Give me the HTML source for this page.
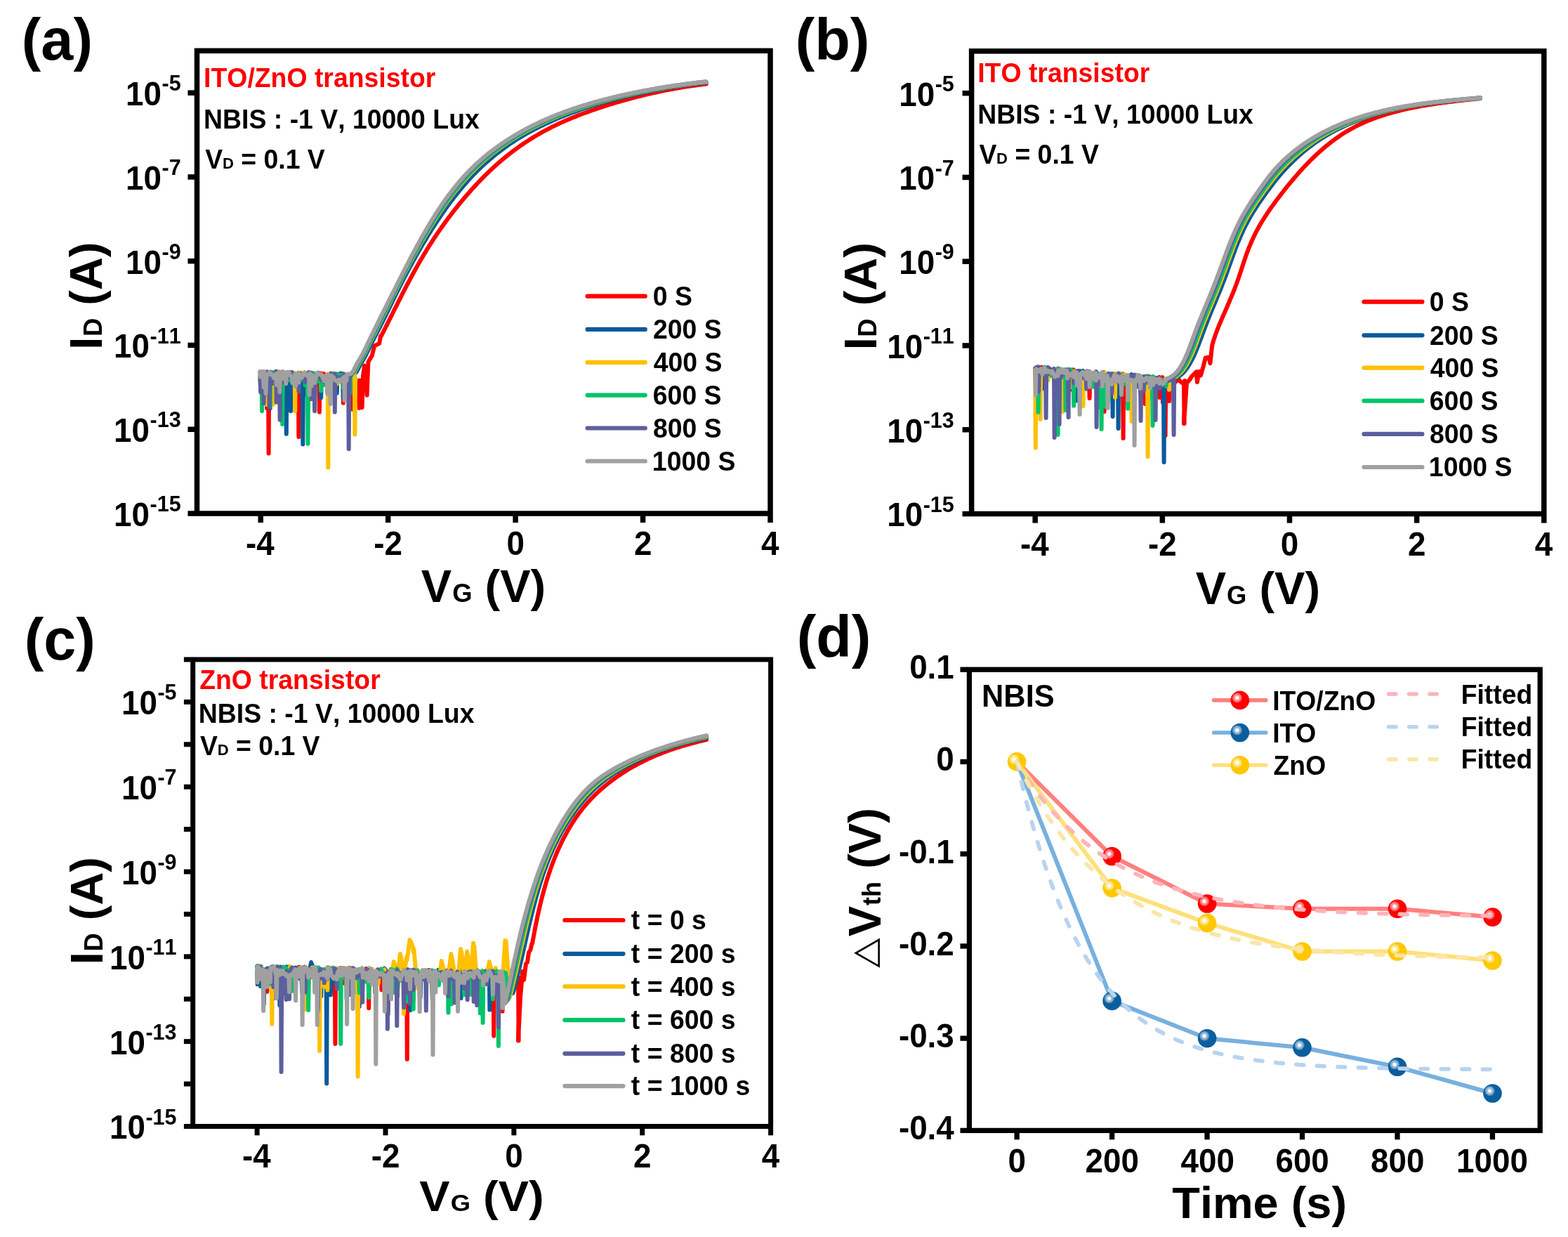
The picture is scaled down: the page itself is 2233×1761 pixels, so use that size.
<!DOCTYPE html>
<html><head><meta charset="utf-8"><title>NBIS transfer characteristics</title>
<style>
html,body{margin:0;padding:0;background:#fff;}
svg{display:block;}
text{font-family:'Liberation Sans', Arial, Helvetica, sans-serif;font-weight:bold;font-kerning:none;white-space:pre;}
</style></head><body>
<svg width="2233" height="1761" viewBox="0 0 2233 1761">
<rect width="2233" height="1761" fill="#fff"/>
<clipPath id="aclip"><rect x="280.5" y="72.3" width="816.5" height="658.7"/></clipPath>
<g clip-path="url(#aclip)">
<path d="M370.5,529.0 L371.1,530.7 L371.7,530.6 L375.0,529.2 L375.6,530.7 L376.2,532.9 L379.6,536.4 L380.2,581.4 L380.8,529.5 L382.0,533.2 L382.6,645.5 L383.2,534.9 L388.6,531.7 L389.2,532.6 L389.8,535.7 L393.1,528.7 L393.7,547.0 L394.3,539.4 L397.7,538.6 L398.3,547.4 L398.9,535.3 L402.2,529.3 L402.8,530.3 L403.4,536.7 L406.7,536.4 L407.3,548.0 L407.9,539.3 L411.3,532.5 L411.9,533.2 L412.5,537.4 L415.8,538.5 L416.4,541.0 L417.0,536.6 L420.3,534.2 L420.9,534.5 L421.5,537.9 L424.8,539.0 L425.4,622.0 L426.0,534.0 L429.4,537.5 L430.0,538.3 L430.6,533.0 L433.9,536.1 L434.5,536.7 L435.1,534.3 L438.4,532.0 L439.0,533.7 L439.6,538.3 L443.0,540.3 L443.6,540.8 L444.2,532.5 L447.5,540.9 L448.1,543.8 L448.7,537.2 L454.3,539.1 L454.9,586.6 L455.5,539.2 L456.6,531.5 L457.2,536.7 L457.8,532.7 L461.1,532.1 L461.7,547.7 L462.3,534.0 L465.6,541.5 L466.2,555.8 L466.8,538.7 L470.2,538.8 L470.8,539.9 L471.4,531.6 L474.7,537.6 L475.3,539.2 L475.9,538.5 L479.2,537.4 L479.8,545.3 L480.4,533.5 L483.7,536.7 L484.3,537.9 L484.9,537.3 L488.3,531.8 L488.9,573.8 L489.5,537.4 L492.8,536.0 L493.4,537.1 L494.0,535.9 L497.3,535.7 L497.9,538.0 L498.5,535.6 L501.9,538.0 L502.5,583.0 L503.1,542.1 L511.0,542.5 L511.6,581.0 L512.2,541.4 L511.0,572.0 L515.6,580.2 L517.0,535.0 L519.1,520.5 L521.0,530.0 L522.6,562.6 L524.4,515.2 L529.7,506.4 L533.2,492.4 L540.2,488.9 L542.0,478.3 L542.7,478.7 L544.0,476.2 L545.3,473.6 L546.5,471.1 L547.8,468.6 L549.1,466.0 L550.4,463.5 L551.7,461.0 L552.9,458.4 L554.2,455.9 L555.5,453.4 L556.7,450.8 L558.0,448.3 L559.3,445.8 L560.5,443.2 L561.8,440.7 L563.1,438.2 L564.4,435.6 L565.6,433.1 L566.9,430.6 L568.2,428.0 L569.5,425.5 L570.8,423.0 L572.0,420.4 L573.3,417.9 L574.6,415.4 L575.9,412.9 L577.2,410.3 L578.5,407.8 L579.8,405.3 L581.2,402.8 L582.5,400.3 L583.8,397.8 L585.2,395.3 L586.5,392.8 L587.8,390.3 L589.2,387.8 L590.6,385.3 L591.9,382.8 L593.3,380.4 L594.7,377.9 L596.1,375.4 L597.5,373.0 L598.9,370.5 L600.4,368.1 L601.8,365.6 L603.2,363.2 L604.7,360.7 L606.2,358.3 L607.6,355.9 L609.1,353.5 L610.6,351.1 L612.1,348.7 L613.7,346.3 L615.2,343.9 L616.7,341.5 L618.3,339.1 L619.9,336.8 L621.5,334.4 L623.0,332.1 L624.6,329.7 L626.3,327.4 L627.9,325.1 L629.5,322.8 L631.2,320.4 L632.8,318.1 L634.5,315.9 L636.2,313.6 L637.8,311.3 L639.5,309.0 L641.3,306.8 L643.0,304.5 L644.7,302.3 L646.4,300.0 L648.2,297.8 L650.0,295.6 L651.7,293.4 L653.5,291.2 L655.3,289.0 L657.1,286.8 L659.0,284.6 L660.8,282.4 L662.6,280.3 L664.5,278.1 L666.3,276.0 L668.2,273.9 L670.1,271.7 L672.0,269.6 L673.9,267.5 L675.8,265.4 L677.7,263.4 L679.7,261.3 L681.6,259.2 L683.6,257.2 L685.5,255.1 L687.5,253.1 L689.5,251.1 L691.5,249.1 L693.6,247.1 L695.6,245.1 L697.6,243.2 L699.7,241.2 L701.8,239.3 L703.9,237.4 L706.0,235.5 L708.1,233.6 L710.2,231.7 L712.4,229.8 L714.5,228.0 L716.7,226.2 L718.9,224.4 L721.1,222.6 L723.3,220.8 L725.5,219.1 L727.8,217.3 L730.0,215.6 L732.3,213.9 L734.6,212.2 L736.9,210.6 L739.2,208.9 L741.5,207.3 L743.8,205.7 L746.2,204.1 L748.5,202.5 L750.9,201.0 L753.3,199.4 L755.7,197.9 L758.1,196.4 L760.5,194.9 L762.9,193.5 L765.4,192.0 L767.8,190.6 L770.3,189.2 L772.8,187.8 L775.3,186.4 L777.8,185.1 L780.3,183.8 L782.8,182.5 L785.3,181.2 L787.9,179.9 L790.4,178.7 L793.0,177.5 L795.5,176.2 L798.1,175.1 L800.7,173.9 L803.3,172.7 L805.9,171.6 L808.5,170.5 L811.1,169.4 L813.7,168.3 L816.3,167.2 L819.0,166.1 L821.6,165.1 L824.2,164.0 L826.9,163.0 L829.5,162.0 L832.2,161.0 L834.9,160.1 L837.5,159.1 L840.2,158.1 L842.9,157.2 L845.5,156.3 L848.2,155.4 L850.9,154.4 L853.6,153.6 L856.3,152.7 L859.0,151.8 L861.7,150.9 L864.4,150.1 L867.1,149.2 L869.8,148.4 L872.5,147.6 L875.2,146.7 L878.0,145.9 L880.7,145.1 L883.4,144.3 L886.1,143.6 L888.9,142.8 L891.6,142.0 L894.3,141.3 L897.1,140.5 L899.8,139.8 L902.6,139.1 L905.3,138.4 L908.0,137.7 L910.8,137.0 L913.5,136.3 L916.3,135.6 L919.1,134.9 L921.8,134.3 L924.6,133.6 L927.3,133.0 L930.1,132.4 L932.9,131.8 L935.7,131.2 L938.4,130.6 L941.2,130.0 L944.0,129.4 L946.8,128.9 L949.5,128.3 L952.3,127.8 L955.1,127.3 L957.9,126.7 L960.7,126.2 L963.5,125.7 L966.3,125.2 L969.1,124.8 L971.9,124.3 L974.7,123.9 L977.5,123.4 L980.3,123.0 L983.1,122.6 L985.9,122.1 L988.7,121.7 L991.5,121.4 L994.3,121.0 L997.1,120.6 L999.9,120.3 L1002.8,119.9 L1005.6,119.6" fill="none" stroke="#FF0000" stroke-width="6" stroke-linecap="round" stroke-linejoin="round" />
<path d="M370.5,537.0 L371.1,555.2 L371.7,530.8 L375.0,531.0 L375.6,560.9 L376.2,534.4 L379.6,534.7 L380.2,548.7 L380.8,529.4 L384.1,536.2 L384.7,581.2 L385.3,529.4 L388.6,533.0 L389.2,540.1 L389.8,535.9 L393.1,538.9 L393.7,545.7 L394.3,531.4 L397.7,532.6 L398.3,548.8 L398.9,531.3 L402.2,530.4 L402.8,533.0 L403.4,533.5 L407.2,540.1 L407.8,617.8 L408.4,530.7 L413.4,529.8 L414.0,585.3 L414.6,535.7 L415.8,539.7 L416.4,541.5 L417.0,535.3 L420.3,534.1 L420.9,554.7 L421.5,538.8 L424.9,534.1 L425.5,535.0 L426.1,532.6 L430.7,533.9 L431.3,632.4 L431.9,538.2 L433.9,535.6 L434.5,562.1 L435.1,531.7 L438.4,536.3 L439.0,542.9 L439.6,540.7 L443.0,538.6 L443.6,567.7 L444.2,537.7 L447.5,540.0 L448.1,544.2 L448.7,537.8 L452.0,537.8 L452.6,539.6 L453.2,534.0 L456.6,539.2 L457.2,566.2 L457.8,535.9 L461.1,540.2 L461.7,541.3 L462.3,537.8 L465.6,534.8 L466.2,556.8 L466.8,538.8 L470.2,540.6 L470.8,541.8 L471.4,541.6 L474.7,541.0 L475.3,556.6 L475.9,535.6 L479.2,538.5 L479.8,559.7 L480.4,533.1 L483.7,539.3 L484.3,540.6 L484.9,531.5 L488.3,536.3 L488.9,567.0 L489.5,537.7 L492.8,534.0 L493.4,548.3 L494.0,537.7 L505.0,541.7 L505.6,565.0 L506.2,541.5 L504.4,533.3 L506.5,531.0 L508.3,528.4 L509.8,525.6 L511.3,522.8 L512.8,520.0 L514.3,517.2 L515.9,514.4 L517.5,511.7 L519.1,508.9 L520.6,506.1 L522.0,503.3 L523.4,500.4 L524.8,497.6 L526.2,494.7 L527.5,491.8 L529.0,489.0 L530.4,486.1 L531.8,483.3 L533.3,480.5 L534.8,477.7 L536.2,474.9 L537.7,472.0 L539.1,469.2 L540.6,466.4 L542.0,463.5 L543.4,460.7 L544.9,457.8 L546.3,455.0 L547.7,452.1 L549.1,449.3 L550.5,446.4 L551.9,443.6 L553.3,440.7 L554.7,437.9 L556.1,435.0 L557.5,432.1 L558.8,429.3 L560.2,426.4 L561.6,423.6 L563.0,420.7 L564.4,417.9 L565.8,415.0 L567.3,412.2 L568.7,409.3 L570.1,406.5 L571.5,403.6 L573.0,400.8 L574.4,398.0 L575.9,395.2 L577.4,392.3 L578.9,389.5 L580.3,386.7 L581.8,383.9 L583.3,381.1 L584.8,378.3 L586.4,375.5 L587.9,372.7 L589.4,369.9 L591.0,367.2 L592.5,364.4 L594.1,361.6 L595.6,358.8 L597.2,356.1 L598.8,353.3 L600.4,350.6 L602.0,347.8 L603.6,345.1 L605.3,342.4 L606.9,339.7 L608.5,336.9 L610.2,334.2 L611.9,331.5 L613.6,328.8 L615.2,326.1 L617.0,323.5 L618.7,320.8 L620.4,318.1 L622.1,315.5 L623.9,312.8 L625.7,310.2 L627.5,307.5 L629.2,304.9 L631.1,302.3 L632.9,299.7 L634.7,297.1 L636.6,294.5 L638.4,292.0 L640.3,289.4 L642.2,286.8 L644.1,284.3 L646.1,281.8 L648.0,279.3 L650.0,276.8 L652.0,274.3 L654.0,271.8 L656.0,269.4 L658.0,266.9 L660.1,264.5 L662.2,262.1 L664.3,259.7 L666.4,257.3 L668.5,255.0 L670.7,252.6 L672.9,250.3 L675.1,248.0 L677.3,245.8 L679.5,243.5 L681.8,241.3 L684.1,239.1 L686.4,236.9 L688.7,234.7 L691.1,232.6 L693.4,230.5 L695.8,228.4 L698.2,226.3 L700.7,224.3 L703.1,222.2 L705.6,220.2 L708.1,218.2 L710.6,216.3 L713.1,214.4 L715.7,212.5 L718.2,210.6 L720.8,208.7 L723.4,206.9 L726.0,205.1 L728.6,203.3 L731.3,201.6 L734.0,199.8 L736.6,198.1 L739.3,196.4 L742.1,194.8 L744.8,193.2 L747.5,191.6 L750.3,190.0 L753.1,188.4 L755.9,186.9 L758.7,185.4 L761.5,183.9 L764.3,182.5 L767.1,181.0 L770.0,179.6 L772.8,178.2 L775.7,176.8 L778.6,175.5 L781.5,174.2 L784.4,172.9 L787.3,171.6 L790.2,170.3 L793.1,169.1 L796.1,167.8 L799.0,166.6 L801.9,165.4 L804.9,164.2 L807.9,163.1 L810.8,162.0 L813.8,160.8 L816.8,159.7 L819.8,158.6 L822.8,157.6 L825.8,156.5 L828.8,155.5 L831.8,154.4 L834.8,153.4 L837.8,152.4 L840.8,151.5 L843.9,150.5 L846.9,149.6 L849.9,148.6 L853.0,147.7 L856.0,146.8 L859.1,145.9 L862.1,145.0 L865.2,144.2 L868.3,143.3 L871.3,142.5 L874.4,141.7 L877.5,140.9 L880.5,140.1 L883.6,139.3 L886.7,138.5 L889.8,137.8 L892.9,137.0 L896.0,136.3 L899.1,135.6 L902.2,134.9 L905.3,134.2 L908.4,133.5 L911.5,132.8 L914.6,132.1 L917.7,131.5 L920.8,130.8 L923.9,130.2 L927.0,129.6 L930.2,129.0 L933.3,128.4 L936.4,127.8 L939.5,127.2 L942.7,126.6 L945.8,126.1 L948.9,125.5 L952.1,125.0 L955.2,124.5 L958.3,124.0 L961.5,123.5 L964.6,123.0 L967.8,122.5 L970.9,122.0 L974.1,121.6 L977.2,121.1 L980.4,120.7 L983.5,120.3 L986.7,119.8 L989.8,119.4 L993.0,119.0 L996.1,118.7 L999.3,118.3 L1002.4,117.9 L1005.6,117.6" fill="none" stroke="#0A5A9C" stroke-width="6" stroke-linecap="round" stroke-linejoin="round" />
<path d="M370.5,537.8 L371.1,548.8 L371.7,530.2 L375.0,536.3 L375.6,538.3 L376.2,533.1 L379.6,532.2 L380.2,576.1 L380.8,535.5 L384.1,534.1 L384.7,571.3 L385.3,532.1 L388.6,530.6 L389.2,575.6 L389.8,530.2 L393.1,539.6 L393.7,540.3 L394.3,531.3 L397.7,535.4 L398.3,536.1 L398.9,534.2 L402.2,538.6 L402.8,541.0 L403.4,534.1 L406.7,539.1 L407.3,540.8 L407.9,534.6 L411.3,531.3 L411.9,534.1 L412.5,534.8 L415.8,529.6 L416.4,532.2 L417.0,536.7 L419.6,531.0 L420.2,585.3 L420.8,538.3 L424.9,533.9 L425.5,536.1 L426.1,535.3 L429.4,530.5 L430.0,532.0 L430.6,532.1 L433.9,537.2 L434.5,539.4 L435.1,538.5 L438.4,536.1 L439.0,581.1 L439.6,532.6 L443.0,537.8 L443.6,539.5 L444.2,539.9 L447.5,534.7 L448.1,535.8 L448.7,534.0 L452.0,540.8 L452.6,541.0 L453.2,531.8 L456.6,540.9 L457.2,540.9 L457.8,534.3 L461.1,535.7 L461.7,538.1 L462.3,538.2 L466.7,532.6 L467.3,665.6 L467.9,535.3 L470.2,540.2 L470.8,548.6 L471.4,535.6 L474.7,538.3 L475.3,546.9 L475.9,531.7 L479.2,534.1 L479.8,546.7 L480.4,539.3 L483.7,539.1 L484.3,539.6 L484.9,534.7 L488.3,534.2 L488.9,535.1 L489.5,538.2 L492.8,535.5 L493.4,535.7 L494.0,540.5 L504.8,532.6 L505.4,618.5 L506.0,540.2 L501.9,532.8 L504.1,530.5 L505.9,527.9 L507.4,525.1 L508.9,522.2 L510.3,519.4 L511.9,516.6 L513.5,513.8 L515.1,511.1 L516.7,508.3 L518.2,505.5 L519.7,502.7 L521.1,499.8 L522.5,496.9 L523.9,494.1 L525.3,491.2 L526.7,488.3 L528.1,485.4 L529.5,482.6 L531.0,479.7 L532.4,476.9 L533.8,474.0 L535.3,471.2 L536.7,468.3 L538.1,465.4 L539.5,462.6 L541.0,459.7 L542.4,456.9 L543.8,454.0 L545.2,451.1 L546.7,448.3 L548.1,445.4 L549.5,442.5 L550.9,439.7 L552.3,436.8 L553.8,433.9 L555.2,431.1 L556.6,428.2 L558.0,425.3 L559.4,422.5 L560.8,419.6 L562.3,416.8 L563.7,413.9 L565.1,411.0 L566.5,408.2 L568.0,405.3 L569.4,402.5 L570.9,399.6 L572.3,396.8 L573.8,393.9 L575.2,391.1 L576.7,388.2 L578.2,385.4 L579.7,382.6 L581.2,379.8 L582.6,376.9 L584.1,374.1 L585.7,371.3 L587.2,368.5 L588.7,365.7 L590.2,362.9 L591.8,360.0 L593.3,357.3 L594.8,354.5 L596.4,351.7 L598.0,348.9 L599.5,346.1 L601.1,343.3 L602.7,340.6 L604.3,337.8 L606.0,335.0 L607.6,332.3 L609.2,329.6 L610.9,326.8 L612.5,324.1 L614.2,321.4 L615.9,318.7 L617.6,316.0 L619.3,313.3 L621.0,310.6 L622.8,307.9 L624.5,305.2 L626.3,302.6 L628.1,299.9 L629.9,297.3 L631.7,294.6 L633.6,292.0 L635.4,289.4 L637.3,286.8 L639.2,284.3 L641.1,281.7 L643.0,279.1 L644.9,276.6 L646.9,274.1 L648.9,271.6 L650.9,269.1 L652.9,266.6 L654.9,264.1 L657.0,261.7 L659.1,259.3 L661.2,256.9 L663.3,254.5 L665.5,252.1 L667.7,249.8 L669.9,247.5 L672.1,245.2 L674.3,242.9 L676.6,240.6 L678.9,238.4 L681.2,236.2 L683.5,234.0 L685.9,231.9 L688.3,229.7 L690.7,227.6 L693.1,225.5 L695.6,223.5 L698.0,221.5 L700.5,219.5 L703.0,217.5 L705.5,215.5 L708.1,213.6 L710.7,211.7 L713.2,209.8 L715.8,207.9 L718.4,206.1 L721.1,204.3 L723.7,202.5 L726.4,200.7 L729.1,199.0 L731.8,197.3 L734.5,195.6 L737.2,194.0 L740.0,192.3 L742.7,190.7 L745.5,189.1 L748.3,187.6 L751.1,186.0 L753.9,184.5 L756.7,183.0 L759.6,181.6 L762.4,180.1 L765.3,178.7 L768.2,177.3 L771.1,175.9 L774.0,174.6 L776.9,173.2 L779.8,171.9 L782.7,170.6 L785.6,169.4 L788.6,168.1 L791.5,166.9 L794.5,165.7 L797.4,164.5 L800.4,163.3 L803.4,162.2 L806.4,161.0 L809.4,159.9 L812.4,158.8 L815.4,157.7 L818.4,156.7 L821.4,155.6 L824.5,154.6 L827.5,153.6 L830.5,152.6 L833.6,151.6 L836.6,150.6 L839.7,149.7 L842.7,148.7 L845.8,147.8 L848.8,146.9 L851.9,146.0 L855.0,145.2 L858.1,144.3 L861.1,143.5 L864.2,142.6 L867.3,141.8 L870.4,141.0 L873.5,140.2 L876.6,139.4 L879.7,138.7 L882.8,137.9 L885.9,137.2 L889.0,136.4 L892.2,135.7 L895.3,135.0 L898.4,134.3 L901.5,133.6 L904.6,133.0 L907.8,132.3 L910.9,131.6 L914.0,131.0 L917.2,130.4 L920.3,129.7 L923.4,129.1 L926.6,128.5 L929.7,128.0 L932.9,127.4 L936.0,126.8 L939.1,126.2 L942.3,125.7 L945.4,125.2 L948.6,124.6 L951.8,124.1 L954.9,123.6 L958.1,123.1 L961.2,122.6 L964.4,122.2 L967.5,121.7 L970.7,121.2 L973.9,120.8 L977.0,120.4 L980.2,119.9 L983.4,119.5 L986.6,119.1 L989.7,118.7 L992.9,118.3 L996.1,118.0 L999.2,117.6 L1002.4,117.2 L1005.6,116.9" fill="none" stroke="#FFC000" stroke-width="6" stroke-linecap="round" stroke-linejoin="round" />
<path d="M372.5,535.0 L373.1,585.3 L373.7,536.4 L375.0,538.7 L375.6,548.8 L376.2,532.7 L379.6,534.7 L380.2,549.1 L380.8,530.5 L384.1,534.0 L384.7,579.0 L385.3,537.5 L388.6,529.9 L389.2,530.8 L389.8,530.9 L393.1,530.0 L393.7,530.1 L394.3,529.6 L397.7,529.5 L398.3,530.6 L398.9,539.2 L401.6,531.1 L402.2,604.0 L402.8,538.5 L406.7,534.9 L407.3,536.5 L407.9,534.9 L411.3,530.2 L411.9,541.2 L412.5,530.1 L415.8,536.3 L416.4,537.0 L417.0,537.5 L420.3,532.4 L420.9,540.2 L421.5,533.6 L424.9,531.3 L425.5,532.5 L426.1,531.9 L429.4,533.5 L430.0,534.2 L430.6,540.5 L433.9,531.6 L434.5,548.4 L435.1,535.3 L437.9,536.6 L438.5,631.7 L439.1,537.5 L443.0,537.3 L443.6,538.0 L444.2,530.8 L447.5,531.6 L448.1,538.1 L448.7,538.9 L452.0,535.4 L452.6,543.1 L453.2,532.7 L456.6,540.0 L457.2,556.2 L457.8,534.3 L461.1,538.9 L461.7,547.3 L462.3,538.5 L465.6,535.2 L466.2,557.3 L466.8,537.2 L470.2,540.9 L470.8,547.9 L471.4,541.5 L474.7,531.6 L475.3,533.6 L475.9,535.3 L479.2,537.5 L479.8,539.4 L480.4,532.2 L483.7,534.7 L484.3,537.0 L484.9,540.1 L488.3,540.2 L488.9,552.2 L489.5,532.1 L492.8,539.5 L493.4,546.2 L494.0,538.2 L498.0,539.6 L498.6,560.0 L499.2,535.7 L501.3,532.7 L503.5,530.4 L505.3,527.8 L506.8,525.0 L508.2,522.1 L509.7,519.2 L511.2,516.4 L512.9,513.7 L514.5,511.0 L516.1,508.2 L517.6,505.4 L519.1,502.5 L520.6,499.7 L522.0,496.8 L523.3,493.9 L524.7,491.0 L526.1,488.1 L527.5,485.3 L528.9,482.4 L530.4,479.5 L531.8,476.7 L533.2,473.8 L534.6,470.9 L536.1,468.1 L537.5,465.2 L538.9,462.3 L540.4,459.5 L541.8,456.6 L543.2,453.8 L544.6,450.9 L546.1,448.0 L547.5,445.2 L548.9,442.3 L550.3,439.4 L551.8,436.6 L553.2,433.7 L554.6,430.8 L556.0,427.9 L557.4,425.1 L558.9,422.2 L560.3,419.3 L561.7,416.5 L563.1,413.6 L564.6,410.8 L566.0,407.9 L567.4,405.0 L568.9,402.2 L570.3,399.3 L571.8,396.5 L573.2,393.6 L574.7,390.8 L576.2,387.9 L577.6,385.1 L579.1,382.3 L580.6,379.4 L582.1,376.6 L583.6,373.8 L585.1,370.9 L586.6,368.1 L588.1,365.3 L589.6,362.5 L591.2,359.7 L592.7,356.9 L594.3,354.0 L595.8,351.3 L597.4,348.5 L598.9,345.7 L600.5,342.9 L602.1,340.1 L603.7,337.3 L605.3,334.6 L606.9,331.8 L608.6,329.1 L610.2,326.3 L611.9,323.6 L613.5,320.8 L615.2,318.1 L616.9,315.4 L618.6,312.7 L620.3,310.0 L622.1,307.3 L623.8,304.6 L625.6,302.0 L627.4,299.3 L629.2,296.7 L631.0,294.0 L632.8,291.4 L634.7,288.8 L636.5,286.2 L638.4,283.6 L640.3,281.0 L642.2,278.5 L644.2,275.9 L646.1,273.4 L648.1,270.9 L650.1,268.4 L652.1,265.9 L654.2,263.4 L656.2,261.0 L658.3,258.6 L660.4,256.2 L662.6,253.8 L664.7,251.4 L666.9,249.1 L669.1,246.7 L671.3,244.4 L673.6,242.2 L675.9,239.9 L678.2,237.7 L680.5,235.5 L682.8,233.3 L685.2,231.2 L687.6,229.0 L690.0,226.9 L692.4,224.8 L694.9,222.8 L697.4,220.8 L699.9,218.8 L702.4,216.8 L704.9,214.8 L707.5,212.9 L710.0,211.0 L712.6,209.1 L715.2,207.3 L717.9,205.4 L720.5,203.6 L723.2,201.9 L725.8,200.1 L728.5,198.4 L731.2,196.7 L734.0,195.0 L736.7,193.3 L739.5,191.7 L742.2,190.1 L745.0,188.5 L747.8,187.0 L750.6,185.4 L753.4,183.9 L756.3,182.4 L759.1,181.0 L762.0,179.5 L764.8,178.1 L767.7,176.7 L770.6,175.3 L773.5,174.0 L776.4,172.7 L779.4,171.4 L782.3,170.1 L785.2,168.8 L788.2,167.6 L791.1,166.3 L794.1,165.1 L797.1,163.9 L800.0,162.8 L803.0,161.6 L806.0,160.5 L809.0,159.4 L812.0,158.3 L815.0,157.2 L818.1,156.2 L821.1,155.1 L824.1,154.1 L827.2,153.1 L830.2,152.1 L833.3,151.1 L836.3,150.2 L839.4,149.2 L842.4,148.3 L845.5,147.4 L848.6,146.5 L851.7,145.6 L854.7,144.8 L857.8,143.9 L860.9,143.1 L864.0,142.2 L867.1,141.4 L870.2,140.6 L873.3,139.8 L876.4,139.1 L879.5,138.3 L882.6,137.6 L885.7,136.8 L888.9,136.1 L892.0,135.4 L895.1,134.7 L898.2,134.0 L901.3,133.3 L904.5,132.7 L907.6,132.0 L910.7,131.4 L913.9,130.7 L917.0,130.1 L920.2,129.5 L923.3,128.9 L926.4,128.3 L929.6,127.7 L932.7,127.1 L935.9,126.6 L939.0,126.0 L942.2,125.5 L945.4,124.9 L948.5,124.4 L951.7,123.9 L954.8,123.4 L958.0,122.9 L961.2,122.4 L964.3,122.0 L967.5,121.5 L970.7,121.0 L973.8,120.6 L977.0,120.2 L980.2,119.7 L983.4,119.3 L986.5,118.9 L989.7,118.5 L992.9,118.2 L996.1,117.8 L999.2,117.4 L1002.4,117.1 L1005.6,116.7" fill="none" stroke="#00C46A" stroke-width="6" stroke-linecap="round" stroke-linejoin="round" />
<path d="M370.5,530.9 L371.1,558.2 L371.7,538.3 L375.0,538.2 L375.6,574.1 L376.2,535.9 L379.6,529.6 L380.2,546.2 L380.8,533.8 L383.0,537.9 L383.6,579.7 L384.2,536.8 L388.6,539.3 L389.2,545.9 L389.8,532.6 L393.1,529.9 L393.7,572.6 L394.3,536.6 L398.0,530.1 L398.6,597.7 L399.2,536.2 L402.2,533.3 L402.8,544.6 L403.4,533.3 L406.7,537.8 L407.3,539.3 L407.9,530.4 L411.3,531.8 L411.9,534.8 L412.5,537.3 L415.8,530.1 L416.4,531.6 L417.0,533.8 L420.3,533.4 L420.9,533.8 L421.5,538.1 L424.9,535.3 L425.5,557.1 L426.1,531.3 L429.4,532.6 L430.0,538.5 L430.6,538.6 L433.9,536.8 L434.5,544.2 L435.1,532.8 L438.4,535.3 L439.0,535.6 L439.6,530.1 L443.0,530.6 L443.6,568.1 L444.2,540.8 L447.5,540.2 L448.1,585.2 L448.7,538.4 L452.0,531.2 L452.6,532.1 L453.2,530.6 L456.6,538.8 L457.2,540.7 L457.8,536.4 L461.1,541.4 L461.7,543.9 L462.3,536.0 L465.6,537.3 L466.2,550.3 L466.8,536.4 L470.2,533.2 L470.8,534.1 L471.4,535.8 L476.2,533.5 L476.8,586.6 L477.4,532.3 L479.2,540.5 L479.8,540.6 L480.4,539.0 L483.7,541.1 L484.3,541.5 L484.9,536.6 L488.3,539.8 L488.9,541.9 L489.5,533.2 L496.1,537.5 L496.7,639.3 L497.3,538.9 L500.0,532.4 L502.3,530.2 L504.1,527.6 L505.6,524.7 L507.0,521.8 L508.4,519.0 L510.0,516.2 L511.6,513.4 L513.3,510.7 L514.9,507.9 L516.5,505.1 L518.0,502.2 L519.4,499.4 L520.8,496.5 L522.2,493.6 L523.6,490.7 L525.0,487.8 L526.4,484.9 L527.8,482.0 L529.2,479.1 L530.6,476.3 L532.0,473.4 L533.4,470.5 L534.9,467.6 L536.3,464.8 L537.7,461.9 L539.1,459.0 L540.6,456.1 L542.0,453.3 L543.4,450.4 L544.9,447.5 L546.3,444.6 L547.7,441.8 L549.2,438.9 L550.6,436.0 L552.0,433.2 L553.5,430.3 L554.9,427.4 L556.3,424.5 L557.7,421.7 L559.2,418.8 L560.6,415.9 L562.1,413.1 L563.5,410.2 L564.9,407.3 L566.4,404.5 L567.8,401.6 L569.3,398.7 L570.7,395.9 L572.2,393.0 L573.6,390.1 L575.1,387.3 L576.6,384.4 L578.0,381.6 L579.5,378.7 L581.0,375.9 L582.5,373.1 L584.0,370.2 L585.5,367.4 L587.0,364.5 L588.5,361.7 L590.0,358.9 L591.5,356.1 L593.1,353.2 L594.6,350.4 L596.2,347.6 L597.7,344.8 L599.3,342.0 L600.8,339.2 L602.4,336.4 L604.0,333.6 L605.6,330.8 L607.2,328.1 L608.9,325.3 L610.5,322.5 L612.2,319.8 L613.8,317.1 L615.5,314.3 L617.2,311.6 L618.9,308.9 L620.6,306.2 L622.4,303.5 L624.1,300.8 L625.9,298.1 L627.7,295.4 L629.5,292.8 L631.3,290.1 L633.1,287.5 L635.0,284.9 L636.9,282.3 L638.8,279.7 L640.7,277.1 L642.6,274.6 L644.6,272.0 L646.6,269.5 L648.6,267.0 L650.6,264.5 L652.6,262.0 L654.7,259.6 L656.8,257.2 L658.9,254.7 L661.1,252.4 L663.2,250.0 L665.4,247.6 L667.6,245.3 L669.9,243.0 L672.1,240.7 L674.4,238.5 L676.7,236.2 L679.0,234.0 L681.4,231.9 L683.8,229.7 L686.2,227.6 L688.6,225.5 L691.1,223.4 L693.5,221.4 L696.0,219.4 L698.6,217.4 L701.1,215.4 L703.6,213.5 L706.2,211.5 L708.8,209.6 L711.4,207.8 L714.0,205.9 L716.7,204.1 L719.3,202.3 L722.0,200.6 L724.7,198.8 L727.4,197.1 L730.2,195.4 L732.9,193.7 L735.6,192.1 L738.4,190.5 L741.2,188.9 L744.0,187.3 L746.8,185.8 L749.6,184.2 L752.5,182.7 L755.3,181.2 L758.2,179.8 L761.0,178.4 L763.9,176.9 L766.8,175.6 L769.7,174.2 L772.6,172.9 L775.6,171.5 L778.5,170.2 L781.4,169.0 L784.4,167.7 L787.4,166.5 L790.3,165.2 L793.3,164.0 L796.3,162.9 L799.3,161.7 L802.3,160.6 L805.3,159.5 L808.3,158.4 L811.3,157.3 L814.4,156.2 L817.4,155.2 L820.4,154.1 L823.5,153.1 L826.5,152.1 L829.6,151.2 L832.6,150.2 L835.7,149.3 L838.8,148.3 L841.9,147.4 L844.9,146.5 L848.0,145.6 L851.1,144.8 L854.2,143.9 L857.3,143.1 L860.4,142.3 L863.5,141.5 L866.6,140.7 L869.7,139.9 L872.9,139.1 L876.0,138.4 L879.1,137.6 L882.2,136.9 L885.3,136.2 L888.5,135.5 L891.6,134.8 L894.7,134.1 L897.9,133.4 L901.0,132.7 L904.2,132.1 L907.3,131.4 L910.4,130.8 L913.6,130.2 L916.7,129.5 L919.9,128.9 L923.1,128.4 L926.2,127.8 L929.4,127.2 L932.5,126.6 L935.7,126.1 L938.8,125.5 L942.0,125.0 L945.2,124.5 L948.3,124.0 L951.5,123.5 L954.7,123.0 L957.9,122.5 L961.0,122.0 L964.2,121.5 L967.4,121.1 L970.6,120.6 L973.7,120.2 L976.9,119.8 L980.1,119.4 L983.3,119.0 L986.5,118.6 L989.7,118.2 L992.8,117.8 L996.0,117.4 L999.2,117.1 L1002.4,116.7 L1005.6,116.4" fill="none" stroke="#5C5F9E" stroke-width="6" stroke-linecap="round" stroke-linejoin="round" />
<path d="M370.5,529.0 L371.1,536.5 L371.7,531.1 L375.0,532.7 L375.6,551.1 L376.2,528.8 L378.0,539.2 L378.6,560.0 L379.2,536.3 L384.1,529.8 L384.7,532.2 L385.3,533.0 L388.6,533.6 L389.2,536.2 L389.8,537.9 L393.1,532.3 L393.7,547.9 L394.3,533.8 L397.7,529.3 L398.3,558.2 L398.9,534.0 L402.2,531.0 L402.8,539.1 L403.4,529.0 L406.7,535.1 L407.3,546.1 L407.9,530.5 L411.3,530.1 L411.9,531.0 L412.5,533.8 L415.8,537.2 L416.4,545.2 L417.0,538.1 L420.3,532.6 L420.9,549.9 L421.5,536.0 L424.9,530.5 L425.5,544.5 L426.1,532.8 L429.4,537.3 L430.0,537.7 L430.6,533.1 L433.9,530.1 L434.5,533.0 L435.1,534.0 L440.0,535.6 L440.6,562.0 L441.2,531.6 L443.0,539.2 L443.6,549.6 L444.2,533.7 L447.5,539.4 L448.1,545.0 L448.7,540.3 L452.0,531.0 L452.6,533.2 L453.2,532.1 L456.6,532.6 L457.2,532.7 L457.8,533.6 L461.1,540.9 L461.7,542.4 L462.3,535.7 L465.6,541.3 L466.2,560.7 L466.8,532.9 L470.0,536.6 L470.6,575.0 L471.2,534.6 L474.7,536.7 L475.3,537.9 L475.9,540.3 L479.2,542.1 L479.8,542.8 L480.4,541.9 L483.7,540.6 L484.3,543.5 L484.9,541.8 L490.0,536.8 L490.6,570.0 L491.2,537.3 L492.8,541.9 L493.4,542.2 L494.0,532.8 L499.4,532.3 L501.7,530.1 L503.6,527.5 L505.0,524.6 L506.4,521.7 L507.8,518.8 L509.4,516.0 L511.0,513.2 L512.7,510.5 L514.3,507.7 L515.9,504.9 L517.4,502.1 L518.8,499.2 L520.3,496.3 L521.7,493.4 L523.0,490.5 L524.4,487.6 L525.8,484.7 L527.2,481.8 L528.6,478.9 L530.0,476.1 L531.4,473.2 L532.8,470.3 L534.2,467.4 L535.7,464.5 L537.1,461.6 L538.5,458.8 L539.9,455.9 L541.4,453.0 L542.8,450.1 L544.3,447.3 L545.7,444.4 L547.1,441.5 L548.6,438.6 L550.0,435.8 L551.4,432.9 L552.9,430.0 L554.3,427.1 L555.8,424.3 L557.2,421.4 L558.6,418.5 L560.1,415.7 L561.5,412.8 L563.0,409.9 L564.4,407.0 L565.8,404.2 L567.3,401.3 L568.7,398.4 L570.2,395.6 L571.7,392.7 L573.1,389.8 L574.6,387.0 L576.0,384.1 L577.5,381.3 L579.0,378.4 L580.5,375.6 L581.9,372.7 L583.4,369.9 L584.9,367.0 L586.4,364.2 L587.9,361.3 L589.4,358.5 L591.0,355.7 L592.5,352.8 L594.0,350.0 L595.5,347.2 L597.1,344.4 L598.6,341.5 L600.2,338.7 L601.8,335.9 L603.4,333.1 L605.0,330.4 L606.6,327.6 L608.2,324.8 L609.8,322.0 L611.5,319.3 L613.1,316.5 L614.8,313.8 L616.5,311.0 L618.2,308.3 L619.9,305.6 L621.6,302.9 L623.4,300.2 L625.1,297.5 L626.9,294.8 L628.7,292.2 L630.5,289.5 L632.4,286.9 L634.2,284.3 L636.1,281.7 L638.0,279.1 L639.9,276.5 L641.9,273.9 L643.8,271.4 L645.8,268.8 L647.8,266.3 L649.8,263.8 L651.9,261.3 L653.9,258.9 L656.0,256.5 L658.2,254.0 L660.3,251.6 L662.5,249.3 L664.7,246.9 L666.9,244.6 L669.1,242.3 L671.4,240.0 L673.7,237.8 L676.0,235.5 L678.3,233.3 L680.7,231.2 L683.1,229.0 L685.5,226.9 L687.9,224.8 L690.4,222.7 L692.9,220.7 L695.4,218.7 L697.9,216.7 L700.4,214.7 L703.0,212.8 L705.6,210.9 L708.2,209.0 L710.8,207.1 L713.4,205.3 L716.1,203.5 L718.8,201.7 L721.5,199.9 L724.2,198.2 L726.9,196.5 L729.6,194.8 L732.4,193.1 L735.1,191.5 L737.9,189.9 L740.7,188.3 L743.5,186.7 L746.3,185.1 L749.1,183.6 L752.0,182.1 L754.8,180.7 L757.7,179.2 L760.6,177.8 L763.5,176.4 L766.4,175.0 L769.3,173.6 L772.2,172.3 L775.1,171.0 L778.1,169.7 L781.0,168.4 L784.0,167.1 L787.0,165.9 L789.9,164.7 L792.9,163.5 L795.9,162.3 L798.9,161.2 L801.9,160.1 L804.9,158.9 L808.0,157.8 L811.0,156.8 L814.0,155.7 L817.1,154.7 L820.1,153.7 L823.2,152.7 L826.2,151.7 L829.3,150.7 L832.3,149.7 L835.4,148.8 L838.5,147.9 L841.6,147.0 L844.7,146.1 L847.8,145.2 L850.9,144.4 L854.0,143.5 L857.1,142.7 L860.2,141.9 L863.3,141.1 L866.4,140.3 L869.5,139.5 L872.6,138.7 L875.8,138.0 L878.9,137.3 L882.0,136.5 L885.2,135.8 L888.3,135.1 L891.4,134.4 L894.6,133.7 L897.7,133.1 L900.9,132.4 L904.0,131.8 L907.2,131.1 L910.3,130.5 L913.5,129.9 L916.6,129.3 L919.8,128.7 L922.9,128.1 L926.1,127.5 L929.3,126.9 L932.4,126.4 L935.6,125.8 L938.7,125.3 L941.9,124.8 L945.1,124.2 L948.3,123.7 L951.4,123.2 L954.6,122.8 L957.8,122.3 L961.0,121.8 L964.1,121.3 L967.3,120.9 L970.5,120.4 L973.7,120.0 L976.9,119.6 L980.1,119.2 L983.3,118.8 L986.4,118.4 L989.6,118.0 L992.8,117.6 L996.0,117.3 L999.2,116.9 L1002.4,116.5 L1005.6,116.2" fill="none" stroke="#A0A0A0" stroke-width="6" stroke-linecap="round" stroke-linejoin="round" />
</g>
<rect x="280.50" y="72.30" width="816.50" height="658.70" fill="none" stroke="#000" stroke-width="7.5" stroke-linejoin="miter"/>
<line x1="267.45" y1="132.18" x2="277.25" y2="132.18" stroke="#000" stroke-width="7.5"/>
<line x1="267.45" y1="251.95" x2="277.25" y2="251.95" stroke="#000" stroke-width="7.5"/>
<line x1="267.45" y1="371.71" x2="277.25" y2="371.71" stroke="#000" stroke-width="7.5"/>
<line x1="267.45" y1="491.47" x2="277.25" y2="491.47" stroke="#000" stroke-width="7.5"/>
<line x1="267.45" y1="611.24" x2="277.25" y2="611.24" stroke="#000" stroke-width="7.5"/>
<line x1="267.45" y1="731.00" x2="277.25" y2="731.00" stroke="#000" stroke-width="7.5"/>
<line x1="371.22" y1="734.25" x2="371.22" y2="744.05" stroke="#000" stroke-width="7.5"/>
<line x1="552.67" y1="734.25" x2="552.67" y2="744.05" stroke="#000" stroke-width="7.5"/>
<line x1="734.11" y1="734.25" x2="734.11" y2="744.05" stroke="#000" stroke-width="7.5"/>
<line x1="915.56" y1="734.25" x2="915.56" y2="744.05" stroke="#000" stroke-width="7.5"/>
<line x1="1097.00" y1="734.25" x2="1097.00" y2="744.05" stroke="#000" stroke-width="7.5"/>
<g transform="translate(179.09,150.08) scale(1,1.041)" fill="#000" ><text x="0.00" y="0.00" font-size="45.8">10</text><text x="51.44" y="-20.00" font-size="30.5">-5</text></g>
<g transform="translate(179.09,269.85) scale(1,1.041)" fill="#000" ><text x="0.00" y="0.00" font-size="45.8">10</text><text x="51.44" y="-20.00" font-size="30.5">-7</text></g>
<g transform="translate(179.09,389.61) scale(1,1.041)" fill="#000" ><text x="0.00" y="0.00" font-size="45.8">10</text><text x="51.44" y="-20.00" font-size="30.5">-9</text></g>
<g transform="translate(162.12,509.37) scale(1,1.041)" fill="#000" ><text x="0.00" y="0.00" font-size="45.8">10</text><text x="51.44" y="-20.00" font-size="30.5">-11</text></g>
<g transform="translate(162.12,629.14) scale(1,1.041)" fill="#000" ><text x="0.00" y="0.00" font-size="45.8">10</text><text x="51.44" y="-20.00" font-size="30.5">-13</text></g>
<g transform="translate(162.12,748.90) scale(1,1.041)" fill="#000" ><text x="0.00" y="0.00" font-size="45.8">10</text><text x="51.44" y="-20.00" font-size="30.5">-15</text></g>
<g transform="translate(350.09,790.00) scale(1,1.041)" fill="#000" ><text x="0.00" y="0.00" font-size="45.8">-4</text></g>
<g transform="translate(532.33,790.00) scale(1,1.041)" fill="#000" ><text x="0.00" y="0.00" font-size="45.8">-2</text></g>
<g transform="translate(721.41,790.00) scale(1,1.041)" fill="#000" ><text x="0.00" y="0.00" font-size="45.8">0</text></g>
<g transform="translate(902.94,790.00) scale(1,1.041)" fill="#000" ><text x="0.00" y="0.00" font-size="45.8">2</text></g>
<g transform="translate(1084.04,790.00) scale(1,1.041)" fill="#000" ><text x="0.00" y="0.00" font-size="45.8">4</text></g>
<g transform="translate(599.86,857.20) scale(1,1.0)" fill="#000" ><text x="0.00" y="0.00" font-size="65">V</text><text x="44.35" y="0.00" font-size="36.400000000000006">G</text><text x="72.67" y="0.00" font-size="65"> (V)</text></g>
<g transform="translate(144.80,497.65) rotate(-90) scale(1,1.0)" fill="#000" ><text x="0.00" y="0.00" font-size="65">I</text><text x="18.56" y="0.00" font-size="36.400000000000006">D</text><text x="44.85" y="0.00" font-size="65"> (A)</text></g>
<g transform="translate(290.10,123.80) scale(1,1.041)" fill="#FF0000" ><text x="0.00" y="0.00" font-size="37.4">ITO/ZnO transistor</text></g>
<g transform="translate(290.10,182.90) scale(1,1.041)" fill="#000" ><text x="0.00" y="0.00" font-size="37.4">NBIS : -1 V, 10000 Lux</text></g>
<g transform="translate(292.34,240.10) scale(1,1.041)" fill="#000" ><text x="0.00" y="0.00" font-size="37.4">V</text><text x="24.65" y="0.00" font-size="22.066">D</text><text x="40.58" y="0.00" font-size="37.4"> = 0.1 V</text></g>
<line x1="836.6" y1="421.7" x2="918.8" y2="421.7" stroke="#FF0000" stroke-width="6.2" stroke-linecap="round"/>
<g transform="translate(929.72,434.90) scale(1,1.041)" fill="#000" ><text x="0.00" y="0.00" font-size="37.4">0 S</text></g>
<line x1="836.6" y1="468.9" x2="918.8" y2="468.9" stroke="#0A5A9C" stroke-width="6.2" stroke-linecap="round"/>
<g transform="translate(929.90,482.10) scale(1,1.041)" fill="#000" ><text x="0.00" y="0.00" font-size="37.4">200 S</text></g>
<line x1="836.6" y1="515.9" x2="918.8" y2="515.9" stroke="#FFC000" stroke-width="6.2" stroke-linecap="round"/>
<g transform="translate(930.63,529.10) scale(1,1.041)" fill="#000" ><text x="0.00" y="0.00" font-size="37.4">400 S</text></g>
<line x1="836.6" y1="562.6" x2="918.8" y2="562.6" stroke="#00C46A" stroke-width="6.2" stroke-linecap="round"/>
<g transform="translate(929.83,575.80) scale(1,1.041)" fill="#000" ><text x="0.00" y="0.00" font-size="37.4">600 S</text></g>
<line x1="836.6" y1="609.5" x2="918.8" y2="609.5" stroke="#5C5F9E" stroke-width="6.2" stroke-linecap="round"/>
<g transform="translate(930.01,622.70) scale(1,1.041)" fill="#000" ><text x="0.00" y="0.00" font-size="37.4">800 S</text></g>
<line x1="836.6" y1="656.5" x2="918.8" y2="656.5" stroke="#A0A0A0" stroke-width="6.2" stroke-linecap="round"/>
<g transform="translate(928.84,669.70) scale(1,1.041)" fill="#000" ><text x="0.00" y="0.00" font-size="37.4">1000 S</text></g>
<g transform="translate(30.78,85.00) scale(1,1.0)" fill="#000" ><text x="0.00" y="0.00" font-size="82.8">(a)</text></g>
<clipPath id="bclip"><rect x="1383.6" y="72.8" width="815.2" height="658.7"/></clipPath>
<g clip-path="url(#bclip)">
<path d="M1474.2,530.4 L1474.8,538.3 L1475.4,530.4 L1478.7,522.5 L1479.3,524.2 L1479.9,526.1 L1483.3,522.8 L1483.9,523.5 L1484.5,533.3 L1487.8,527.5 L1488.4,530.0 L1489.0,533.4 L1492.3,527.4 L1492.9,527.6 L1493.5,528.5 L1496.8,529.6 L1497.4,529.7 L1498.0,526.4 L1501.4,531.3 L1502.0,541.7 L1502.6,533.4 L1505.9,533.8 L1506.5,533.8 L1507.1,524.4 L1510.4,530.1 L1511.0,540.6 L1511.6,529.4 L1515.0,533.9 L1515.6,550.1 L1516.2,528.5 L1519.5,530.3 L1520.1,534.9 L1520.7,534.2 L1524.0,534.6 L1524.6,554.6 L1525.2,531.3 L1528.6,526.3 L1529.2,545.0 L1529.8,536.4 L1533.1,530.6 L1533.7,551.8 L1534.3,537.0 L1537.6,533.0 L1538.2,535.0 L1538.8,529.5 L1542.1,534.8 L1542.7,540.7 L1543.3,532.4 L1546.7,528.9 L1547.3,530.0 L1547.9,535.3 L1551.0,536.8 L1551.6,567.0 L1552.2,530.2 L1555.7,532.6 L1556.3,535.5 L1556.9,536.3 L1560.3,539.7 L1560.9,540.2 L1561.5,536.8 L1564.8,537.1 L1565.4,550.5 L1566.0,538.5 L1569.3,534.9 L1569.9,549.1 L1570.5,540.1 L1572.0,530.0 L1572.6,586.0 L1573.2,534.6 L1578.4,540.5 L1579.0,541.1 L1579.6,534.0 L1582.9,539.8 L1583.5,541.3 L1584.1,532.5 L1587.4,540.6 L1588.0,552.5 L1588.6,540.3 L1592.0,534.4 L1592.6,542.2 L1593.2,536.9 L1596.5,541.4 L1597.1,541.8 L1597.7,535.0 L1599.0,532.3 L1599.6,624.0 L1600.2,534.4 L1605.6,542.5 L1606.2,553.0 L1606.8,538.0 L1610.1,542.5 L1610.7,543.7 L1611.3,536.8 L1614.6,540.0 L1615.2,557.8 L1615.8,541.6 L1619.2,541.5 L1619.8,544.0 L1620.4,533.9 L1623.7,536.6 L1624.3,547.8 L1624.9,536.5 L1630.0,541.2 L1630.6,575.0 L1631.2,544.4 L1632.7,539.6 L1633.3,542.4 L1633.9,542.5 L1637.3,539.5 L1637.9,563.6 L1638.5,543.2 L1641.8,538.3 L1642.4,566.2 L1643.0,545.3 L1646.3,542.0 L1646.9,542.7 L1647.5,539.6 L1650.9,537.0 L1651.5,566.0 L1652.1,542.4 L1655.4,537.1 L1656.0,573.3 L1656.6,543.0 L1659.0,545.3 L1659.6,620.0 L1660.2,543.1 L1664.5,544.5 L1665.1,570.9 L1665.7,540.4 L1669.0,540.2 L1669.6,543.0 L1670.2,549.0 L1673.5,541.7 L1674.1,542.6 L1674.7,543.3 L1678.0,539.0 L1678.6,539.5 L1679.2,541.6 L1686.0,546.8 L1686.6,603.0 L1687.2,542.0 L1686.0,603.0 L1690.0,545.0 L1694.4,540.4 L1697.0,536.0 L1703.5,529.5 L1705.0,544.0 L1707.0,528.8 L1709.9,534.6 L1713.8,521.1 L1716.7,509.5 L1721.5,508.5 L1723.4,517.2 L1726.3,491.1 L1726.4,491.1 L1727.1,488.7 L1727.8,486.2 L1728.6,483.7 L1729.4,481.3 L1730.2,478.8 L1731.0,476.4 L1731.9,474.0 L1732.8,471.5 L1733.7,469.1 L1734.7,466.7 L1735.6,464.3 L1736.6,461.9 L1737.6,459.6 L1738.6,457.2 L1739.6,454.8 L1740.6,452.5 L1741.7,450.1 L1742.7,447.7 L1743.7,445.4 L1744.8,443.0 L1745.8,440.6 L1746.9,438.3 L1747.9,435.9 L1748.9,433.5 L1749.9,431.2 L1750.9,428.8 L1751.9,426.4 L1752.9,424.1 L1753.9,421.7 L1754.9,419.3 L1755.9,416.9 L1756.8,414.5 L1757.8,412.1 L1758.7,409.7 L1759.6,407.3 L1760.6,404.9 L1761.5,402.5 L1762.3,400.0 L1763.2,397.6 L1764.1,395.2 L1764.9,392.7 L1765.7,390.3 L1766.5,387.8 L1767.4,385.4 L1768.1,382.9 L1768.9,380.5 L1769.7,378.0 L1770.5,375.6 L1771.3,373.1 L1772.1,370.7 L1773.0,368.2 L1773.8,365.8 L1774.7,363.4 L1775.5,360.9 L1776.4,358.5 L1777.3,356.1 L1778.3,353.7 L1779.2,351.3 L1780.2,348.9 L1781.2,346.5 L1782.2,344.2 L1783.3,341.8 L1784.4,339.5 L1785.4,337.1 L1786.6,334.8 L1787.7,332.5 L1788.9,330.2 L1790.1,327.9 L1791.3,325.7 L1792.5,323.4 L1793.8,321.1 L1795.1,318.9 L1796.4,316.7 L1797.7,314.5 L1799.1,312.3 L1800.5,310.1 L1801.9,307.9 L1803.3,305.8 L1804.7,303.6 L1806.1,301.5 L1807.6,299.4 L1809.1,297.2 L1810.6,295.1 L1812.1,293.0 L1813.6,290.9 L1815.1,288.9 L1816.6,286.8 L1818.2,284.7 L1819.7,282.7 L1821.3,280.6 L1822.9,278.6 L1824.4,276.5 L1826.0,274.5 L1827.6,272.5 L1829.2,270.4 L1830.8,268.4 L1832.4,266.4 L1834.0,264.4 L1835.7,262.4 L1837.3,260.4 L1839.0,258.4 L1840.6,256.5 L1842.3,254.5 L1844.0,252.5 L1845.6,250.6 L1847.3,248.6 L1849.0,246.7 L1850.7,244.8 L1852.5,242.8 L1854.2,240.9 L1855.9,239.0 L1857.7,237.1 L1859.5,235.3 L1861.3,233.4 L1863.0,231.5 L1864.9,229.7 L1866.7,227.9 L1868.5,226.1 L1870.3,224.3 L1872.2,222.5 L1874.1,220.7 L1876.0,218.9 L1877.9,217.2 L1879.8,215.5 L1881.7,213.8 L1883.7,212.1 L1885.6,210.4 L1887.6,208.7 L1889.6,207.1 L1891.6,205.5 L1893.6,203.9 L1895.6,202.3 L1897.7,200.7 L1899.8,199.2 L1901.8,197.7 L1903.9,196.2 L1906.1,194.7 L1908.2,193.2 L1910.3,191.8 L1912.5,190.4 L1914.7,189.0 L1916.9,187.7 L1919.1,186.4 L1921.3,185.1 L1923.6,183.8 L1925.9,182.6 L1928.1,181.4 L1930.4,180.2 L1932.7,179.0 L1935.0,177.9 L1937.4,176.8 L1939.7,175.7 L1942.1,174.6 L1944.4,173.6 L1946.8,172.6 L1949.2,171.6 L1951.6,170.7 L1954.0,169.7 L1956.4,168.8 L1958.8,167.9 L1961.2,167.0 L1963.7,166.2 L1966.1,165.4 L1968.6,164.5 L1971.0,163.8 L1973.5,163.0 L1975.9,162.2 L1978.4,161.5 L1980.9,160.8 L1983.4,160.1 L1985.9,159.4 L1988.4,158.8 L1990.9,158.1 L1993.4,157.5 L1995.9,156.9 L1998.4,156.3 L2000.9,155.7 L2003.4,155.1 L2005.9,154.6 L2008.5,154.0 L2011.0,153.5 L2013.5,153.0 L2016.0,152.5 L2018.6,152.0 L2021.1,151.6 L2023.6,151.1 L2026.2,150.6 L2028.7,150.2 L2031.3,149.8 L2033.8,149.4 L2036.4,149.0 L2038.9,148.6 L2041.5,148.2 L2044.0,147.8 L2046.6,147.4 L2049.1,147.0 L2051.7,146.7 L2054.2,146.3 L2056.8,146.0 L2059.3,145.7 L2061.9,145.3 L2064.5,145.0 L2067.0,144.7 L2069.6,144.4 L2072.1,144.1 L2074.7,143.8 L2077.3,143.5 L2079.8,143.2 L2082.4,142.9 L2084.9,142.6 L2087.5,142.3 L2090.1,142.0 L2092.6,141.8 L2095.2,141.5 L2097.8,141.2 L2100.3,140.9 L2102.9,140.6 L2105.5,140.4 L2108.0,140.1" fill="none" stroke="#FF0000" stroke-width="6" stroke-linecap="round" stroke-linejoin="round" />
<path d="M1474.2,529.0 L1474.8,536.7 L1475.4,527.0 L1478.7,524.9 L1479.3,525.5 L1479.9,527.3 L1483.3,530.3 L1483.9,553.8 L1484.5,525.0 L1487.8,523.7 L1488.4,525.7 L1489.0,533.0 L1492.3,523.1 L1492.9,535.4 L1493.5,523.7 L1496.8,530.1 L1497.4,530.8 L1498.0,534.2 L1501.4,530.6 L1502.0,553.9 L1502.6,534.0 L1505.9,528.6 L1506.5,530.4 L1507.1,532.8 L1510.4,530.2 L1511.0,532.6 L1511.6,525.7 L1515.0,530.3 L1515.6,531.4 L1516.2,529.3 L1519.5,535.0 L1520.1,557.5 L1520.7,530.0 L1524.0,526.4 L1524.6,529.9 L1525.2,528.8 L1528.6,532.1 L1529.2,541.4 L1529.8,531.0 L1533.1,536.6 L1533.7,570.5 L1534.3,528.0 L1537.6,528.2 L1538.2,528.2 L1538.8,531.4 L1542.1,528.0 L1542.7,528.8 L1543.3,537.5 L1546.7,533.0 L1547.3,535.8 L1547.9,530.4 L1551.2,528.8 L1551.8,539.8 L1552.4,533.8 L1555.7,536.6 L1556.3,545.6 L1556.9,536.3 L1560.3,533.5 L1560.9,535.9 L1561.5,533.1 L1564.8,532.9 L1565.4,541.4 L1566.0,534.1 L1569.3,540.0 L1569.9,580.8 L1570.5,535.1 L1573.9,536.2 L1574.5,546.4 L1575.1,538.8 L1578.4,540.1 L1579.0,540.5 L1579.6,535.9 L1584.0,539.4 L1584.6,593.0 L1585.2,536.0 L1587.4,532.6 L1588.0,545.5 L1588.6,536.8 L1592.0,540.5 L1592.6,610.0 L1593.2,535.9 L1596.5,542.9 L1597.1,543.5 L1597.7,542.4 L1601.0,539.5 L1601.6,539.6 L1602.2,534.4 L1605.6,534.4 L1606.2,535.2 L1606.8,534.7 L1610.1,542.1 L1610.7,543.4 L1611.3,533.1 L1614.6,543.7 L1615.2,571.5 L1615.8,542.4 L1619.2,536.3 L1619.8,540.9 L1620.4,536.7 L1623.7,544.9 L1624.3,558.8 L1624.9,538.3 L1628.2,537.7 L1628.8,539.5 L1629.4,542.7 L1632.7,535.9 L1633.3,537.4 L1633.9,543.9 L1637.3,542.6 L1637.9,547.3 L1638.5,538.3 L1641.8,536.5 L1642.4,553.0 L1643.0,542.2 L1646.3,546.0 L1646.9,559.6 L1647.5,542.6 L1650.9,547.5 L1651.5,548.5 L1652.1,546.4 L1657.0,543.3 L1657.6,658.0 L1658.2,543.4 L1659.9,543.0 L1660.5,543.3 L1661.1,543.0 L1664.5,540.0 L1665.1,555.0 L1665.7,548.6 L1669.0,538.9 L1669.6,541.3 L1670.2,541.5 L1672.6,539.3 L1675.3,538.1 L1677.8,536.6 L1680.2,534.9 L1682.5,533.0 L1684.7,531.0 L1686.7,528.9 L1688.5,526.6 L1690.3,524.2 L1692.0,521.8 L1693.5,519.3 L1695.0,516.8 L1696.4,514.2 L1697.8,511.6 L1699.1,508.9 L1700.4,506.3 L1701.6,503.6 L1702.8,500.9 L1703.9,498.2 L1705.0,495.4 L1706.1,492.7 L1707.2,489.9 L1708.2,487.2 L1709.2,484.4 L1710.3,481.7 L1711.3,478.9 L1712.3,476.1 L1713.3,473.4 L1714.4,470.6 L1715.4,467.8 L1716.4,465.1 L1717.5,462.3 L1718.6,459.6 L1719.6,456.8 L1720.7,454.1 L1721.8,451.4 L1722.9,448.6 L1724.0,445.9 L1725.1,443.2 L1726.3,440.4 L1727.4,437.7 L1728.5,435.0 L1729.7,432.3 L1730.8,429.6 L1731.9,426.8 L1733.1,424.1 L1734.2,421.4 L1735.3,418.7 L1736.5,415.9 L1737.6,413.2 L1738.7,410.5 L1739.8,407.7 L1740.8,405.0 L1741.9,402.2 L1743.0,399.5 L1744.0,396.7 L1745.1,394.0 L1746.1,391.2 L1747.1,388.4 L1748.1,385.7 L1749.1,382.9 L1750.1,380.1 L1751.1,377.3 L1752.1,374.6 L1753.1,371.8 L1754.1,369.0 L1755.1,366.2 L1756.1,363.5 L1757.1,360.7 L1758.1,357.9 L1759.1,355.2 L1760.2,352.4 L1761.3,349.7 L1762.3,346.9 L1763.4,344.2 L1764.6,341.5 L1765.7,338.8 L1766.9,336.0 L1768.1,333.3 L1769.3,330.7 L1770.5,328.0 L1771.8,325.3 L1773.1,322.7 L1774.4,320.0 L1775.8,317.4 L1777.2,314.8 L1778.6,312.2 L1780.0,309.7 L1781.5,307.1 L1783.0,304.6 L1784.5,302.1 L1786.1,299.6 L1787.7,297.1 L1789.3,294.6 L1790.9,292.1 L1792.6,289.7 L1794.2,287.3 L1795.9,284.8 L1797.6,282.4 L1799.3,280.0 L1801.0,277.6 L1802.7,275.2 L1804.5,272.8 L1806.2,270.5 L1808.0,268.1 L1809.7,265.7 L1811.5,263.4 L1813.3,261.0 L1815.1,258.7 L1816.9,256.4 L1818.8,254.1 L1820.7,251.8 L1822.6,249.6 L1824.5,247.4 L1826.4,245.1 L1828.4,243.0 L1830.4,240.8 L1832.4,238.6 L1834.5,236.5 L1836.5,234.4 L1838.6,232.3 L1840.7,230.3 L1842.8,228.2 L1845.0,226.2 L1847.1,224.2 L1849.3,222.2 L1851.5,220.3 L1853.7,218.3 L1856.0,216.4 L1858.2,214.5 L1860.5,212.7 L1862.8,210.9 L1865.1,209.1 L1867.5,207.3 L1869.8,205.5 L1872.2,203.8 L1874.6,202.1 L1877.0,200.5 L1879.5,198.8 L1882.0,197.2 L1884.4,195.6 L1886.9,194.1 L1889.5,192.6 L1892.0,191.1 L1894.6,189.6 L1897.1,188.2 L1899.7,186.8 L1902.3,185.4 L1904.9,184.1 L1907.6,182.8 L1910.2,181.5 L1912.9,180.2 L1915.5,179.0 L1918.2,177.8 L1920.9,176.6 L1923.6,175.4 L1926.4,174.3 L1929.1,173.2 L1931.8,172.1 L1934.6,171.1 L1937.3,170.1 L1940.1,169.1 L1942.9,168.1 L1945.7,167.1 L1948.5,166.2 L1951.3,165.3 L1954.1,164.4 L1956.9,163.5 L1959.7,162.7 L1962.6,161.9 L1965.4,161.1 L1968.2,160.3 L1971.1,159.5 L1973.9,158.8 L1976.8,158.1 L1979.7,157.4 L1982.5,156.7 L1985.4,156.1 L1988.3,155.4 L1991.2,154.8 L1994.0,154.2 L1996.9,153.6 L1999.8,153.0 L2002.7,152.5 L2005.6,151.9 L2008.5,151.4 L2011.4,150.9 L2014.3,150.4 L2017.2,149.9 L2020.1,149.4 L2023.1,149.0 L2026.0,148.6 L2028.9,148.1 L2031.8,147.7 L2034.7,147.3 L2037.7,146.9 L2040.6,146.6 L2043.5,146.2 L2046.4,145.8 L2049.4,145.5 L2052.3,145.1 L2055.2,144.8 L2058.1,144.5 L2061.1,144.2 L2064.0,143.9 L2066.9,143.5 L2069.9,143.2 L2072.8,142.9 L2075.7,142.7 L2078.7,142.4 L2081.6,142.1 L2084.5,141.8 L2087.5,141.5 L2090.4,141.2 L2093.3,140.9 L2096.3,140.7 L2099.2,140.4 L2102.1,140.1 L2105.1,139.8 L2108.0,139.5" fill="none" stroke="#0A5A9C" stroke-width="6" stroke-linecap="round" stroke-linejoin="round" />
<path d="M1474.2,524.7 L1474.8,637.5 L1475.4,524.3 L1478.7,532.5 L1479.3,534.7 L1479.9,532.0 L1481.0,526.1 L1481.6,597.0 L1482.2,528.1 L1487.8,530.8 L1488.4,534.9 L1489.0,532.5 L1492.3,533.1 L1492.9,541.1 L1493.5,532.8 L1496.8,530.7 L1497.4,530.8 L1498.0,532.5 L1501.4,525.9 L1502.0,554.3 L1502.6,528.5 L1505.9,530.3 L1506.5,545.2 L1507.1,529.9 L1510.4,531.0 L1511.0,533.5 L1511.6,535.0 L1513.0,528.9 L1513.6,586.0 L1514.2,528.6 L1519.5,533.1 L1520.1,545.5 L1520.7,534.4 L1524.0,526.7 L1524.6,551.1 L1525.2,529.1 L1528.6,528.5 L1529.2,529.2 L1529.8,534.2 L1533.1,528.3 L1533.7,533.1 L1534.3,532.2 L1537.6,536.3 L1538.2,581.3 L1538.8,536.1 L1542.0,531.6 L1542.6,578.0 L1543.2,532.3 L1546.7,535.1 L1547.3,536.7 L1547.9,529.8 L1551.2,534.4 L1551.8,534.7 L1552.4,537.9 L1555.7,530.9 L1556.3,539.0 L1556.9,533.5 L1560.3,536.9 L1560.9,539.8 L1561.5,533.0 L1564.8,535.1 L1565.4,571.1 L1566.0,540.2 L1569.3,538.1 L1569.9,546.6 L1570.5,536.2 L1573.9,531.1 L1574.5,533.3 L1575.1,536.2 L1578.4,535.5 L1579.0,535.5 L1579.6,535.2 L1582.9,533.0 L1583.5,535.4 L1584.1,541.3 L1587.4,537.0 L1588.0,565.6 L1588.6,531.6 L1592.0,532.5 L1592.6,532.7 L1593.2,536.8 L1596.5,532.4 L1597.1,535.1 L1597.7,533.0 L1601.0,534.0 L1601.6,543.2 L1602.2,541.6 L1605.6,541.1 L1606.2,546.3 L1606.8,534.0 L1611.0,537.0 L1611.6,600.0 L1612.2,541.8 L1614.6,537.9 L1615.2,557.6 L1615.8,542.5 L1619.2,535.4 L1619.8,535.8 L1620.4,538.3 L1623.7,538.8 L1624.3,547.5 L1624.9,541.7 L1628.2,542.4 L1628.8,546.5 L1629.4,542.4 L1634.0,536.9 L1634.6,650.0 L1635.2,544.2 L1637.3,545.6 L1637.9,554.4 L1638.5,538.7 L1641.8,541.4 L1642.4,542.1 L1643.0,542.5 L1646.3,546.3 L1646.9,547.0 L1647.5,541.2 L1650.9,539.6 L1651.5,544.2 L1652.1,545.5 L1655.4,540.8 L1656.0,543.9 L1656.6,542.3 L1659.9,547.1 L1660.5,548.4 L1661.1,539.0 L1664.5,543.1 L1665.1,554.8 L1665.7,545.1 L1669.0,539.1 L1671.7,537.9 L1674.3,536.5 L1676.7,534.8 L1679.0,532.9 L1681.2,530.9 L1683.2,528.7 L1685.1,526.4 L1686.8,524.0 L1688.4,521.5 L1690.0,519.0 L1691.4,516.4 L1692.8,513.8 L1694.2,511.2 L1695.5,508.5 L1696.7,505.8 L1697.9,503.1 L1699.0,500.4 L1700.2,497.6 L1701.3,494.9 L1702.3,492.1 L1703.4,489.3 L1704.4,486.6 L1705.4,483.8 L1706.5,481.0 L1707.5,478.2 L1708.5,475.4 L1709.5,472.6 L1710.6,469.9 L1711.6,467.1 L1712.7,464.3 L1713.8,461.5 L1714.8,458.8 L1715.9,456.0 L1717.0,453.3 L1718.1,450.5 L1719.3,447.8 L1720.4,445.0 L1721.5,442.3 L1722.7,439.6 L1723.8,436.8 L1724.9,434.1 L1726.1,431.3 L1727.2,428.6 L1728.4,425.9 L1729.5,423.1 L1730.6,420.4 L1731.8,417.6 L1732.9,414.9 L1734.0,412.2 L1735.1,409.4 L1736.2,406.6 L1737.3,403.9 L1738.4,401.1 L1739.4,398.3 L1740.5,395.6 L1741.5,392.8 L1742.5,390.0 L1743.6,387.2 L1744.6,384.4 L1745.6,381.7 L1746.6,378.9 L1747.6,376.1 L1748.6,373.3 L1749.6,370.5 L1750.6,367.7 L1751.6,364.9 L1752.6,362.1 L1753.7,359.3 L1754.7,356.6 L1755.7,353.8 L1756.8,351.0 L1757.9,348.3 L1759.0,345.5 L1760.1,342.8 L1761.2,340.0 L1762.4,337.3 L1763.6,334.6 L1764.8,331.9 L1766.0,329.1 L1767.2,326.5 L1768.5,323.8 L1769.8,321.1 L1771.2,318.5 L1772.5,315.8 L1773.9,313.2 L1775.3,310.6 L1776.8,308.0 L1778.3,305.5 L1779.8,302.9 L1781.3,300.4 L1782.9,297.9 L1784.5,295.4 L1786.1,292.9 L1787.7,290.4 L1789.4,287.9 L1791.0,285.5 L1792.7,283.0 L1794.4,280.6 L1796.1,278.2 L1797.8,275.7 L1799.5,273.3 L1801.3,270.9 L1803.0,268.5 L1804.8,266.1 L1806.5,263.7 L1808.3,261.4 L1810.1,259.0 L1811.9,256.6 L1813.7,254.3 L1815.6,252.0 L1817.5,249.7 L1819.4,247.4 L1821.3,245.2 L1823.3,243.0 L1825.3,240.8 L1827.3,238.6 L1829.4,236.5 L1831.4,234.3 L1833.5,232.2 L1835.6,230.2 L1837.8,228.1 L1839.9,226.1 L1842.1,224.1 L1844.3,222.1 L1846.6,220.2 L1848.8,218.2 L1851.1,216.3 L1853.4,214.5 L1855.7,212.6 L1858.0,210.8 L1860.4,209.0 L1862.7,207.2 L1865.1,205.5 L1867.6,203.8 L1870.0,202.1 L1872.4,200.5 L1874.9,198.8 L1877.4,197.2 L1879.9,195.7 L1882.4,194.1 L1885.0,192.6 L1887.6,191.1 L1890.1,189.7 L1892.7,188.3 L1895.3,186.9 L1898.0,185.5 L1900.6,184.2 L1903.3,182.9 L1905.9,181.6 L1908.6,180.3 L1911.3,179.1 L1914.0,177.9 L1916.7,176.7 L1919.5,175.6 L1922.2,174.4 L1925.0,173.3 L1927.7,172.3 L1930.5,171.2 L1933.3,170.2 L1936.1,169.2 L1938.9,168.2 L1941.7,167.3 L1944.5,166.3 L1947.3,165.4 L1950.1,164.6 L1953.0,163.7 L1955.8,162.9 L1958.7,162.0 L1961.5,161.2 L1964.4,160.5 L1967.3,159.7 L1970.1,159.0 L1973.0,158.3 L1975.9,157.6 L1978.8,156.9 L1981.7,156.2 L1984.6,155.6 L1987.5,154.9 L1990.4,154.3 L1993.3,153.7 L1996.2,153.2 L1999.1,152.6 L2002.0,152.1 L2004.9,151.5 L2007.8,151.0 L2010.8,150.5 L2013.7,150.0 L2016.6,149.6 L2019.5,149.1 L2022.5,148.7 L2025.4,148.2 L2028.4,147.8 L2031.3,147.4 L2034.2,147.0 L2037.2,146.7 L2040.1,146.3 L2043.1,145.9 L2046.0,145.6 L2048.9,145.2 L2051.9,144.9 L2054.8,144.6 L2057.8,144.2 L2060.7,143.9 L2063.7,143.6 L2066.6,143.3 L2069.6,143.0 L2072.5,142.7 L2075.5,142.4 L2078.4,142.2 L2081.4,141.9 L2084.4,141.6 L2087.3,141.3 L2090.3,141.0 L2093.2,140.8 L2096.2,140.5 L2099.1,140.2 L2102.1,140.0 L2105.0,139.7 L2108.0,139.4" fill="none" stroke="#FFC000" stroke-width="6" stroke-linecap="round" stroke-linejoin="round" />
<path d="M1474.2,526.6 L1474.8,527.2 L1475.4,526.2 L1478.0,527.3 L1478.6,587.0 L1479.2,526.9 L1483.3,526.3 L1483.9,528.6 L1484.5,529.7 L1487.8,522.7 L1488.4,526.9 L1489.0,526.4 L1492.3,529.3 L1492.9,529.5 L1493.5,531.9 L1496.8,534.2 L1497.4,535.0 L1498.0,529.6 L1501.4,533.8 L1502.0,542.4 L1502.6,534.8 L1506.0,524.9 L1506.6,619.0 L1507.2,532.6 L1510.4,533.7 L1511.0,536.2 L1511.6,530.6 L1517.0,526.1 L1517.6,584.0 L1518.2,527.6 L1519.5,526.8 L1520.1,527.6 L1520.7,535.5 L1524.0,529.5 L1524.6,529.7 L1525.2,526.2 L1528.6,532.6 L1529.2,577.6 L1529.8,532.9 L1533.1,531.9 L1533.7,532.5 L1534.3,533.1 L1537.6,535.7 L1538.2,541.8 L1538.8,531.4 L1542.1,530.1 L1542.7,531.5 L1543.3,532.3 L1546.7,533.8 L1547.3,534.0 L1547.9,536.0 L1551.2,534.2 L1551.8,537.1 L1552.4,538.4 L1555.7,535.6 L1556.3,550.7 L1556.9,533.8 L1560.3,529.7 L1560.9,533.5 L1561.5,529.6 L1564.8,534.8 L1565.4,579.8 L1566.0,539.6 L1568.0,533.4 L1568.6,611.0 L1569.2,538.8 L1573.9,539.5 L1574.5,579.2 L1575.1,539.2 L1578.4,531.7 L1579.0,570.9 L1579.6,538.5 L1582.9,532.2 L1583.5,548.8 L1584.1,537.6 L1587.4,533.5 L1588.0,535.3 L1588.6,535.5 L1592.0,536.9 L1592.6,537.9 L1593.2,539.5 L1596.5,533.1 L1597.1,538.7 L1597.7,534.6 L1601.0,540.5 L1601.6,546.6 L1602.2,540.7 L1605.6,536.6 L1606.2,581.6 L1606.8,542.0 L1610.1,536.3 L1610.7,537.3 L1611.3,539.1 L1614.6,540.1 L1615.2,551.8 L1615.8,541.7 L1619.2,535.3 L1619.8,537.0 L1620.4,536.7 L1623.7,535.2 L1624.3,536.9 L1624.9,544.1 L1628.2,543.4 L1628.8,555.7 L1629.4,536.5 L1632.7,544.4 L1633.3,545.0 L1633.9,540.9 L1637.3,535.8 L1637.9,536.2 L1638.5,543.7 L1641.0,544.7 L1641.6,606.0 L1642.2,536.2 L1646.3,541.4 L1646.9,551.6 L1647.5,541.4 L1650.9,539.5 L1651.5,541.3 L1652.1,539.4 L1655.4,542.6 L1656.0,546.8 L1656.6,543.2 L1659.9,548.1 L1660.5,549.8 L1661.1,545.0 L1667.1,539.0 L1669.8,537.9 L1672.4,536.4 L1674.9,534.8 L1677.2,532.9 L1679.3,530.8 L1681.3,528.6 L1683.2,526.3 L1684.9,523.9 L1686.5,521.4 L1688.1,518.9 L1689.5,516.3 L1690.9,513.6 L1692.2,511.0 L1693.5,508.3 L1694.7,505.6 L1695.9,502.8 L1697.0,500.1 L1698.2,497.3 L1699.2,494.6 L1700.3,491.8 L1701.4,489.0 L1702.4,486.2 L1703.4,483.4 L1704.4,480.6 L1705.4,477.8 L1706.5,475.0 L1707.5,472.2 L1708.5,469.5 L1709.6,466.7 L1710.7,463.9 L1711.7,461.1 L1712.8,458.4 L1713.9,455.6 L1715.0,452.8 L1716.2,450.1 L1717.3,447.3 L1718.4,444.6 L1719.6,441.8 L1720.7,439.1 L1721.8,436.3 L1723.0,433.6 L1724.1,430.8 L1725.3,428.1 L1726.4,425.3 L1727.6,422.6 L1728.7,419.9 L1729.8,417.1 L1731.0,414.3 L1732.1,411.6 L1733.2,408.8 L1734.3,406.1 L1735.4,403.3 L1736.4,400.5 L1737.5,397.7 L1738.5,394.9 L1739.6,392.2 L1740.6,389.4 L1741.6,386.6 L1742.7,383.8 L1743.7,381.0 L1744.7,378.2 L1745.7,375.4 L1746.7,372.6 L1747.7,369.8 L1748.7,367.0 L1749.8,364.2 L1750.8,361.4 L1751.8,358.6 L1752.9,355.8 L1753.9,353.0 L1755.0,350.3 L1756.1,347.5 L1757.2,344.7 L1758.3,342.0 L1759.5,339.2 L1760.6,336.5 L1761.8,333.8 L1763.0,331.0 L1764.2,328.3 L1765.5,325.6 L1766.8,322.9 L1768.1,320.3 L1769.4,317.6 L1770.8,315.0 L1772.2,312.3 L1773.6,309.7 L1775.0,307.1 L1776.5,304.6 L1778.0,302.0 L1779.6,299.5 L1781.2,296.9 L1782.8,294.4 L1784.4,291.9 L1786.0,289.4 L1787.6,287.0 L1789.3,284.5 L1791.0,282.0 L1792.7,279.6 L1794.4,277.2 L1796.1,274.7 L1797.8,272.3 L1799.6,269.9 L1801.3,267.5 L1803.0,265.0 L1804.8,262.6 L1806.6,260.3 L1808.4,257.9 L1810.2,255.5 L1812.0,253.2 L1813.9,250.9 L1815.8,248.6 L1817.7,246.3 L1819.6,244.0 L1821.6,241.8 L1823.6,239.6 L1825.6,237.4 L1827.7,235.3 L1829.8,233.2 L1831.9,231.1 L1834.0,229.0 L1836.2,227.0 L1838.4,225.0 L1840.6,223.0 L1842.8,221.0 L1845.1,219.1 L1847.4,217.2 L1849.7,215.3 L1852.0,213.4 L1854.3,211.6 L1856.7,209.8 L1859.1,208.0 L1861.5,206.3 L1863.9,204.6 L1866.3,202.9 L1868.8,201.2 L1871.3,199.6 L1873.8,198.0 L1876.3,196.4 L1878.8,194.8 L1881.4,193.3 L1883.9,191.8 L1886.5,190.4 L1889.1,188.9 L1891.7,187.5 L1894.4,186.2 L1897.0,184.8 L1899.7,183.5 L1902.4,182.2 L1905.1,180.9 L1907.8,179.7 L1910.5,178.5 L1913.2,177.3 L1915.9,176.1 L1918.7,175.0 L1921.4,173.9 L1924.2,172.8 L1927.0,171.8 L1929.8,170.7 L1932.6,169.7 L1935.4,168.7 L1938.2,167.8 L1941.0,166.8 L1943.9,165.9 L1946.7,165.0 L1949.5,164.2 L1952.4,163.3 L1955.2,162.5 L1958.1,161.7 L1961.0,160.9 L1963.9,160.1 L1966.7,159.4 L1969.6,158.7 L1972.5,158.0 L1975.4,157.3 L1978.3,156.6 L1981.2,155.9 L1984.1,155.3 L1987.0,154.7 L1989.9,154.1 L1992.8,153.5 L1995.8,152.9 L1998.7,152.4 L2001.6,151.9 L2004.5,151.3 L2007.5,150.8 L2010.4,150.3 L2013.3,149.9 L2016.3,149.4 L2019.2,148.9 L2022.2,148.5 L2025.1,148.1 L2028.1,147.7 L2031.0,147.3 L2034.0,146.9 L2036.9,146.5 L2039.9,146.1 L2042.8,145.8 L2045.8,145.4 L2048.7,145.1 L2051.7,144.7 L2054.6,144.4 L2057.6,144.1 L2060.6,143.8 L2063.5,143.5 L2066.5,143.2 L2069.4,142.9 L2072.4,142.6 L2075.4,142.3 L2078.3,142.0 L2081.3,141.8 L2084.2,141.5 L2087.2,141.2 L2090.2,141.0 L2093.1,140.7 L2096.1,140.4 L2099.1,140.2 L2102.0,139.9 L2105.0,139.6 L2108.0,139.4" fill="none" stroke="#00C46A" stroke-width="6" stroke-linecap="round" stroke-linejoin="round" />
<path d="M1474.2,524.1 L1474.8,524.5 L1475.4,523.2 L1478.7,522.2 L1479.3,557.4 L1479.9,525.7 L1483.3,527.3 L1483.9,528.2 L1484.5,525.7 L1489.0,528.0 L1489.6,595.0 L1490.2,527.9 L1492.3,523.1 L1492.9,531.2 L1493.5,531.8 L1496.8,528.4 L1497.4,529.5 L1498.0,528.9 L1501.0,524.9 L1501.6,623.0 L1502.2,531.2 L1508.0,528.3 L1508.6,604.0 L1509.2,528.9 L1510.4,535.2 L1511.0,538.0 L1511.6,533.2 L1515.0,529.2 L1515.6,533.0 L1516.2,528.8 L1521.0,526.0 L1521.6,594.0 L1522.2,527.7 L1524.0,534.2 L1524.6,534.2 L1525.2,530.9 L1528.6,534.1 L1529.2,545.2 L1529.8,534.5 L1533.1,533.5 L1533.7,536.4 L1534.3,528.0 L1537.6,535.5 L1538.2,538.3 L1538.8,533.7 L1542.1,537.8 L1542.7,538.1 L1543.3,531.0 L1546.7,537.7 L1547.3,553.7 L1547.9,528.3 L1551.2,530.5 L1551.8,533.4 L1552.4,532.7 L1555.7,534.1 L1556.3,536.3 L1556.9,537.6 L1561.0,529.0 L1561.6,608.0 L1562.2,536.3 L1564.8,537.8 L1565.4,546.5 L1566.0,537.8 L1569.3,533.0 L1569.9,534.7 L1570.5,533.7 L1573.9,535.2 L1574.5,541.1 L1575.1,538.8 L1578.4,541.2 L1579.0,544.1 L1579.6,532.1 L1582.9,535.9 L1583.5,559.7 L1584.1,532.1 L1587.4,539.8 L1588.0,541.6 L1588.6,542.1 L1592.0,542.3 L1592.6,545.0 L1593.2,531.6 L1596.5,541.8 L1597.1,550.3 L1597.7,536.3 L1601.0,537.1 L1601.6,539.8 L1602.2,540.1 L1605.6,542.7 L1606.2,545.0 L1606.8,539.2 L1610.1,534.5 L1610.7,535.8 L1611.3,540.2 L1614.6,540.1 L1615.2,555.1 L1615.8,533.6 L1619.2,535.8 L1619.8,550.6 L1620.4,541.2 L1624.0,540.3 L1624.6,599.0 L1625.2,540.0 L1628.2,544.9 L1628.8,556.2 L1629.4,535.8 L1632.7,539.4 L1633.3,542.7 L1633.9,535.6 L1637.3,537.7 L1637.9,538.5 L1638.5,542.7 L1641.8,543.1 L1642.4,544.3 L1643.0,538.2 L1645.0,541.4 L1645.6,598.0 L1646.2,538.0 L1650.9,545.2 L1651.5,552.7 L1652.1,538.0 L1655.4,547.0 L1656.0,548.8 L1656.6,544.1 L1671.0,538.4 L1671.6,619.0 L1672.2,544.0 L1664.3,538.9 L1667.0,537.7 L1669.7,536.3 L1672.2,534.7 L1674.5,532.8 L1676.6,530.7 L1678.6,528.5 L1680.5,526.2 L1682.2,523.7 L1683.8,521.2 L1685.3,518.6 L1686.7,516.0 L1688.1,513.3 L1689.4,510.7 L1690.7,508.0 L1691.9,505.2 L1693.1,502.5 L1694.2,499.7 L1695.3,496.9 L1696.4,494.1 L1697.4,491.3 L1698.5,488.5 L1699.5,485.7 L1700.5,482.9 L1701.5,480.1 L1702.5,477.3 L1703.5,474.5 L1704.6,471.7 L1705.6,468.9 L1706.7,466.1 L1707.8,463.3 L1708.9,460.5 L1710.0,457.7 L1711.1,455.0 L1712.2,452.2 L1713.3,449.4 L1714.5,446.7 L1715.6,443.9 L1716.8,441.1 L1717.9,438.4 L1719.1,435.6 L1720.2,432.9 L1721.4,430.1 L1722.5,427.4 L1723.7,424.6 L1724.8,421.8 L1726.0,419.1 L1727.1,416.3 L1728.2,413.5 L1729.4,410.8 L1730.5,408.0 L1731.6,405.2 L1732.6,402.4 L1733.7,399.6 L1734.8,396.8 L1735.8,394.0 L1736.9,391.2 L1737.9,388.4 L1738.9,385.6 L1739.9,382.8 L1741.0,380.0 L1742.0,377.2 L1743.0,374.4 L1744.0,371.6 L1745.0,368.8 L1746.1,366.0 L1747.1,363.2 L1748.1,360.4 L1749.2,357.6 L1750.3,354.8 L1751.3,352.0 L1752.4,349.2 L1753.5,346.4 L1754.6,343.6 L1755.7,340.9 L1756.9,338.1 L1758.1,335.4 L1759.3,332.6 L1760.5,329.9 L1761.7,327.2 L1763.0,324.5 L1764.2,321.8 L1765.5,319.1 L1766.9,316.4 L1768.3,313.7 L1769.7,311.1 L1771.1,308.5 L1772.5,305.9 L1774.0,303.3 L1775.6,300.7 L1777.1,298.2 L1778.7,295.6 L1780.3,293.1 L1781.9,290.6 L1783.5,288.1 L1785.2,285.6 L1786.9,283.1 L1788.5,280.6 L1790.2,278.2 L1792.0,275.7 L1793.7,273.3 L1795.4,270.8 L1797.1,268.4 L1798.8,266.0 L1800.6,263.5 L1802.3,261.1 L1804.1,258.7 L1805.9,256.3 L1807.7,253.9 L1809.6,251.6 L1811.4,249.2 L1813.3,246.9 L1815.2,244.6 L1817.2,242.4 L1819.2,240.1 L1821.2,237.9 L1823.2,235.8 L1825.3,233.6 L1827.4,231.5 L1829.6,229.4 L1831.7,227.4 L1833.9,225.3 L1836.2,223.3 L1838.4,221.4 L1840.7,219.4 L1843.0,217.5 L1845.3,215.6 L1847.6,213.8 L1850.0,211.9 L1852.4,210.1 L1854.8,208.3 L1857.2,206.6 L1859.6,204.9 L1862.1,203.2 L1864.6,201.5 L1867.1,199.9 L1869.6,198.3 L1872.1,196.7 L1874.7,195.2 L1877.2,193.6 L1879.8,192.2 L1882.4,190.7 L1885.1,189.3 L1887.7,187.9 L1890.3,186.5 L1893.0,185.1 L1895.7,183.8 L1898.4,182.5 L1901.1,181.2 L1903.8,180.0 L1906.5,178.8 L1909.3,177.6 L1912.0,176.4 L1914.8,175.3 L1917.6,174.2 L1920.4,173.1 L1923.1,172.1 L1926.0,171.0 L1928.8,170.0 L1931.6,169.0 L1934.4,168.1 L1937.2,167.1 L1940.1,166.2 L1942.9,165.3 L1945.8,164.4 L1948.7,163.6 L1951.5,162.8 L1954.4,162.0 L1957.3,161.2 L1960.2,160.4 L1963.1,159.6 L1966.0,158.9 L1968.9,158.2 L1971.8,157.5 L1974.7,156.8 L1977.6,156.2 L1980.5,155.6 L1983.5,154.9 L1986.4,154.3 L1989.3,153.7 L1992.2,153.2 L1995.2,152.6 L1998.1,152.1 L2001.1,151.6 L2004.0,151.0 L2007.0,150.6 L2009.9,150.1 L2012.9,149.6 L2015.8,149.1 L2018.8,148.7 L2021.7,148.3 L2024.7,147.8 L2027.6,147.4 L2030.6,147.0 L2033.6,146.7 L2036.5,146.3 L2039.5,145.9 L2042.5,145.6 L2045.4,145.2 L2048.4,144.9 L2051.4,144.5 L2054.4,144.2 L2057.3,143.9 L2060.3,143.6 L2063.3,143.3 L2066.2,143.0 L2069.2,142.7 L2072.2,142.4 L2075.2,142.1 L2078.1,141.9 L2081.1,141.6 L2084.1,141.3 L2087.1,141.1 L2090.1,140.8 L2093.0,140.6 L2096.0,140.3 L2099.0,140.0 L2102.0,139.8 L2104.9,139.5 L2107.9,139.3" fill="none" stroke="#5C5F9E" stroke-width="6" stroke-linecap="round" stroke-linejoin="round" />
<path d="M1474.2,526.2 L1474.8,562.4 L1475.4,525.6 L1478.7,527.0 L1479.3,528.9 L1479.9,527.2 L1483.3,524.9 L1483.9,527.0 L1484.5,532.9 L1487.8,524.0 L1488.4,524.6 L1489.0,529.6 L1492.3,527.8 L1492.9,529.5 L1493.5,528.1 L1496.8,530.6 L1497.4,531.1 L1498.0,528.4 L1501.4,533.7 L1502.0,536.6 L1502.6,533.1 L1505.9,532.8 L1506.5,535.3 L1507.1,527.4 L1510.4,529.8 L1511.0,530.4 L1511.6,525.7 L1515.0,526.9 L1515.6,527.7 L1516.2,531.1 L1519.5,527.7 L1520.1,538.5 L1520.7,534.0 L1524.0,532.3 L1524.6,533.1 L1525.2,534.7 L1528.6,530.1 L1529.2,531.7 L1529.8,537.1 L1533.1,530.0 L1533.7,548.4 L1534.3,536.4 L1537.0,533.4 L1537.6,590.0 L1538.2,535.3 L1542.1,529.6 L1542.7,531.3 L1543.3,531.0 L1546.7,537.7 L1547.3,539.2 L1547.9,528.5 L1551.2,531.3 L1551.8,550.9 L1552.4,529.2 L1555.7,537.1 L1556.3,538.4 L1556.9,539.2 L1560.3,530.9 L1560.9,541.7 L1561.5,534.7 L1564.8,535.3 L1565.4,537.7 L1566.0,535.5 L1569.3,529.8 L1569.9,549.9 L1570.5,531.5 L1573.9,540.9 L1574.5,541.4 L1575.1,536.0 L1577.0,535.2 L1577.6,581.0 L1578.2,539.9 L1582.9,541.2 L1583.5,547.1 L1584.1,541.3 L1587.4,533.3 L1588.0,534.1 L1588.6,541.9 L1592.0,535.8 L1592.6,543.1 L1593.2,539.0 L1596.5,540.6 L1597.1,561.9 L1597.7,535.3 L1601.0,540.2 L1601.6,541.8 L1602.2,541.7 L1605.6,534.7 L1606.2,569.7 L1606.8,540.3 L1610.1,540.5 L1610.7,540.7 L1611.3,541.8 L1615.0,543.2 L1615.6,634.0 L1616.2,541.0 L1619.2,539.6 L1619.8,542.2 L1620.4,534.0 L1623.7,536.3 L1624.3,552.9 L1624.9,537.1 L1628.2,541.0 L1628.8,541.9 L1629.4,542.1 L1632.7,537.7 L1633.3,539.6 L1633.9,538.3 L1637.3,543.6 L1637.9,552.4 L1638.5,538.0 L1641.8,545.7 L1642.4,547.8 L1643.0,538.6 L1646.3,540.2 L1646.9,540.8 L1647.5,543.8 L1650.9,539.4 L1651.5,546.0 L1652.1,540.8 L1655.4,545.0 L1656.0,546.6 L1656.6,546.3 L1662.3,538.8 L1665.1,537.7 L1667.8,536.3 L1670.3,534.6 L1672.6,532.8 L1674.8,530.7 L1676.8,528.4 L1678.6,526.1 L1680.3,523.6 L1681.9,521.1 L1683.4,518.5 L1684.8,515.8 L1686.2,513.2 L1687.5,510.5 L1688.7,507.7 L1689.9,505.0 L1691.1,502.2 L1692.2,499.4 L1693.3,496.6 L1694.4,493.8 L1695.4,491.0 L1696.4,488.2 L1697.4,485.4 L1698.5,482.6 L1699.5,479.7 L1700.5,476.9 L1701.5,474.1 L1702.5,471.3 L1703.6,468.5 L1704.7,465.7 L1705.8,462.9 L1706.9,460.1 L1708.0,457.3 L1709.1,454.5 L1710.2,451.8 L1711.4,449.0 L1712.5,446.2 L1713.7,443.4 L1714.8,440.7 L1716.0,437.9 L1717.1,435.1 L1718.3,432.4 L1719.4,429.6 L1720.6,426.9 L1721.8,424.1 L1722.9,421.3 L1724.1,418.5 L1725.2,415.8 L1726.3,413.0 L1727.4,410.2 L1728.5,407.4 L1729.6,404.6 L1730.7,401.8 L1731.8,399.0 L1732.8,396.2 L1733.9,393.4 L1734.9,390.6 L1736.0,387.8 L1737.0,385.0 L1738.0,382.2 L1739.1,379.3 L1740.1,376.5 L1741.1,373.7 L1742.1,370.9 L1743.2,368.1 L1744.2,365.3 L1745.3,362.5 L1746.3,359.6 L1747.4,356.8 L1748.4,354.0 L1749.5,351.2 L1750.6,348.4 L1751.7,345.7 L1752.8,342.9 L1754.0,340.1 L1755.1,337.3 L1756.3,334.6 L1757.5,331.8 L1758.7,329.1 L1759.9,326.4 L1761.2,323.6 L1762.5,320.9 L1763.8,318.2 L1765.1,315.5 L1766.5,312.9 L1767.9,310.2 L1769.3,307.6 L1770.8,305.0 L1772.3,302.4 L1773.8,299.8 L1775.4,297.2 L1777.0,294.7 L1778.6,292.2 L1780.2,289.6 L1781.8,287.1 L1783.5,284.6 L1785.1,282.1 L1786.8,279.7 L1788.5,277.2 L1790.2,274.7 L1792.0,272.3 L1793.7,269.8 L1795.4,267.4 L1797.1,264.9 L1798.9,262.5 L1800.6,260.0 L1802.4,257.6 L1804.2,255.2 L1806.0,252.8 L1807.8,250.4 L1809.7,248.1 L1811.6,245.8 L1813.5,243.5 L1815.5,241.2 L1817.5,239.0 L1819.5,236.8 L1821.6,234.6 L1823.7,232.5 L1825.8,230.3 L1828.0,228.3 L1830.1,226.2 L1832.4,224.2 L1834.6,222.2 L1836.9,220.2 L1839.2,218.3 L1841.5,216.4 L1843.8,214.5 L1846.2,212.7 L1848.6,210.9 L1851.0,209.1 L1853.4,207.3 L1855.9,205.6 L1858.3,203.9 L1860.8,202.2 L1863.3,200.6 L1865.9,199.0 L1868.4,197.4 L1871.0,195.8 L1873.5,194.3 L1876.1,192.8 L1878.8,191.3 L1881.4,189.9 L1884.0,188.5 L1886.7,187.1 L1889.4,185.7 L1892.1,184.4 L1894.8,183.1 L1897.5,181.8 L1900.2,180.6 L1902.9,179.4 L1905.7,178.2 L1908.4,177.0 L1911.2,175.8 L1914.0,174.7 L1916.8,173.6 L1919.6,172.6 L1922.4,171.5 L1925.2,170.5 L1928.0,169.5 L1930.9,168.5 L1933.7,167.6 L1936.6,166.7 L1939.4,165.8 L1942.3,164.9 L1945.2,164.0 L1948.1,163.2 L1950.9,162.4 L1953.8,161.6 L1956.7,160.8 L1959.6,160.0 L1962.5,159.3 L1965.4,158.6 L1968.4,157.9 L1971.3,157.2 L1974.2,156.6 L1977.1,155.9 L1980.1,155.3 L1983.0,154.7 L1985.9,154.1 L1988.9,153.5 L1991.8,152.9 L1994.8,152.4 L1997.7,151.9 L2000.7,151.3 L2003.6,150.8 L2006.6,150.4 L2009.6,149.9 L2012.5,149.4 L2015.5,149.0 L2018.5,148.5 L2021.4,148.1 L2024.4,147.7 L2027.4,147.3 L2030.3,146.9 L2033.3,146.5 L2036.3,146.1 L2039.3,145.8 L2042.2,145.4 L2045.2,145.1 L2048.2,144.7 L2051.2,144.4 L2054.2,144.1 L2057.1,143.8 L2060.1,143.5 L2063.1,143.2 L2066.1,142.9 L2069.1,142.6 L2072.1,142.3 L2075.0,142.0 L2078.0,141.8 L2081.0,141.5 L2084.0,141.2 L2087.0,141.0 L2090.0,140.7 L2093.0,140.5 L2095.9,140.2 L2098.9,140.0 L2101.9,139.7 L2104.9,139.5 L2107.9,139.2" fill="none" stroke="#A0A0A0" stroke-width="6" stroke-linecap="round" stroke-linejoin="round" />
</g>
<rect x="1383.60" y="72.80" width="815.20" height="658.70" fill="none" stroke="#000" stroke-width="7.5" stroke-linejoin="miter"/>
<line x1="1370.55" y1="132.68" x2="1380.35" y2="132.68" stroke="#000" stroke-width="7.5"/>
<line x1="1370.55" y1="252.45" x2="1380.35" y2="252.45" stroke="#000" stroke-width="7.5"/>
<line x1="1370.55" y1="372.21" x2="1380.35" y2="372.21" stroke="#000" stroke-width="7.5"/>
<line x1="1370.55" y1="491.97" x2="1380.35" y2="491.97" stroke="#000" stroke-width="7.5"/>
<line x1="1370.55" y1="611.74" x2="1380.35" y2="611.74" stroke="#000" stroke-width="7.5"/>
<line x1="1370.55" y1="731.50" x2="1380.35" y2="731.50" stroke="#000" stroke-width="7.5"/>
<line x1="1474.18" y1="734.75" x2="1474.18" y2="744.55" stroke="#000" stroke-width="7.5"/>
<line x1="1655.33" y1="734.75" x2="1655.33" y2="744.55" stroke="#000" stroke-width="7.5"/>
<line x1="1836.49" y1="734.75" x2="1836.49" y2="744.55" stroke="#000" stroke-width="7.5"/>
<line x1="2017.64" y1="734.75" x2="2017.64" y2="744.55" stroke="#000" stroke-width="7.5"/>
<line x1="2198.80" y1="734.75" x2="2198.80" y2="744.55" stroke="#000" stroke-width="7.5"/>
<g transform="translate(1280.24,150.58) scale(1,1.041)" fill="#000" ><text x="0.00" y="0.00" font-size="45.8">10</text><text x="51.44" y="-20.00" font-size="30.5">-5</text></g>
<g transform="translate(1280.24,270.35) scale(1,1.041)" fill="#000" ><text x="0.00" y="0.00" font-size="45.8">10</text><text x="51.44" y="-20.00" font-size="30.5">-7</text></g>
<g transform="translate(1280.24,390.11) scale(1,1.041)" fill="#000" ><text x="0.00" y="0.00" font-size="45.8">10</text><text x="51.44" y="-20.00" font-size="30.5">-9</text></g>
<g transform="translate(1263.27,509.87) scale(1,1.041)" fill="#000" ><text x="0.00" y="0.00" font-size="45.8">10</text><text x="51.44" y="-20.00" font-size="30.5">-11</text></g>
<g transform="translate(1263.27,629.64) scale(1,1.041)" fill="#000" ><text x="0.00" y="0.00" font-size="45.8">10</text><text x="51.44" y="-20.00" font-size="30.5">-13</text></g>
<g transform="translate(1263.27,749.40) scale(1,1.041)" fill="#000" ><text x="0.00" y="0.00" font-size="45.8">10</text><text x="51.44" y="-20.00" font-size="30.5">-15</text></g>
<g transform="translate(1453.04,790.50) scale(1,1.041)" fill="#000" ><text x="0.00" y="0.00" font-size="45.8">-4</text></g>
<g transform="translate(1634.99,790.50) scale(1,1.041)" fill="#000" ><text x="0.00" y="0.00" font-size="45.8">-2</text></g>
<g transform="translate(1823.79,790.50) scale(1,1.041)" fill="#000" ><text x="0.00" y="0.00" font-size="45.8">0</text></g>
<g transform="translate(2005.03,790.50) scale(1,1.041)" fill="#000" ><text x="0.00" y="0.00" font-size="45.8">2</text></g>
<g transform="translate(2185.84,790.50) scale(1,1.041)" fill="#000" ><text x="0.00" y="0.00" font-size="45.8">4</text></g>
<g transform="translate(1702.76,859.80) scale(1,1.0)" fill="#000" ><text x="0.00" y="0.00" font-size="65">V</text><text x="44.35" y="0.00" font-size="36.400000000000006">G</text><text x="72.67" y="0.00" font-size="65"> (V)</text></g>
<g transform="translate(1248.30,498.25) rotate(-90) scale(1,1.0)" fill="#000" ><text x="0.00" y="0.00" font-size="65">I</text><text x="18.56" y="0.00" font-size="36.400000000000006">D</text><text x="44.85" y="0.00" font-size="65"> (A)</text></g>
<g transform="translate(1392.20,117.10) scale(1,1.041)" fill="#FF0000" ><text x="0.00" y="0.00" font-size="37.4">ITO transistor</text></g>
<g transform="translate(1392.20,176.30) scale(1,1.041)" fill="#000" ><text x="0.00" y="0.00" font-size="37.4">NBIS : -1 V, 10000 Lux</text></g>
<g transform="translate(1394.44,233.40) scale(1,1.041)" fill="#000" ><text x="0.00" y="0.00" font-size="37.4">V</text><text x="24.65" y="0.00" font-size="22.066">D</text><text x="40.58" y="0.00" font-size="37.4"> = 0.1 V</text></g>
<line x1="1942.5" y1="429.7" x2="2025.4" y2="429.7" stroke="#FF0000" stroke-width="6.2" stroke-linecap="round"/>
<g transform="translate(2035.72,442.90) scale(1,1.041)" fill="#000" ><text x="0.00" y="0.00" font-size="37.4">0 S</text></g>
<line x1="1942.5" y1="477.3" x2="2025.4" y2="477.3" stroke="#0A5A9C" stroke-width="6.2" stroke-linecap="round"/>
<g transform="translate(2035.90,490.50) scale(1,1.041)" fill="#000" ><text x="0.00" y="0.00" font-size="37.4">200 S</text></g>
<line x1="1942.5" y1="523.6" x2="2025.4" y2="523.6" stroke="#FFC000" stroke-width="6.2" stroke-linecap="round"/>
<g transform="translate(2036.63,536.80) scale(1,1.041)" fill="#000" ><text x="0.00" y="0.00" font-size="37.4">400 S</text></g>
<line x1="1942.5" y1="570.7" x2="2025.4" y2="570.7" stroke="#00C46A" stroke-width="6.2" stroke-linecap="round"/>
<g transform="translate(2035.83,583.90) scale(1,1.041)" fill="#000" ><text x="0.00" y="0.00" font-size="37.4">600 S</text></g>
<line x1="1942.5" y1="617.9" x2="2025.4" y2="617.9" stroke="#5C5F9E" stroke-width="6.2" stroke-linecap="round"/>
<g transform="translate(2036.01,631.10) scale(1,1.041)" fill="#000" ><text x="0.00" y="0.00" font-size="37.4">800 S</text></g>
<line x1="1942.5" y1="665.0" x2="2025.4" y2="665.0" stroke="#A0A0A0" stroke-width="6.2" stroke-linecap="round"/>
<g transform="translate(2034.84,678.20) scale(1,1.041)" fill="#000" ><text x="0.00" y="0.00" font-size="37.4">1000 S</text></g>
<g transform="translate(1132.68,85.00) scale(1,1.0)" fill="#000" ><text x="0.00" y="0.00" font-size="82.8">(b)</text></g>
<clipPath id="cclip"><rect x="274.7" y="938.9" width="822.9" height="664.6"/></clipPath>
<g clip-path="url(#cclip)">
<path d="M366.1,1376.9 L366.7,1377.0 L367.3,1382.5 L370.6,1377.3 L371.2,1380.7 L371.8,1389.0 L375.2,1389.4 L375.8,1395.6 L376.4,1384.5 L379.7,1385.2 L380.3,1411.7 L380.9,1379.4 L384.2,1385.4 L384.8,1387.1 L385.4,1383.1 L388.7,1390.2 L389.3,1401.7 L389.9,1378.5 L393.3,1380.8 L393.9,1404.6 L394.5,1384.4 L397.8,1388.6 L398.4,1408.2 L399.0,1377.6 L402.3,1377.0 L402.9,1383.4 L403.5,1389.2 L406.9,1385.9 L407.5,1386.6 L408.1,1378.9 L411.4,1376.4 L412.0,1396.9 L412.6,1378.9 L415.9,1389.6 L416.5,1389.6 L417.1,1386.5 L420.5,1378.5 L421.1,1383.3 L421.7,1391.0 L425.0,1377.0 L425.6,1378.8 L426.2,1376.7 L429.5,1380.9 L430.1,1384.0 L430.7,1381.0 L434.0,1376.7 L434.6,1385.7 L435.2,1388.9 L438.6,1387.5 L439.2,1405.9 L439.8,1379.4 L443.1,1390.0 L443.7,1390.5 L444.3,1376.9 L447.6,1378.0 L448.2,1402.6 L448.8,1376.9 L452.2,1384.1 L452.8,1389.8 L453.4,1389.5 L456.7,1380.7 L457.3,1381.7 L457.9,1391.5 L461.2,1383.4 L461.8,1383.6 L462.4,1381.6 L465.8,1378.0 L466.4,1409.4 L467.0,1383.1 L470.3,1388.2 L470.9,1390.3 L471.5,1385.3 L476.8,1388.9 L477.4,1486.0 L478.0,1391.1 L479.3,1379.4 L479.9,1382.1 L480.5,1383.9 L483.9,1388.7 L484.5,1402.1 L485.1,1377.9 L488.4,1392.4 L489.0,1399.6 L489.6,1379.6 L492.9,1378.5 L493.5,1378.9 L494.1,1390.6 L497.5,1385.1 L498.1,1385.8 L498.7,1378.8 L502.0,1378.3 L502.6,1397.2 L503.2,1379.4 L506.5,1382.7 L507.1,1386.6 L507.7,1387.5 L511.1,1382.6 L511.7,1383.0 L512.3,1383.8 L515.6,1379.3 L516.2,1382.0 L516.8,1386.4 L520.1,1388.6 L520.7,1390.6 L521.3,1379.1 L524.6,1380.3 L525.2,1435.3 L525.8,1385.1 L529.2,1389.0 L529.8,1389.8 L530.4,1390.3 L533.7,1390.2 L534.3,1412.9 L534.9,1382.1 L538.2,1385.9 L538.8,1387.7 L539.4,1382.7 L542.8,1382.1 L543.4,1409.3 L544.0,1387.9 L547.3,1383.0 L547.9,1401.0 L548.5,1390.6 L551.8,1388.8 L552.4,1443.8 L553.0,1386.5 L556.4,1380.2 L557.0,1381.6 L557.6,1383.7 L560.9,1381.2 L561.5,1383.1 L562.1,1390.9 L565.4,1392.5 L566.0,1418.3 L566.6,1390.3 L569.9,1384.2 L570.5,1385.4 L571.1,1390.3 L574.5,1392.3 L575.1,1394.0 L575.7,1389.5 L579.2,1391.0 L579.8,1508.0 L580.4,1386.0 L583.5,1387.7 L584.1,1390.1 L584.7,1391.6 L588.1,1386.9 L588.7,1392.7 L589.3,1392.7 L592.6,1385.1 L593.2,1386.5 L593.8,1380.9 L597.1,1386.0 L597.7,1417.7 L598.3,1392.4 L601.7,1385.9 L602.3,1390.2 L602.9,1387.6 L606.2,1387.5 L606.8,1388.4 L607.4,1392.7 L610.7,1380.9 L611.3,1381.0 L611.9,1386.8 L615.2,1394.8 L615.8,1421.4 L616.4,1388.0 L619.8,1383.2 L620.4,1386.3 L621.0,1390.8 L624.3,1384.0 L624.9,1385.3 L625.5,1393.2 L628.8,1386.3 L629.4,1386.6 L630.0,1391.3 L633.4,1382.7 L634.0,1384.3 L634.6,1385.8 L637.9,1381.2 L638.5,1417.3 L639.1,1383.7 L642.4,1389.7 L643.0,1395.7 L643.6,1381.0 L647.0,1393.7 L647.6,1407.9 L648.2,1394.3 L651.5,1394.6 L652.1,1395.7 L652.7,1386.8 L656.0,1383.1 L656.6,1397.9 L657.2,1389.4 L660.5,1393.0 L661.1,1397.3 L661.7,1394.6 L665.1,1394.5 L665.7,1396.3 L666.3,1394.0 L669.6,1391.2 L670.2,1415.6 L670.8,1386.7 L674.1,1392.0 L674.7,1393.5 L675.3,1386.0 L678.7,1388.0 L679.3,1394.3 L679.9,1395.8 L683.2,1383.7 L683.8,1387.8 L684.4,1395.4 L687.7,1384.0 L688.3,1385.2 L688.9,1390.3 L692.3,1382.0 L692.9,1398.3 L693.5,1387.4 L696.8,1395.1 L697.4,1397.5 L698.0,1395.3 L702.6,1388.9 L703.2,1474.8 L703.8,1389.6 L705.8,1382.4 L706.4,1382.6 L707.0,1393.8 L710.4,1388.9 L711.0,1394.2 L711.6,1392.7 L714.9,1391.9 L715.5,1439.6 L716.1,1384.4 L719.4,1390.0 L720.0,1393.9 L720.6,1395.1 L724.0,1382.4 L724.6,1391.9 L725.2,1382.6 L728.5,1383.3 L729.1,1396.6 L729.7,1384.2 L738.0,1390.8 L738.6,1481.4 L739.2,1395.7 L738.0,1481.4 L741.0,1420.0 L744.3,1383.0 L746.0,1395.0 L749.0,1372.0 L751.0,1370.0 L753.0,1356.0 L755.5,1352.0 L757.4,1343.4 L758.0,1343.3 L758.4,1341.5 L758.7,1339.6 L759.0,1337.7 L759.4,1335.9 L759.7,1334.0 L760.0,1332.2 L760.4,1330.3 L760.7,1328.5 L761.1,1326.6 L761.4,1324.8 L761.8,1322.9 L762.1,1321.1 L762.5,1319.2 L762.9,1317.4 L763.2,1315.5 L763.6,1313.7 L764.0,1311.8 L764.4,1310.0 L764.8,1308.1 L765.1,1306.3 L765.5,1304.4 L765.9,1302.6 L766.3,1300.7 L766.8,1298.9 L767.2,1297.1 L767.6,1295.2 L768.0,1293.4 L768.4,1291.5 L768.9,1289.7 L769.3,1287.9 L769.7,1286.0 L770.2,1284.2 L770.6,1282.4 L771.1,1280.5 L771.6,1278.7 L772.0,1276.9 L772.5,1275.1 L773.0,1273.2 L773.5,1271.4 L774.0,1269.6 L774.5,1267.8 L775.0,1266.0 L775.5,1264.2 L776.0,1262.3 L776.5,1260.5 L777.1,1258.7 L777.6,1256.9 L778.1,1255.1 L778.7,1253.3 L779.3,1251.5 L779.8,1249.7 L780.4,1247.9 L781.0,1246.1 L781.6,1244.3 L782.2,1242.5 L782.8,1240.7 L783.4,1239.0 L784.0,1237.2 L784.6,1235.4 L785.3,1233.6 L785.9,1231.9 L786.6,1230.1 L787.2,1228.3 L787.9,1226.6 L788.6,1224.8 L789.3,1223.0 L790.0,1221.3 L790.7,1219.5 L791.4,1217.8 L792.1,1216.1 L792.8,1214.3 L793.6,1212.6 L794.3,1210.9 L795.1,1209.1 L795.9,1207.4 L796.7,1205.7 L797.5,1204.0 L798.3,1202.3 L799.1,1200.6 L799.9,1198.9 L800.7,1197.2 L801.6,1195.5 L802.4,1193.8 L803.3,1192.1 L804.2,1190.5 L805.1,1188.8 L806.0,1187.1 L806.9,1185.5 L807.8,1183.8 L808.7,1182.2 L809.7,1180.6 L810.6,1178.9 L811.6,1177.3 L812.6,1175.7 L813.5,1174.1 L814.5,1172.5 L815.6,1170.9 L816.6,1169.3 L817.6,1167.8 L818.7,1166.2 L819.7,1164.6 L820.8,1163.1 L821.9,1161.5 L823.0,1160.0 L824.1,1158.5 L825.2,1157.0 L826.4,1155.5 L827.5,1154.0 L828.7,1152.5 L829.8,1151.0 L831.0,1149.5 L832.2,1148.1 L833.4,1146.6 L834.7,1145.2 L835.9,1143.8 L837.1,1142.4 L838.4,1141.0 L839.7,1139.6 L841.0,1138.2 L842.3,1136.8 L843.6,1135.5 L844.9,1134.1 L846.2,1132.8 L847.6,1131.5 L848.9,1130.2 L850.3,1128.9 L851.7,1127.6 L853.1,1126.3 L854.5,1125.0 L855.9,1123.8 L857.3,1122.5 L858.7,1121.3 L860.1,1120.1 L861.6,1118.9 L863.1,1117.7 L864.5,1116.5 L866.0,1115.3 L867.5,1114.1 L869.0,1113.0 L870.5,1111.8 L872.0,1110.7 L873.5,1109.6 L875.0,1108.5 L876.5,1107.4 L878.1,1106.3 L879.6,1105.2 L881.2,1104.1 L882.8,1103.1 L884.3,1102.0 L885.9,1101.0 L887.5,1100.0 L889.1,1099.0 L890.7,1098.0 L892.3,1097.0 L893.9,1096.0 L895.5,1095.0 L897.1,1094.0 L898.7,1093.1 L900.4,1092.2 L902.0,1091.2 L903.7,1090.3 L905.3,1089.4 L907.0,1088.5 L908.6,1087.6 L910.3,1086.7 L912.0,1085.9 L913.7,1085.0 L915.4,1084.2 L917.0,1083.3 L918.7,1082.5 L920.4,1081.7 L922.1,1080.9 L923.9,1080.1 L925.6,1079.3 L927.3,1078.5 L929.0,1077.8 L930.7,1077.0 L932.5,1076.3 L934.2,1075.5 L936.0,1074.8 L937.7,1074.1 L939.4,1073.4 L941.2,1072.7 L943.0,1072.0 L944.7,1071.3 L946.5,1070.6 L948.2,1070.0 L950.0,1069.3 L951.8,1068.7 L953.6,1068.0 L955.3,1067.4 L957.1,1066.8 L958.9,1066.2 L960.7,1065.6 L962.5,1065.0 L964.3,1064.4 L966.1,1063.9 L967.9,1063.3 L969.7,1062.7 L971.5,1062.2 L973.3,1061.6 L975.1,1061.1 L976.9,1060.6 L978.7,1060.0 L980.5,1059.5 L982.4,1059.0 L984.2,1058.5 L986.0,1058.0 L987.8,1057.6 L989.6,1057.1 L991.5,1056.6 L993.3,1056.1 L995.1,1055.7 L997.0,1055.2 L998.8,1054.8 L1000.6,1054.4 L1002.5,1053.9 L1004.3,1053.5 L1006.1,1053.1" fill="none" stroke="#FF0000" stroke-width="6" stroke-linecap="round" stroke-linejoin="round" />
<path d="M366.1,1383.7 L366.7,1401.3 L367.3,1375.0 L370.6,1380.9 L371.2,1404.1 L371.8,1375.9 L375.2,1386.4 L375.8,1429.5 L376.4,1389.5 L379.7,1381.9 L380.3,1384.1 L380.9,1378.5 L384.2,1389.5 L384.8,1389.9 L385.4,1387.7 L388.7,1375.7 L389.3,1421.4 L389.9,1378.4 L393.3,1378.0 L393.9,1381.4 L394.5,1381.6 L397.8,1385.8 L398.4,1431.2 L399.0,1376.4 L402.3,1386.0 L402.9,1414.4 L403.5,1381.8 L406.9,1379.9 L407.5,1380.2 L408.1,1376.3 L411.4,1388.1 L412.0,1388.7 L412.6,1377.7 L415.9,1380.6 L416.5,1399.4 L417.1,1384.8 L420.5,1377.7 L421.1,1381.0 L421.7,1381.9 L425.0,1389.8 L425.6,1392.7 L426.2,1380.4 L429.5,1389.5 L430.1,1412.1 L430.7,1380.7 L434.0,1388.2 L434.6,1416.5 L435.2,1385.6 L438.6,1387.8 L439.2,1390.2 L439.8,1387.1 L443.1,1370.0 L443.7,1374.3 L444.3,1372.5 L447.6,1385.3 L448.2,1388.4 L448.8,1386.9 L452.2,1385.4 L452.8,1388.2 L453.4,1384.0 L456.7,1389.5 L457.3,1418.2 L457.9,1382.6 L461.2,1382.8 L461.8,1390.9 L462.4,1388.9 L464.6,1384.7 L465.2,1542.6 L465.8,1389.1 L470.3,1386.3 L470.9,1416.5 L471.5,1386.5 L474.8,1385.5 L475.4,1397.8 L476.0,1391.6 L479.3,1382.1 L479.9,1383.7 L480.5,1386.9 L483.9,1382.2 L484.5,1399.3 L485.1,1384.9 L488.4,1384.4 L489.0,1388.6 L489.6,1384.6 L492.9,1391.8 L493.5,1393.6 L494.1,1382.2 L497.5,1392.3 L498.1,1394.7 L498.7,1380.1 L502.0,1386.2 L502.6,1387.6 L503.2,1388.4 L506.5,1387.3 L507.1,1411.9 L507.7,1381.2 L511.1,1385.0 L511.7,1432.9 L512.3,1391.5 L515.6,1392.8 L516.2,1393.3 L516.8,1391.5 L520.1,1380.6 L520.7,1384.6 L521.3,1381.5 L524.6,1380.4 L525.2,1381.5 L525.8,1378.5 L529.2,1387.7 L529.8,1390.1 L530.4,1385.1 L533.7,1384.1 L534.3,1386.9 L534.9,1386.4 L538.2,1381.8 L538.8,1384.6 L539.4,1383.1 L542.8,1383.5 L543.4,1383.6 L544.0,1383.4 L547.3,1378.7 L547.9,1380.6 L548.5,1379.5 L551.8,1389.6 L552.4,1444.6 L553.0,1393.1 L556.4,1382.4 L557.0,1384.8 L557.6,1386.6 L560.9,1382.6 L561.5,1391.9 L562.1,1386.1 L565.4,1393.7 L566.0,1407.6 L566.6,1392.6 L569.9,1392.6 L570.5,1394.0 L571.1,1384.1 L574.5,1381.6 L575.1,1412.3 L575.7,1387.1 L579.0,1389.3 L579.6,1392.1 L580.2,1379.9 L583.5,1389.4 L584.1,1438.3 L584.7,1394.0 L588.1,1381.5 L588.7,1423.0 L589.3,1392.9 L592.6,1384.3 L593.2,1386.5 L593.8,1388.9 L598.0,1388.9 L598.6,1420.0 L599.2,1394.2 L601.7,1388.0 L602.3,1388.9 L602.9,1394.0 L606.2,1381.4 L606.8,1400.6 L607.4,1386.5 L610.7,1389.2 L611.3,1390.0 L611.9,1384.0 L615.2,1381.6 L615.8,1382.1 L616.4,1385.2 L619.8,1384.2 L620.4,1396.9 L621.0,1394.0 L624.3,1380.8 L624.9,1388.2 L625.5,1393.5 L628.8,1391.4 L629.4,1393.6 L630.0,1395.1 L633.4,1394.1 L634.0,1402.8 L634.6,1395.2 L640.0,1393.2 L640.6,1415.0 L641.2,1386.4 L642.4,1381.1 L643.0,1391.5 L643.6,1380.8 L647.0,1391.9 L647.6,1394.7 L648.2,1395.0 L651.5,1390.3 L652.1,1391.5 L652.7,1391.7 L656.0,1381.7 L656.6,1420.9 L657.2,1392.2 L660.5,1387.9 L661.1,1388.4 L661.7,1381.0 L665.1,1384.9 L665.7,1416.1 L666.3,1385.6 L669.6,1383.6 L670.2,1386.4 L670.8,1387.7 L674.1,1382.9 L674.7,1406.2 L675.3,1382.4 L678.7,1383.7 L679.3,1394.0 L679.9,1382.4 L683.2,1388.5 L683.8,1395.9 L684.4,1391.1 L687.7,1382.9 L688.3,1383.8 L688.9,1385.4 L692.3,1394.6 L692.9,1395.3 L693.5,1392.3 L696.8,1382.6 L697.4,1437.6 L698.0,1388.2 L701.3,1383.0 L701.9,1384.7 L702.5,1385.5 L705.8,1389.5 L706.4,1401.6 L707.0,1395.3 L710.4,1390.4 L711.0,1393.3 L711.6,1390.4 L714.9,1390.8 L715.5,1391.2 L716.1,1393.4 L719.4,1391.1 L720.0,1392.8 L720.6,1386.7 L724.0,1382.3 L724.6,1384.5 L725.2,1395.0 L730.3,1414.0 L731.0,1411.9 L731.6,1409.7 L732.2,1407.5 L732.7,1405.3 L733.3,1403.1 L733.9,1401.0 L734.5,1398.8 L735.0,1396.6 L735.6,1394.4 L736.2,1392.2 L736.7,1390.0 L737.2,1387.8 L737.8,1385.6 L738.3,1383.4 L738.9,1381.2 L739.4,1379.0 L739.9,1376.8 L740.4,1374.6 L740.9,1372.4 L741.5,1370.2 L742.0,1368.0 L742.5,1365.8 L743.0,1363.6 L743.5,1361.4 L744.0,1359.2 L744.5,1357.0 L745.0,1354.8 L745.5,1352.5 L746.0,1350.3 L746.5,1348.1 L747.0,1345.9 L747.5,1343.7 L748.0,1341.5 L748.5,1339.3 L749.0,1337.1 L749.5,1334.9 L750.0,1332.7 L750.5,1330.5 L751.0,1328.3 L751.5,1326.0 L752.0,1323.8 L752.5,1321.6 L753.0,1319.4 L753.5,1317.2 L754.0,1315.0 L754.5,1312.8 L755.1,1310.6 L755.6,1308.4 L756.1,1306.2 L756.6,1304.0 L757.2,1301.8 L757.7,1299.6 L758.3,1297.4 L758.8,1295.2 L759.4,1293.0 L759.9,1290.8 L760.5,1288.6 L761.1,1286.4 L761.7,1284.3 L762.2,1282.1 L762.8,1279.9 L763.4,1277.7 L764.0,1275.5 L764.6,1273.3 L765.3,1271.2 L765.9,1269.0 L766.5,1266.8 L767.2,1264.6 L767.8,1262.5 L768.5,1260.3 L769.1,1258.1 L769.8,1256.0 L770.5,1253.8 L771.2,1251.7 L771.9,1249.5 L772.6,1247.4 L773.3,1245.2 L774.0,1243.1 L774.8,1240.9 L775.5,1238.8 L776.3,1236.7 L777.1,1234.6 L777.9,1232.4 L778.7,1230.3 L779.5,1228.2 L780.3,1226.1 L781.1,1224.0 L782.0,1221.9 L782.8,1219.8 L783.7,1217.7 L784.6,1215.6 L785.5,1213.5 L786.4,1211.5 L787.3,1209.4 L788.3,1207.3 L789.2,1205.3 L790.2,1203.2 L791.2,1201.2 L792.2,1199.2 L793.2,1197.1 L794.2,1195.1 L795.2,1193.1 L796.3,1191.1 L797.4,1189.1 L798.4,1187.1 L799.5,1185.1 L800.6,1183.2 L801.8,1181.2 L802.9,1179.3 L804.1,1177.3 L805.2,1175.4 L806.4,1173.4 L807.6,1171.5 L808.8,1169.6 L810.0,1167.7 L811.3,1165.8 L812.5,1163.9 L813.8,1162.1 L815.1,1160.2 L816.4,1158.3 L817.7,1156.5 L819.0,1154.7 L820.4,1152.8 L821.7,1151.0 L823.1,1149.2 L824.5,1147.5 L825.9,1145.7 L827.3,1143.9 L828.8,1142.2 L830.2,1140.5 L831.7,1138.7 L833.2,1137.0 L834.7,1135.3 L836.2,1133.7 L837.7,1132.0 L839.3,1130.4 L840.9,1128.8 L842.5,1127.1 L844.1,1125.6 L845.7,1124.0 L847.4,1122.4 L849.0,1120.9 L850.7,1119.4 L852.4,1117.9 L854.1,1116.4 L855.9,1115.0 L857.6,1113.5 L859.4,1112.1 L861.2,1110.7 L863.0,1109.4 L864.8,1108.0 L866.6,1106.7 L868.5,1105.4 L870.3,1104.1 L872.2,1102.8 L874.1,1101.5 L876.0,1100.3 L877.9,1099.1 L879.8,1097.9 L881.7,1096.7 L883.7,1095.5 L885.6,1094.4 L887.6,1093.2 L889.5,1092.1 L891.5,1091.0 L893.5,1089.9 L895.5,1088.8 L897.5,1087.8 L899.5,1086.7 L901.5,1085.7 L903.5,1084.7 L905.6,1083.7 L907.6,1082.7 L909.6,1081.7 L911.7,1080.8 L913.7,1079.8 L915.8,1078.9 L917.9,1078.0 L919.9,1077.1 L922.0,1076.2 L924.1,1075.3 L926.2,1074.4 L928.3,1073.5 L930.4,1072.7 L932.5,1071.9 L934.6,1071.0 L936.7,1070.2 L938.8,1069.4 L941.0,1068.7 L943.1,1067.9 L945.2,1067.1 L947.3,1066.4 L949.5,1065.6 L951.6,1064.9 L953.8,1064.2 L955.9,1063.5 L958.1,1062.8 L960.2,1062.1 L962.4,1061.5 L964.6,1060.8 L966.7,1060.2 L968.9,1059.5 L971.1,1058.9 L973.3,1058.3 L975.5,1057.7 L977.6,1057.1 L979.8,1056.5 L982.0,1055.9 L984.2,1055.4 L986.4,1054.8 L988.6,1054.3 L990.8,1053.8 L993.0,1053.2 L995.2,1052.7 L997.4,1052.2 L999.6,1051.7 L1001.8,1051.2 L1004.1,1050.8 L1006.3,1050.3" fill="none" stroke="#0A5A9C" stroke-width="6" stroke-linecap="round" stroke-linejoin="round" />
<path d="M366.1,1387.6 L366.7,1388.4 L367.3,1386.7 L370.6,1385.6 L371.2,1388.1 L371.8,1377.0 L375.2,1383.3 L375.8,1393.6 L376.4,1383.3 L379.7,1385.9 L380.3,1393.1 L380.9,1382.5 L384.2,1379.6 L384.8,1380.7 L385.4,1388.1 L386.7,1388.5 L387.3,1458.0 L387.9,1388.6 L393.3,1386.0 L393.9,1387.1 L394.5,1380.1 L397.8,1386.6 L398.4,1389.6 L399.0,1386.2 L402.3,1380.7 L402.9,1404.6 L403.5,1377.4 L406.9,1385.3 L407.5,1386.1 L408.1,1379.9 L411.4,1388.6 L412.0,1394.5 L412.6,1376.4 L415.9,1382.7 L416.5,1404.8 L417.1,1381.3 L420.5,1384.8 L421.1,1397.0 L421.7,1385.2 L425.0,1383.7 L425.6,1385.5 L426.2,1387.4 L429.5,1382.8 L430.1,1385.1 L430.7,1380.2 L434.0,1388.4 L434.6,1436.9 L435.2,1379.7 L438.6,1380.1 L439.2,1388.3 L439.8,1388.7 L443.1,1382.2 L443.7,1384.4 L444.3,1377.7 L447.6,1377.1 L448.2,1377.7 L448.8,1381.2 L452.2,1384.8 L452.8,1387.7 L453.4,1388.8 L454.6,1390.5 L455.2,1496.0 L455.8,1388.0 L461.2,1385.6 L461.8,1404.8 L462.4,1382.8 L465.8,1377.7 L466.4,1409.4 L467.0,1379.6 L470.3,1385.8 L470.9,1386.1 L471.5,1385.9 L474.8,1383.0 L475.4,1384.8 L476.0,1378.4 L479.3,1378.3 L479.9,1388.3 L480.5,1378.8 L483.9,1381.6 L484.5,1399.8 L485.1,1388.5 L488.4,1384.5 L489.0,1391.6 L489.6,1378.6 L492.9,1389.9 L493.5,1391.6 L494.1,1378.4 L497.5,1386.3 L498.1,1387.1 L498.7,1378.4 L502.0,1385.9 L502.6,1387.7 L503.2,1385.8 L506.5,1392.7 L507.1,1394.4 L507.7,1381.3 L509.0,1385.6 L509.6,1532.6 L510.2,1387.3 L515.6,1387.6 L516.2,1404.1 L516.8,1379.2 L520.1,1381.3 L520.7,1381.7 L521.3,1386.6 L524.6,1382.6 L525.2,1386.5 L525.8,1379.1 L529.2,1381.7 L529.8,1383.4 L530.4,1385.0 L533.7,1392.6 L534.3,1393.2 L534.9,1381.8 L538.2,1387.4 L538.8,1399.8 L539.4,1383.7 L542.8,1387.3 L543.4,1388.1 L544.0,1387.5 L547.3,1380.0 L547.9,1429.9 L548.5,1382.4 L551.8,1384.9 L552.4,1390.7 L553.0,1383.4 L556.4,1380.5 L557.0,1382.3 L557.6,1386.6 L560.9,1369.0 L561.5,1377.4 L562.1,1373.3 L565.4,1389.2 L566.0,1390.4 L566.6,1385.5 L569.9,1358.0 L570.5,1360.7 L571.1,1362.6 L574.5,1391.2 L575.1,1443.2 L575.7,1384.8 L579.0,1362.4 L579.6,1366.7 L580.2,1362.9 L583.5,1338.0 L584.1,1341.0 L584.7,1339.9 L588.1,1349.0 L588.7,1355.2 L589.3,1351.0 L592.6,1386.2 L593.2,1405.9 L593.8,1384.1 L597.1,1383.3 L597.7,1384.8 L598.3,1385.5 L601.7,1383.5 L602.3,1386.1 L602.9,1387.5 L606.2,1390.0 L606.8,1392.0 L607.4,1393.3 L610.7,1386.3 L611.3,1388.2 L611.9,1382.1 L615.2,1394.5 L615.8,1395.2 L616.4,1384.8 L619.8,1394.3 L620.4,1400.1 L621.0,1395.0 L624.3,1395.1 L624.9,1395.5 L625.5,1394.7 L628.8,1368.0 L629.4,1371.6 L630.0,1372.6 L633.4,1386.8 L634.0,1387.7 L634.6,1391.8 L637.9,1393.6 L638.5,1393.7 L639.1,1384.5 L642.4,1358.0 L643.0,1363.0 L643.6,1363.2 L647.0,1383.2 L647.6,1388.9 L648.2,1391.9 L651.5,1384.7 L652.1,1387.0 L652.7,1389.5 L656.0,1351.3 L656.6,1355.3 L657.2,1355.4 L660.5,1383.6 L661.1,1400.2 L661.7,1393.8 L665.1,1354.6 L665.7,1359.5 L666.3,1359.7 L669.6,1392.1 L670.2,1392.4 L670.8,1386.2 L674.1,1342.4 L674.7,1349.6 L675.3,1346.5 L678.7,1391.7 L679.3,1391.8 L679.9,1394.5 L683.2,1388.7 L683.8,1393.1 L684.4,1386.5 L687.7,1392.4 L688.3,1392.4 L688.9,1387.7 L692.3,1387.8 L692.9,1390.1 L693.5,1388.8 L696.8,1369.0 L697.4,1371.7 L698.0,1373.5 L701.3,1385.7 L701.9,1386.7 L702.5,1395.7 L705.8,1378.0 L706.4,1382.8 L707.0,1382.4 L710.4,1395.2 L711.0,1397.2 L711.6,1392.8 L714.9,1390.1 L715.5,1409.2 L716.1,1390.7 L719.4,1339.0 L720.0,1347.8 L720.6,1339.7 L726.0,1419.8 L726.5,1417.6 L727.1,1415.3 L727.7,1413.1 L728.2,1410.9 L728.8,1408.6 L729.3,1406.4 L729.9,1404.1 L730.4,1401.9 L730.9,1399.6 L731.5,1397.4 L732.0,1395.2 L732.5,1392.9 L733.0,1390.7 L733.5,1388.4 L734.1,1386.2 L734.6,1383.9 L735.1,1381.7 L735.6,1379.4 L736.1,1377.2 L736.6,1374.9 L737.1,1372.7 L737.6,1370.4 L738.1,1368.2 L738.6,1365.9 L739.1,1363.7 L739.6,1361.4 L740.1,1359.2 L740.6,1356.9 L741.1,1354.7 L741.6,1352.4 L742.1,1350.1 L742.6,1347.9 L743.1,1345.6 L743.7,1343.4 L744.2,1341.1 L744.7,1338.9 L745.2,1336.6 L745.7,1334.4 L746.2,1332.1 L746.7,1329.9 L747.3,1327.6 L747.8,1325.4 L748.3,1323.2 L748.8,1320.9 L749.4,1318.7 L749.9,1316.4 L750.5,1314.2 L751.0,1311.9 L751.5,1309.7 L752.1,1307.5 L752.7,1305.2 L753.2,1303.0 L753.8,1300.7 L754.4,1298.5 L754.9,1296.3 L755.5,1294.0 L756.1,1291.8 L756.7,1289.6 L757.3,1287.4 L757.9,1285.1 L758.5,1282.9 L759.2,1280.7 L759.8,1278.5 L760.4,1276.2 L761.1,1274.0 L761.7,1271.8 L762.4,1269.6 L763.0,1267.4 L763.7,1265.2 L764.4,1263.0 L765.1,1260.8 L765.8,1258.6 L766.5,1256.4 L767.2,1254.2 L767.9,1252.0 L768.7,1249.8 L769.4,1247.6 L770.1,1245.4 L770.9,1243.3 L771.7,1241.1 L772.5,1238.9 L773.3,1236.8 L774.1,1234.6 L774.9,1232.4 L775.7,1230.3 L776.5,1228.1 L777.4,1226.0 L778.3,1223.8 L779.1,1221.7 L780.0,1219.6 L780.9,1217.5 L781.8,1215.3 L782.7,1213.2 L783.7,1211.1 L784.6,1209.0 L785.6,1206.9 L786.6,1204.8 L787.5,1202.7 L788.5,1200.7 L789.6,1198.6 L790.6,1196.5 L791.6,1194.5 L792.7,1192.4 L793.7,1190.4 L794.8,1188.3 L795.9,1186.3 L797.0,1184.3 L798.2,1182.3 L799.3,1180.2 L800.4,1178.2 L801.6,1176.3 L802.8,1174.3 L804.0,1172.3 L805.2,1170.3 L806.4,1168.4 L807.6,1166.4 L808.9,1164.5 L810.1,1162.6 L811.4,1160.6 L812.7,1158.7 L814.0,1156.8 L815.3,1154.9 L816.7,1153.1 L818.0,1151.2 L819.4,1149.3 L820.8,1147.5 L822.2,1145.7 L823.6,1143.9 L825.1,1142.1 L826.5,1140.3 L828.0,1138.5 L829.5,1136.7 L831.0,1135.0 L832.5,1133.3 L834.1,1131.6 L835.7,1129.9 L837.3,1128.2 L838.9,1126.6 L840.5,1124.9 L842.1,1123.3 L843.8,1121.7 L845.5,1120.2 L847.2,1118.6 L849.0,1117.1 L850.7,1115.6 L852.5,1114.1 L854.3,1112.7 L856.1,1111.2 L857.9,1109.8 L859.8,1108.4 L861.6,1107.1 L863.5,1105.7 L865.4,1104.4 L867.3,1103.1 L869.2,1101.8 L871.1,1100.6 L873.1,1099.3 L875.0,1098.1 L877.0,1096.9 L879.0,1095.7 L881.0,1094.5 L883.0,1093.4 L885.0,1092.2 L887.0,1091.1 L889.0,1090.0 L891.1,1088.9 L893.1,1087.9 L895.2,1086.8 L897.2,1085.8 L899.3,1084.8 L901.4,1083.7 L903.4,1082.7 L905.5,1081.8 L907.6,1080.8 L909.7,1079.8 L911.8,1078.9 L913.9,1078.0 L916.0,1077.0 L918.2,1076.1 L920.3,1075.2 L922.4,1074.3 L924.6,1073.5 L926.7,1072.6 L928.8,1071.8 L931.0,1070.9 L933.1,1070.1 L935.3,1069.3 L937.5,1068.5 L939.6,1067.7 L941.8,1067.0 L944.0,1066.2 L946.2,1065.4 L948.4,1064.7 L950.5,1064.0 L952.7,1063.3 L954.9,1062.5 L957.1,1061.9 L959.3,1061.2 L961.5,1060.5 L963.8,1059.8 L966.0,1059.2 L968.2,1058.5 L970.4,1057.9 L972.6,1057.3 L974.9,1056.7 L977.1,1056.1 L979.3,1055.5 L981.5,1054.9 L983.8,1054.3 L986.0,1053.7 L988.3,1053.2 L990.5,1052.6 L992.7,1052.1 L995.0,1051.6 L997.2,1051.0 L999.5,1050.5 L1001.7,1050.0 L1004.0,1049.5 L1006.2,1049.0" fill="none" stroke="#FFC000" stroke-width="6" stroke-linecap="round" stroke-linejoin="round" />
<path d="M366.1,1375.2 L366.7,1377.9 L367.3,1386.4 L370.6,1381.6 L371.2,1382.3 L371.8,1387.6 L375.2,1383.9 L375.8,1384.6 L376.4,1383.1 L379.7,1382.2 L380.3,1390.6 L380.9,1390.1 L384.2,1384.5 L384.8,1400.7 L385.4,1390.3 L388.7,1381.7 L389.3,1394.1 L389.9,1381.5 L393.3,1384.2 L393.9,1408.9 L394.5,1381.4 L397.8,1388.4 L398.4,1401.5 L399.0,1384.1 L402.3,1378.3 L402.9,1379.1 L403.5,1376.4 L406.9,1378.1 L407.5,1381.9 L408.1,1381.6 L411.4,1388.7 L412.0,1395.0 L412.6,1380.3 L415.9,1390.2 L416.5,1410.8 L417.1,1382.4 L420.5,1390.1 L421.1,1390.9 L421.7,1383.7 L425.0,1381.4 L425.6,1383.0 L426.2,1384.8 L429.5,1379.1 L430.1,1381.5 L430.7,1380.2 L434.0,1378.1 L434.6,1380.6 L435.2,1381.6 L438.6,1384.9 L439.2,1438.0 L439.8,1387.4 L443.1,1388.9 L443.7,1389.9 L444.3,1382.6 L447.6,1386.1 L448.2,1407.4 L448.8,1386.1 L452.2,1390.8 L452.8,1392.3 L453.4,1377.2 L456.7,1383.4 L457.3,1383.6 L457.9,1382.6 L461.2,1379.9 L461.8,1383.3 L462.4,1391.0 L465.8,1382.9 L466.4,1392.4 L467.0,1377.0 L470.3,1386.3 L470.9,1388.2 L471.5,1386.2 L474.8,1377.7 L475.4,1390.1 L476.0,1387.0 L479.3,1383.6 L479.9,1384.4 L480.5,1380.8 L484.6,1379.8 L485.2,1486.0 L485.8,1389.3 L488.4,1387.6 L489.0,1390.5 L489.6,1383.7 L492.9,1386.5 L493.5,1422.0 L494.1,1391.7 L497.5,1377.9 L498.1,1378.6 L498.7,1380.5 L502.0,1385.4 L502.6,1386.9 L503.2,1391.5 L506.5,1388.3 L507.1,1388.9 L507.7,1392.5 L511.1,1380.0 L511.7,1413.2 L512.3,1382.2 L515.6,1390.5 L516.2,1398.2 L516.8,1380.1 L520.1,1388.4 L520.7,1397.5 L521.3,1389.6 L524.6,1391.9 L525.2,1419.9 L525.8,1391.4 L529.2,1389.9 L529.8,1391.6 L530.4,1391.9 L533.7,1385.5 L534.3,1410.5 L534.9,1383.9 L538.2,1388.2 L538.8,1388.6 L539.4,1388.6 L542.8,1379.4 L543.4,1381.4 L544.0,1384.5 L547.3,1390.5 L547.9,1393.5 L548.5,1388.0 L551.8,1389.4 L552.4,1391.6 L553.0,1391.6 L556.4,1391.0 L557.0,1422.0 L557.6,1380.0 L560.9,1382.5 L561.5,1412.9 L562.1,1383.5 L565.4,1379.4 L566.0,1413.0 L566.6,1391.0 L569.9,1392.7 L570.5,1396.0 L571.1,1389.4 L574.5,1392.0 L575.1,1392.1 L575.7,1389.8 L579.0,1392.5 L579.6,1425.7 L580.2,1388.6 L583.5,1388.2 L584.1,1388.9 L584.7,1383.8 L588.1,1381.6 L588.7,1436.6 L589.3,1384.1 L592.6,1389.4 L593.2,1390.6 L593.8,1381.4 L597.1,1390.2 L597.7,1400.3 L598.3,1392.4 L601.7,1383.4 L602.3,1386.3 L602.9,1384.0 L606.2,1384.0 L606.8,1385.4 L607.4,1387.9 L610.7,1388.9 L611.3,1391.2 L611.9,1382.2 L615.2,1382.1 L615.8,1421.6 L616.4,1388.9 L619.8,1384.4 L620.4,1386.1 L621.0,1390.4 L624.3,1383.4 L624.9,1402.2 L625.5,1392.7 L628.8,1387.4 L629.4,1388.4 L630.0,1387.0 L633.4,1391.8 L634.0,1393.9 L634.6,1387.0 L637.9,1394.6 L638.5,1441.6 L639.1,1386.6 L642.4,1386.8 L643.0,1429.4 L643.6,1391.0 L647.0,1391.9 L647.6,1394.7 L648.2,1390.4 L651.5,1394.5 L652.1,1394.8 L652.7,1392.6 L656.0,1391.9 L656.6,1393.1 L657.2,1393.8 L660.5,1389.0 L661.1,1416.1 L661.7,1384.5 L665.1,1393.5 L665.7,1395.5 L666.3,1390.5 L669.6,1388.0 L670.2,1415.3 L670.8,1382.9 L674.1,1389.9 L674.7,1404.4 L675.3,1385.7 L678.7,1384.0 L679.3,1427.6 L679.9,1395.2 L683.2,1389.5 L683.8,1442.4 L684.4,1385.1 L687.0,1382.2 L687.6,1455.9 L688.2,1395.6 L692.3,1396.3 L692.9,1397.7 L693.5,1384.0 L696.8,1385.5 L697.4,1387.9 L698.0,1387.3 L701.3,1385.4 L701.9,1422.5 L702.5,1387.9 L705.8,1384.8 L706.4,1385.0 L707.0,1382.5 L709.3,1391.4 L709.9,1489.0 L710.5,1390.1 L714.9,1395.3 L715.5,1409.0 L716.1,1383.9 L719.4,1384.6 L720.0,1384.9 L720.6,1390.9 L723.8,1422.7 L724.3,1420.4 L724.9,1418.1 L725.4,1415.9 L726.0,1413.6 L726.5,1411.3 L727.0,1409.1 L727.5,1406.8 L728.1,1404.5 L728.6,1402.3 L729.1,1400.0 L729.6,1397.7 L730.1,1395.5 L730.6,1393.2 L731.2,1390.9 L731.7,1388.6 L732.2,1386.4 L732.7,1384.1 L733.2,1381.8 L733.7,1379.6 L734.2,1377.3 L734.7,1375.0 L735.2,1372.7 L735.7,1370.5 L736.2,1368.2 L736.7,1365.9 L737.2,1363.6 L737.7,1361.4 L738.2,1359.1 L738.7,1356.8 L739.2,1354.5 L739.7,1352.3 L740.2,1350.0 L740.7,1347.7 L741.3,1345.4 L741.8,1343.2 L742.3,1340.9 L742.8,1338.6 L743.3,1336.4 L743.8,1334.1 L744.4,1331.8 L744.9,1329.6 L745.4,1327.3 L746.0,1325.0 L746.5,1322.8 L747.1,1320.5 L747.6,1318.2 L748.1,1316.0 L748.7,1313.7 L749.3,1311.4 L749.8,1309.2 L750.4,1306.9 L751.0,1304.7 L751.6,1302.4 L752.1,1300.2 L752.7,1297.9 L753.3,1295.6 L753.9,1293.4 L754.5,1291.2 L755.1,1288.9 L755.8,1286.7 L756.4,1284.4 L757.0,1282.2 L757.7,1279.9 L758.3,1277.7 L759.0,1275.5 L759.6,1273.2 L760.3,1271.0 L761.0,1268.8 L761.7,1266.5 L762.3,1264.3 L763.0,1262.1 L763.8,1259.9 L764.5,1257.7 L765.2,1255.5 L765.9,1253.2 L766.7,1251.0 L767.4,1248.8 L768.2,1246.6 L769.0,1244.4 L769.8,1242.2 L770.6,1240.1 L771.4,1237.9 L772.2,1235.7 L773.0,1233.5 L773.8,1231.3 L774.7,1229.2 L775.5,1227.0 L776.4,1224.8 L777.3,1222.7 L778.2,1220.5 L779.1,1218.4 L780.0,1216.2 L780.9,1214.1 L781.9,1212.0 L782.8,1209.8 L783.8,1207.7 L784.7,1205.6 L785.7,1203.5 L786.7,1201.4 L787.8,1199.3 L788.8,1197.2 L789.8,1195.1 L790.9,1193.1 L791.9,1191.0 L793.0,1188.9 L794.1,1186.9 L795.2,1184.8 L796.4,1182.8 L797.5,1180.7 L798.6,1178.7 L799.8,1176.7 L801.0,1174.7 L802.2,1172.7 L803.4,1170.7 L804.6,1168.7 L805.8,1166.7 L807.1,1164.8 L808.3,1162.8 L809.6,1160.9 L810.9,1158.9 L812.2,1157.0 L813.5,1155.1 L814.8,1153.2 L816.2,1151.3 L817.6,1149.4 L818.9,1147.5 L820.3,1145.7 L821.8,1143.8 L823.2,1142.0 L824.7,1140.2 L826.1,1138.4 L827.6,1136.6 L829.2,1134.8 L830.7,1133.1 L832.3,1131.3 L833.8,1129.6 L835.4,1127.9 L837.1,1126.3 L838.7,1124.6 L840.4,1123.0 L842.0,1121.4 L843.7,1119.8 L845.5,1118.2 L847.2,1116.7 L849.0,1115.2 L850.8,1113.7 L852.6,1112.2 L854.4,1110.8 L856.3,1109.4 L858.1,1108.0 L860.0,1106.6 L861.9,1105.2 L863.8,1103.9 L865.8,1102.6 L867.7,1101.3 L869.7,1100.1 L871.6,1098.8 L873.6,1097.6 L875.6,1096.4 L877.6,1095.2 L879.6,1094.0 L881.6,1092.9 L883.7,1091.8 L885.7,1090.6 L887.8,1089.5 L889.8,1088.5 L891.9,1087.4 L894.0,1086.3 L896.1,1085.3 L898.2,1084.3 L900.3,1083.3 L902.4,1082.3 L904.5,1081.3 L906.6,1080.3 L908.7,1079.4 L910.8,1078.4 L913.0,1077.5 L915.1,1076.6 L917.3,1075.7 L919.4,1074.8 L921.6,1073.9 L923.7,1073.0 L925.9,1072.2 L928.1,1071.3 L930.2,1070.5 L932.4,1069.7 L934.6,1068.8 L936.8,1068.1 L939.0,1067.3 L941.2,1066.5 L943.4,1065.7 L945.6,1065.0 L947.8,1064.2 L950.0,1063.5 L952.2,1062.8 L954.4,1062.1 L956.7,1061.4 L958.9,1060.7 L961.1,1060.0 L963.3,1059.3 L965.6,1058.7 L967.8,1058.0 L970.1,1057.4 L972.3,1056.8 L974.5,1056.1 L976.8,1055.5 L979.0,1054.9 L981.3,1054.3 L983.6,1053.8 L985.8,1053.2 L988.1,1052.6 L990.3,1052.1 L992.6,1051.5 L994.9,1051.0 L997.1,1050.5 L999.4,1049.9 L1001.7,1049.4 L1003.9,1048.9 L1006.2,1048.4" fill="none" stroke="#00C46A" stroke-width="6" stroke-linecap="round" stroke-linejoin="round" />
<path d="M366.1,1386.9 L366.7,1386.9 L367.3,1381.3 L370.6,1376.3 L371.2,1381.2 L371.8,1384.4 L375.2,1388.8 L375.8,1399.3 L376.4,1380.3 L379.7,1383.6 L380.3,1385.0 L380.9,1386.9 L384.2,1379.0 L384.8,1386.8 L385.4,1377.3 L388.7,1389.1 L389.3,1405.1 L389.9,1381.6 L393.3,1382.4 L393.9,1385.2 L394.5,1376.0 L400.0,1379.6 L400.6,1526.0 L401.2,1388.1 L402.3,1385.5 L402.9,1388.2 L403.5,1386.7 L406.9,1387.9 L407.5,1422.9 L408.1,1382.4 L411.4,1386.2 L412.0,1422.3 L412.6,1390.7 L415.9,1377.3 L416.5,1383.2 L417.1,1377.7 L420.5,1382.8 L421.1,1384.1 L421.7,1379.5 L425.0,1381.9 L425.6,1384.2 L426.2,1389.7 L429.5,1390.0 L430.1,1405.3 L430.7,1387.3 L434.0,1376.8 L434.6,1412.5 L435.2,1389.8 L438.6,1383.6 L439.2,1386.0 L439.8,1382.4 L443.1,1387.7 L443.7,1389.4 L444.3,1380.0 L447.6,1387.8 L448.2,1390.7 L448.8,1377.3 L452.2,1389.5 L452.8,1438.3 L453.4,1390.5 L456.7,1379.5 L457.3,1392.8 L457.9,1387.5 L461.2,1386.1 L461.8,1399.3 L462.4,1382.2 L465.8,1388.9 L466.4,1393.7 L467.0,1391.9 L470.3,1378.2 L470.9,1381.2 L471.5,1380.2 L474.8,1388.1 L475.4,1389.0 L476.0,1378.9 L479.3,1380.7 L479.9,1407.7 L480.5,1384.5 L483.9,1379.1 L484.5,1379.1 L485.1,1385.8 L488.4,1378.7 L489.0,1385.2 L489.6,1386.2 L492.9,1392.4 L493.5,1394.2 L494.1,1382.2 L497.5,1378.1 L498.1,1416.1 L498.7,1381.6 L502.0,1391.3 L502.6,1391.4 L503.2,1378.5 L506.5,1380.3 L507.1,1383.1 L507.7,1392.3 L511.1,1386.6 L511.7,1387.5 L512.3,1390.2 L515.6,1387.8 L516.2,1426.7 L516.8,1382.3 L520.1,1381.4 L520.7,1382.8 L521.3,1380.7 L524.6,1380.8 L525.2,1390.2 L525.8,1382.9 L529.2,1385.4 L529.8,1394.2 L530.4,1392.1 L533.7,1392.1 L534.3,1393.0 L534.9,1386.9 L538.2,1380.2 L538.8,1390.6 L539.4,1387.5 L542.8,1387.8 L543.4,1388.4 L544.0,1390.0 L547.3,1391.6 L547.9,1393.0 L548.5,1386.1 L551.3,1391.4 L551.9,1464.8 L552.5,1383.2 L556.4,1388.7 L557.0,1395.0 L557.6,1389.6 L560.9,1388.3 L561.5,1390.1 L562.1,1390.1 L564.7,1388.8 L565.3,1460.3 L565.9,1381.2 L569.9,1390.1 L570.5,1392.2 L571.1,1386.8 L574.5,1392.7 L575.1,1434.3 L575.7,1392.0 L579.0,1384.9 L579.6,1413.4 L580.2,1380.8 L583.5,1391.3 L584.1,1428.8 L584.7,1380.9 L588.1,1394.0 L588.7,1409.2 L589.3,1380.6 L592.6,1388.8 L593.2,1397.4 L593.8,1391.7 L597.1,1391.6 L597.7,1391.9 L598.3,1385.4 L601.7,1391.7 L602.3,1393.9 L602.9,1386.4 L606.2,1392.6 L606.8,1438.6 L607.4,1392.8 L610.7,1385.7 L611.3,1387.7 L611.9,1392.5 L615.2,1392.3 L615.8,1395.6 L616.4,1387.6 L619.8,1390.7 L620.4,1390.7 L621.0,1384.4 L624.3,1386.1 L624.9,1387.8 L625.5,1389.4 L628.8,1384.0 L629.4,1385.8 L630.0,1390.1 L633.4,1386.0 L634.0,1389.3 L634.6,1382.6 L637.9,1394.2 L638.5,1418.5 L639.1,1385.7 L642.4,1382.1 L643.0,1384.6 L643.6,1393.8 L647.0,1389.2 L647.6,1427.4 L648.2,1394.7 L651.5,1383.3 L652.1,1385.3 L652.7,1387.1 L656.0,1389.0 L656.6,1390.8 L657.2,1388.8 L660.5,1387.7 L661.1,1407.2 L661.7,1388.6 L665.1,1391.1 L665.7,1423.3 L666.3,1384.3 L669.6,1383.1 L670.2,1383.5 L670.8,1384.0 L674.1,1385.7 L674.7,1425.9 L675.3,1394.8 L678.7,1392.7 L679.3,1431.1 L679.9,1381.6 L683.2,1386.2 L683.8,1386.5 L684.4,1387.4 L687.7,1396.0 L688.3,1396.0 L688.9,1391.1 L692.3,1391.0 L692.9,1401.1 L693.5,1393.9 L696.8,1383.6 L697.4,1387.9 L698.0,1382.8 L701.3,1382.6 L701.9,1400.0 L702.5,1387.8 L705.8,1389.7 L706.4,1417.2 L707.0,1389.8 L709.3,1389.6 L709.9,1462.5 L710.5,1387.2 L714.9,1384.4 L715.5,1394.4 L716.1,1396.5 L721.2,1426.1 L721.7,1423.8 L722.2,1421.5 L722.7,1419.2 L723.2,1416.9 L723.7,1414.6 L724.3,1412.3 L724.8,1410.0 L725.3,1407.7 L725.8,1405.4 L726.3,1403.1 L726.8,1400.8 L727.3,1398.5 L727.8,1396.2 L728.3,1393.9 L728.8,1391.6 L729.3,1389.3 L729.8,1387.0 L730.3,1384.7 L730.8,1382.4 L731.3,1380.1 L731.8,1377.8 L732.3,1375.5 L732.8,1373.2 L733.3,1370.9 L733.8,1368.6 L734.3,1366.3 L734.8,1364.0 L735.3,1361.7 L735.8,1359.4 L736.3,1357.1 L736.8,1354.8 L737.3,1352.5 L737.8,1350.2 L738.4,1347.9 L738.9,1345.6 L739.4,1343.3 L739.9,1341.0 L740.5,1338.7 L741.0,1336.4 L741.5,1334.1 L742.1,1331.8 L742.6,1329.5 L743.2,1327.3 L743.7,1325.0 L744.3,1322.7 L744.8,1320.4 L745.4,1318.1 L746.0,1315.8 L746.5,1313.5 L747.1,1311.2 L747.7,1309.0 L748.3,1306.7 L748.9,1304.4 L749.5,1302.1 L750.1,1299.9 L750.7,1297.6 L751.3,1295.3 L751.9,1293.0 L752.5,1290.8 L753.2,1288.5 L753.8,1286.2 L754.5,1284.0 L755.1,1281.7 L755.8,1279.4 L756.4,1277.2 L757.1,1274.9 L757.8,1272.7 L758.5,1270.4 L759.2,1268.2 L759.9,1265.9 L760.6,1263.7 L761.3,1261.4 L762.1,1259.2 L762.8,1257.0 L763.6,1254.7 L764.3,1252.5 L765.1,1250.3 L765.9,1248.0 L766.7,1245.8 L767.4,1243.6 L768.3,1241.4 L769.1,1239.2 L769.9,1237.0 L770.7,1234.8 L771.6,1232.6 L772.4,1230.4 L773.3,1228.2 L774.2,1226.0 L775.1,1223.8 L776.0,1221.7 L776.9,1219.5 L777.8,1217.3 L778.7,1215.2 L779.7,1213.0 L780.6,1210.8 L781.6,1208.7 L782.6,1206.6 L783.6,1204.4 L784.6,1202.3 L785.6,1200.2 L786.6,1198.0 L787.7,1195.9 L788.7,1193.8 L789.8,1191.7 L790.9,1189.6 L792.0,1187.5 L793.1,1185.5 L794.2,1183.4 L795.3,1181.3 L796.5,1179.3 L797.6,1177.2 L798.8,1175.2 L800.0,1173.2 L801.2,1171.1 L802.4,1169.1 L803.6,1167.1 L804.9,1165.1 L806.1,1163.1 L807.4,1161.1 L808.7,1159.1 L810.0,1157.2 L811.3,1155.2 L812.6,1153.3 L814.0,1151.4 L815.3,1149.4 L816.7,1147.5 L818.1,1145.6 L819.6,1143.8 L821.0,1141.9 L822.5,1140.1 L823.9,1138.2 L825.4,1136.4 L827.0,1134.6 L828.5,1132.8 L830.1,1131.1 L831.7,1129.3 L833.3,1127.6 L834.9,1125.9 L836.5,1124.2 L838.2,1122.6 L839.9,1120.9 L841.6,1119.3 L843.4,1117.8 L845.1,1116.2 L846.9,1114.7 L848.7,1113.2 L850.6,1111.7 L852.4,1110.2 L854.3,1108.8 L856.2,1107.4 L858.1,1106.0 L860.0,1104.7 L862.0,1103.3 L863.9,1102.0 L865.9,1100.7 L867.9,1099.5 L869.9,1098.2 L871.9,1097.0 L873.9,1095.8 L876.0,1094.6 L878.0,1093.4 L880.1,1092.3 L882.1,1091.2 L884.2,1090.1 L886.3,1089.0 L888.4,1087.9 L890.5,1086.8 L892.6,1085.8 L894.7,1084.7 L896.8,1083.7 L899.0,1082.7 L901.1,1081.7 L903.2,1080.7 L905.4,1079.8 L907.5,1078.8 L909.7,1077.9 L911.9,1076.9 L914.0,1076.0 L916.2,1075.1 L918.4,1074.2 L920.6,1073.3 L922.8,1072.5 L924.9,1071.6 L927.1,1070.8 L929.3,1069.9 L931.6,1069.1 L933.8,1068.3 L936.0,1067.5 L938.2,1066.7 L940.4,1065.9 L942.7,1065.2 L944.9,1064.4 L947.1,1063.7 L949.4,1062.9 L951.6,1062.2 L953.8,1061.5 L956.1,1060.8 L958.3,1060.1 L960.6,1059.4 L962.9,1058.7 L965.1,1058.1 L967.4,1057.4 L969.6,1056.8 L971.9,1056.2 L974.2,1055.5 L976.5,1054.9 L978.7,1054.3 L981.0,1053.7 L983.3,1053.1 L985.6,1052.5 L987.9,1052.0 L990.1,1051.4 L992.4,1050.8 L994.7,1050.3 L997.0,1049.7 L999.3,1049.2 L1001.6,1048.7 L1003.9,1048.2 L1006.2,1047.7" fill="none" stroke="#5C5F9E" stroke-width="6" stroke-linecap="round" stroke-linejoin="round" />
<path d="M366.1,1378.6 L366.7,1398.5 L367.3,1376.0 L370.6,1380.3 L371.2,1393.8 L371.8,1389.9 L374.5,1380.7 L375.1,1439.0 L375.7,1381.7 L379.7,1382.9 L380.3,1405.0 L380.9,1388.9 L384.2,1385.6 L384.8,1398.1 L385.4,1378.0 L388.7,1377.9 L389.3,1378.2 L389.9,1375.8 L393.3,1388.8 L393.9,1421.2 L394.5,1381.0 L397.8,1385.5 L398.4,1387.7 L399.0,1381.7 L402.3,1382.0 L402.9,1382.5 L403.5,1386.5 L406.9,1386.6 L407.5,1389.0 L408.1,1389.6 L411.4,1390.8 L412.0,1412.1 L412.6,1387.9 L415.9,1387.5 L416.5,1388.5 L417.1,1385.5 L420.5,1380.2 L421.1,1424.4 L421.7,1388.4 L425.0,1388.5 L425.6,1390.3 L426.2,1378.1 L430.0,1377.0 L430.6,1459.0 L431.2,1387.4 L434.0,1381.4 L434.6,1381.8 L435.2,1377.3 L438.6,1380.7 L439.2,1391.5 L439.8,1387.3 L443.1,1381.5 L443.7,1389.7 L444.3,1384.9 L447.6,1376.8 L448.2,1412.8 L448.8,1376.9 L451.2,1391.7 L451.8,1459.0 L452.4,1388.8 L456.7,1386.9 L457.3,1387.9 L457.9,1387.8 L461.2,1383.6 L461.8,1384.7 L462.4,1388.6 L465.8,1390.5 L466.4,1393.2 L467.0,1377.2 L470.3,1379.6 L470.9,1383.0 L471.5,1388.4 L474.8,1391.9 L475.4,1393.2 L476.0,1390.5 L479.3,1392.1 L479.9,1394.2 L480.5,1385.8 L483.9,1378.1 L484.5,1380.7 L485.1,1389.3 L488.4,1386.8 L489.0,1388.0 L489.6,1378.0 L493.5,1380.5 L494.1,1458.0 L494.7,1380.7 L497.5,1378.7 L498.1,1383.2 L498.7,1391.4 L502.0,1381.2 L502.6,1436.2 L503.2,1385.4 L506.5,1380.1 L507.1,1381.5 L507.7,1384.8 L511.1,1381.1 L511.7,1381.5 L512.3,1382.3 L515.6,1378.3 L516.2,1380.3 L516.8,1391.6 L520.1,1385.2 L520.7,1386.5 L521.3,1392.4 L524.6,1384.7 L525.2,1396.6 L525.8,1386.1 L529.2,1379.3 L529.8,1401.3 L530.4,1391.1 L534.7,1384.6 L535.3,1514.8 L535.9,1382.8 L538.2,1385.2 L538.8,1385.8 L539.4,1387.4 L542.8,1385.3 L543.4,1387.4 L544.0,1386.5 L547.3,1388.0 L547.9,1439.8 L548.5,1388.7 L551.8,1391.3 L552.4,1412.2 L553.0,1387.2 L556.4,1382.8 L557.0,1422.1 L557.6,1381.7 L560.9,1384.1 L561.5,1387.0 L562.1,1385.3 L565.4,1387.6 L566.0,1389.4 L566.6,1385.2 L569.9,1393.7 L570.5,1394.7 L571.1,1392.0 L574.5,1382.4 L575.1,1382.8 L575.7,1381.0 L579.0,1388.9 L579.6,1395.5 L580.2,1384.1 L583.5,1383.8 L584.1,1407.9 L584.7,1381.9 L588.1,1387.7 L588.7,1388.5 L589.3,1383.7 L592.6,1384.5 L593.2,1400.9 L593.8,1388.7 L597.1,1394.5 L597.7,1440.2 L598.3,1388.2 L601.7,1381.0 L602.3,1383.4 L602.9,1391.1 L606.2,1381.3 L606.8,1382.5 L607.4,1388.5 L610.7,1392.6 L611.3,1396.7 L611.9,1382.4 L615.9,1391.8 L616.5,1501.5 L617.1,1386.2 L619.8,1381.8 L620.4,1412.4 L621.0,1385.6 L624.3,1386.5 L624.9,1388.6 L625.5,1388.6 L628.8,1394.7 L629.4,1395.6 L630.0,1387.2 L633.4,1383.2 L634.0,1413.9 L634.6,1384.1 L637.9,1383.4 L638.5,1383.6 L639.1,1389.0 L642.4,1384.2 L643.0,1385.8 L643.6,1388.0 L647.0,1389.2 L647.6,1391.0 L648.2,1386.6 L651.5,1392.1 L652.1,1439.8 L652.7,1385.9 L656.0,1390.0 L656.6,1399.1 L657.2,1394.5 L660.5,1391.0 L661.1,1399.5 L661.7,1382.8 L665.1,1391.3 L665.7,1392.6 L666.3,1386.4 L669.6,1385.3 L670.2,1385.8 L670.8,1389.1 L674.1,1390.0 L674.7,1391.6 L675.3,1383.7 L678.7,1384.3 L679.3,1385.1 L679.9,1381.9 L683.2,1389.9 L683.8,1391.3 L684.4,1391.3 L687.7,1390.9 L688.3,1402.7 L688.9,1389.7 L692.3,1387.5 L692.9,1395.4 L693.5,1391.9 L696.8,1381.9 L697.4,1384.4 L698.0,1384.4 L701.3,1393.2 L701.9,1415.9 L702.5,1392.0 L705.8,1390.8 L706.4,1391.5 L707.0,1395.4 L710.4,1396.4 L711.0,1397.2 L711.6,1383.1 L714.9,1383.4 L715.5,1435.0 L716.1,1390.5 L719.4,1428.4 L719.9,1426.1 L720.4,1423.8 L720.9,1421.4 L721.4,1419.1 L721.9,1416.8 L722.4,1414.5 L722.9,1412.2 L723.4,1409.9 L723.9,1407.5 L724.4,1405.2 L724.9,1402.9 L725.4,1400.6 L725.9,1398.2 L726.4,1395.9 L726.9,1393.6 L727.4,1391.3 L727.9,1389.0 L728.4,1386.6 L728.8,1384.3 L729.3,1382.0 L729.8,1379.7 L730.3,1377.4 L730.8,1375.0 L731.3,1372.7 L731.8,1370.4 L732.3,1368.1 L732.8,1365.8 L733.4,1363.4 L733.9,1361.1 L734.4,1358.8 L734.9,1356.5 L735.4,1354.2 L735.9,1351.9 L736.4,1349.5 L737.0,1347.2 L737.5,1344.9 L738.0,1342.6 L738.6,1340.3 L739.1,1338.0 L739.6,1335.7 L740.2,1333.4 L740.7,1331.1 L741.3,1328.8 L741.8,1326.4 L742.4,1324.1 L743.0,1321.8 L743.5,1319.5 L744.1,1317.2 L744.7,1314.9 L745.3,1312.6 L745.9,1310.3 L746.5,1308.0 L747.1,1305.7 L747.7,1303.4 L748.3,1301.2 L748.9,1298.9 L749.5,1296.6 L750.2,1294.3 L750.8,1292.0 L751.4,1289.7 L752.1,1287.4 L752.8,1285.2 L753.4,1282.9 L754.1,1280.6 L754.8,1278.3 L755.5,1276.1 L756.1,1273.8 L756.8,1271.5 L757.6,1269.3 L758.3,1267.0 L759.0,1264.7 L759.7,1262.5 L760.5,1260.2 L761.2,1258.0 L762.0,1255.7 L762.7,1253.5 L763.5,1251.2 L764.3,1249.0 L765.1,1246.8 L765.9,1244.5 L766.7,1242.3 L767.5,1240.1 L768.4,1237.9 L769.2,1235.6 L770.1,1233.4 L770.9,1231.2 L771.8,1229.0 L772.7,1226.8 L773.6,1224.6 L774.5,1222.4 L775.4,1220.2 L776.3,1218.0 L777.3,1215.9 L778.2,1213.7 L779.2,1211.5 L780.1,1209.3 L781.1,1207.2 L782.1,1205.0 L783.1,1202.9 L784.2,1200.7 L785.2,1198.6 L786.2,1196.5 L787.3,1194.3 L788.3,1192.2 L789.4,1190.1 L790.5,1188.0 L791.6,1185.9 L792.7,1183.8 L793.9,1181.7 L795.0,1179.7 L796.2,1177.6 L797.4,1175.5 L798.5,1173.5 L799.7,1171.4 L800.9,1169.4 L802.2,1167.3 L803.4,1165.3 L804.7,1163.3 L805.9,1161.3 L807.2,1159.3 L808.5,1157.3 L809.8,1155.3 L811.2,1153.4 L812.5,1151.4 L813.9,1149.5 L815.2,1147.6 L816.7,1145.6 L818.1,1143.7 L819.5,1141.9 L821.0,1140.0 L822.5,1138.1 L824.0,1136.3 L825.5,1134.5 L827.0,1132.7 L828.6,1130.9 L830.2,1129.1 L831.8,1127.4 L833.4,1125.7 L835.1,1124.0 L836.8,1122.3 L838.5,1120.7 L840.2,1119.0 L842.0,1117.4 L843.8,1115.9 L845.6,1114.3 L847.4,1112.8 L849.2,1111.3 L851.1,1109.9 L853.0,1108.4 L854.9,1107.0 L856.8,1105.6 L858.8,1104.3 L860.7,1102.9 L862.7,1101.6 L864.7,1100.3 L866.7,1099.1 L868.7,1097.8 L870.8,1096.6 L872.8,1095.4 L874.9,1094.2 L876.9,1093.0 L879.0,1091.9 L881.1,1090.8 L883.2,1089.7 L885.3,1088.6 L887.4,1087.5 L889.5,1086.4 L891.7,1085.4 L893.8,1084.3 L895.9,1083.3 L898.1,1082.3 L900.2,1081.3 L902.4,1080.4 L904.6,1079.4 L906.7,1078.4 L908.9,1077.5 L911.1,1076.6 L913.3,1075.6 L915.5,1074.7 L917.7,1073.8 L919.9,1073.0 L922.1,1072.1 L924.3,1071.2 L926.5,1070.4 L928.7,1069.6 L931.0,1068.7 L933.2,1067.9 L935.4,1067.1 L937.7,1066.3 L939.9,1065.6 L942.2,1064.8 L944.4,1064.0 L946.7,1063.3 L948.9,1062.6 L951.2,1061.8 L953.4,1061.1 L955.7,1060.4 L958.0,1059.7 L960.3,1059.0 L962.5,1058.4 L964.8,1057.7 L967.1,1057.0 L969.4,1056.4 L971.7,1055.7 L973.9,1055.1 L976.2,1054.5 L978.5,1053.9 L980.8,1053.3 L983.1,1052.7 L985.4,1052.1 L987.7,1051.5 L990.0,1050.9 L992.3,1050.4 L994.6,1049.8 L996.9,1049.3 L999.2,1048.7 L1001.6,1048.2 L1003.9,1047.7 L1006.2,1047.2" fill="none" stroke="#A0A0A0" stroke-width="6" stroke-linecap="round" stroke-linejoin="round" />
</g>
<rect x="274.70" y="938.90" width="822.90" height="664.60" fill="none" stroke="#000" stroke-width="7.0" stroke-linejoin="miter"/>
<line x1="261.90" y1="938.90" x2="271.70" y2="938.90" stroke="#000" stroke-width="7.0"/>
<line x1="261.90" y1="999.32" x2="271.70" y2="999.32" stroke="#000" stroke-width="7.0"/>
<line x1="261.90" y1="1059.74" x2="271.70" y2="1059.74" stroke="#000" stroke-width="7.0"/>
<line x1="261.90" y1="1120.15" x2="271.70" y2="1120.15" stroke="#000" stroke-width="7.0"/>
<line x1="261.90" y1="1180.57" x2="271.70" y2="1180.57" stroke="#000" stroke-width="7.0"/>
<line x1="261.90" y1="1240.99" x2="271.70" y2="1240.99" stroke="#000" stroke-width="7.0"/>
<line x1="261.90" y1="1301.41" x2="271.70" y2="1301.41" stroke="#000" stroke-width="7.0"/>
<line x1="261.90" y1="1361.83" x2="271.70" y2="1361.83" stroke="#000" stroke-width="7.0"/>
<line x1="261.90" y1="1422.25" x2="271.70" y2="1422.25" stroke="#000" stroke-width="7.0"/>
<line x1="261.90" y1="1482.66" x2="271.70" y2="1482.66" stroke="#000" stroke-width="7.0"/>
<line x1="261.90" y1="1543.08" x2="271.70" y2="1543.08" stroke="#000" stroke-width="7.0"/>
<line x1="261.90" y1="1603.50" x2="271.70" y2="1603.50" stroke="#000" stroke-width="7.0"/>
<line x1="366.13" y1="1606.50" x2="366.13" y2="1616.30" stroke="#000" stroke-width="7.0"/>
<line x1="549.00" y1="1606.50" x2="549.00" y2="1616.30" stroke="#000" stroke-width="7.0"/>
<line x1="731.87" y1="1606.50" x2="731.87" y2="1616.30" stroke="#000" stroke-width="7.0"/>
<line x1="914.73" y1="1606.50" x2="914.73" y2="1616.30" stroke="#000" stroke-width="7.0"/>
<line x1="1097.60" y1="1606.50" x2="1097.60" y2="1616.30" stroke="#000" stroke-width="7.0"/>
<g transform="translate(172.99,1017.22) scale(1,1.041)" fill="#000" ><text x="0.00" y="0.00" font-size="45.8">10</text><text x="51.44" y="-20.00" font-size="30.5">-5</text></g>
<g transform="translate(172.99,1138.05) scale(1,1.041)" fill="#000" ><text x="0.00" y="0.00" font-size="45.8">10</text><text x="51.44" y="-20.00" font-size="30.5">-7</text></g>
<g transform="translate(172.99,1258.89) scale(1,1.041)" fill="#000" ><text x="0.00" y="0.00" font-size="45.8">10</text><text x="51.44" y="-20.00" font-size="30.5">-9</text></g>
<g transform="translate(156.02,1379.73) scale(1,1.041)" fill="#000" ><text x="0.00" y="0.00" font-size="45.8">10</text><text x="51.44" y="-20.00" font-size="30.5">-11</text></g>
<g transform="translate(156.02,1500.56) scale(1,1.041)" fill="#000" ><text x="0.00" y="0.00" font-size="45.8">10</text><text x="51.44" y="-20.00" font-size="30.5">-13</text></g>
<g transform="translate(156.02,1621.40) scale(1,1.041)" fill="#000" ><text x="0.00" y="0.00" font-size="45.8">10</text><text x="51.44" y="-20.00" font-size="30.5">-15</text></g>
<g transform="translate(345.00,1662.30) scale(1,1.041)" fill="#000" ><text x="0.00" y="0.00" font-size="45.8">-4</text></g>
<g transform="translate(528.66,1662.30) scale(1,1.041)" fill="#000" ><text x="0.00" y="0.00" font-size="45.8">-2</text></g>
<g transform="translate(719.16,1662.30) scale(1,1.041)" fill="#000" ><text x="0.00" y="0.00" font-size="45.8">0</text></g>
<g transform="translate(902.12,1662.30) scale(1,1.041)" fill="#000" ><text x="0.00" y="0.00" font-size="45.8">2</text></g>
<g transform="translate(1084.64,1662.30) scale(1,1.041)" fill="#000" ><text x="0.00" y="0.00" font-size="45.8">4</text></g>
<g transform="translate(597.36,1723.50) scale(1,0.93)" fill="#000" ><text x="0.00" y="0.00" font-size="65">V</text><text x="44.35" y="0.00" font-size="36.400000000000006">G</text><text x="72.67" y="0.00" font-size="65"> (V)</text></g>
<g transform="translate(145.60,1373.15) rotate(-90) scale(1,1.0)" fill="#000" ><text x="0.00" y="0.00" font-size="65">I</text><text x="18.56" y="0.00" font-size="36.400000000000006">D</text><text x="44.85" y="0.00" font-size="65"> (A)</text></g>
<g transform="translate(284.19,981.20) scale(1,1.041)" fill="#FF0000" ><text x="0.00" y="0.00" font-size="37.4">ZnO transistor</text></g>
<g transform="translate(282.80,1028.70) scale(1,1.041)" fill="#000" ><text x="0.00" y="0.00" font-size="37.4">NBIS : -1 V, 10000 Lux</text></g>
<g transform="translate(285.04,1074.80) scale(1,1.041)" fill="#000" ><text x="0.00" y="0.00" font-size="37.4">V</text><text x="24.65" y="0.00" font-size="22.066">D</text><text x="40.58" y="0.00" font-size="37.4"> = 0.1 V</text></g>
<line x1="804.4" y1="1310.0" x2="887.5" y2="1310.0" stroke="#FF0000" stroke-width="6.2" stroke-linecap="round"/>
<g transform="translate(898.84,1323.20) scale(1,1.041)" fill="#000" ><text x="0.00" y="0.00" font-size="37.4">t = 0 s</text></g>
<line x1="804.4" y1="1357.8" x2="887.5" y2="1357.8" stroke="#0A5A9C" stroke-width="6.2" stroke-linecap="round"/>
<g transform="translate(898.84,1371.00) scale(1,1.041)" fill="#000" ><text x="0.00" y="0.00" font-size="37.4">t = 200 s</text></g>
<line x1="804.4" y1="1404.4" x2="887.5" y2="1404.4" stroke="#FFC000" stroke-width="6.2" stroke-linecap="round"/>
<g transform="translate(898.84,1417.60) scale(1,1.041)" fill="#000" ><text x="0.00" y="0.00" font-size="37.4">t = 400 s</text></g>
<line x1="804.4" y1="1452.2" x2="887.5" y2="1452.2" stroke="#00C46A" stroke-width="6.2" stroke-linecap="round"/>
<g transform="translate(898.84,1465.40) scale(1,1.041)" fill="#000" ><text x="0.00" y="0.00" font-size="37.4">t = 600 s</text></g>
<line x1="804.4" y1="1499.8" x2="887.5" y2="1499.8" stroke="#5C5F9E" stroke-width="6.2" stroke-linecap="round"/>
<g transform="translate(898.84,1513.00) scale(1,1.041)" fill="#000" ><text x="0.00" y="0.00" font-size="37.4">t = 800 s</text></g>
<line x1="804.4" y1="1546.1" x2="887.5" y2="1546.1" stroke="#A0A0A0" stroke-width="6.2" stroke-linecap="round"/>
<g transform="translate(898.84,1559.30) scale(1,1.041)" fill="#000" ><text x="0.00" y="0.00" font-size="37.4">t = 1000 s</text></g>
<g transform="translate(34.68,938.60) scale(1,1.0)" fill="#000" ><text x="0.00" y="0.00" font-size="82.8">(c)</text></g>
<defs>
<radialGradient id="gred" cx="0.35" cy="0.37" r="0.55" fx="0.35" fy="0.37"><stop offset="0" stop-color="#fff"/><stop offset="0.13" stop-color="#fff"/><stop offset="0.22" stop-color="#FF9E9E"/><stop offset="0.38" stop-color="#FF7373"/><stop offset="0.52" stop-color="#FF0000"/><stop offset="1" stop-color="#FF0000"/></radialGradient>
<radialGradient id="gblue" cx="0.35" cy="0.37" r="0.55" fx="0.35" fy="0.37"><stop offset="0" stop-color="#fff"/><stop offset="0.13" stop-color="#fff"/><stop offset="0.22" stop-color="#A2C2DA"/><stop offset="0.38" stop-color="#78A6CA"/><stop offset="0.52" stop-color="#0A5E9E"/><stop offset="1" stop-color="#0A5E9E"/></radialGradient>
<radialGradient id="gyellow" cx="0.35" cy="0.37" r="0.55" fx="0.35" fy="0.37"><stop offset="0" stop-color="#fff"/><stop offset="0.13" stop-color="#fff"/><stop offset="0.22" stop-color="#FFEA9E"/><stop offset="0.38" stop-color="#FFE173"/><stop offset="0.52" stop-color="#FFC800"/><stop offset="1" stop-color="#FFC800"/></radialGradient>
</defs>
<path d="M1448.1,1084.4 L1583.6,1219.0 L1719.1,1286.5 L1854.5,1293.8 L1990.0,1293.8 L2125.5,1305.6" fill="none" stroke="#FF8080" stroke-width="6.0" stroke-linecap="round" stroke-linejoin="round" />
<circle cx="1583.6" cy="1219.0" r="13.3" fill="url(#gred)"/>
<circle cx="1719.1" cy="1286.5" r="13.3" fill="url(#gred)"/>
<circle cx="1854.5" cy="1293.8" r="13.3" fill="url(#gred)"/>
<circle cx="1990.0" cy="1293.8" r="13.3" fill="url(#gred)"/>
<circle cx="2125.5" cy="1305.6" r="13.3" fill="url(#gred)"/>
<path d="M1448.1,1084.4 L1583.6,1424.9 L1719.1,1478.2 L1854.5,1491.3 L1990.0,1518.8 L2125.5,1556.5" fill="none" stroke="#78B0DE" stroke-width="6.0" stroke-linecap="round" stroke-linejoin="round" />
<circle cx="1583.6" cy="1424.9" r="13.3" fill="url(#gblue)"/>
<circle cx="1719.1" cy="1478.2" r="13.3" fill="url(#gblue)"/>
<circle cx="1854.5" cy="1491.3" r="13.3" fill="url(#gblue)"/>
<circle cx="1990.0" cy="1518.8" r="13.3" fill="url(#gblue)"/>
<circle cx="2125.5" cy="1556.5" r="13.3" fill="url(#gblue)"/>
<path d="M1448.1,1084.4 L1583.6,1264.2 L1719.1,1314.1 L1854.5,1354.5 L1990.0,1354.5 L2125.5,1367.5" fill="none" stroke="#FFE07A" stroke-width="6.0" stroke-linecap="round" stroke-linejoin="round" />
<circle cx="1448.1" cy="1084.4" r="13.3" fill="url(#gyellow)"/>
<circle cx="1583.6" cy="1264.2" r="13.3" fill="url(#gyellow)"/>
<circle cx="1719.1" cy="1314.1" r="13.3" fill="url(#gyellow)"/>
<circle cx="1854.5" cy="1354.5" r="13.3" fill="url(#gyellow)"/>
<circle cx="1990.0" cy="1354.5" r="13.3" fill="url(#gyellow)"/>
<circle cx="2125.5" cy="1367.5" r="13.3" fill="url(#gyellow)"/>
<path d="M1448.1,1084.4 L1450.4,1088.2 L1452.7,1091.9 L1454.9,1095.6 L1457.2,1099.1 L1459.5,1102.6 L1461.7,1106.1 L1464.0,1109.5 L1466.3,1112.8 L1468.5,1116.1 L1470.8,1119.4 L1473.1,1122.5 L1475.3,1125.6 L1477.6,1128.7 L1479.8,1131.7 L1482.1,1134.7 L1484.4,1137.6 L1486.6,1140.4 L1488.9,1143.3 L1491.2,1146.0 L1493.4,1148.7 L1495.7,1151.4 L1498.0,1154.0 L1500.2,1156.6 L1502.5,1159.1 L1504.8,1161.6 L1507.0,1164.1 L1509.3,1166.5 L1511.6,1168.9 L1513.8,1171.2 L1516.1,1173.5 L1518.4,1175.7 L1520.6,1177.9 L1522.9,1180.1 L1525.2,1182.2 L1527.4,1184.3 L1529.7,1186.4 L1532.0,1188.4 L1534.2,1190.4 L1536.5,1192.4 L1538.7,1194.3 L1541.0,1196.2 L1543.3,1198.0 L1545.5,1199.9 L1547.8,1201.7 L1550.1,1203.4 L1552.3,1205.2 L1554.6,1206.9 L1556.9,1208.5 L1559.1,1210.2 L1561.4,1211.8 L1563.7,1213.4 L1565.9,1215.0 L1568.2,1216.5 L1570.5,1218.0 L1572.7,1219.5 L1575.0,1221.0 L1577.3,1222.4 L1579.5,1223.8 L1581.8,1225.2 L1584.1,1226.6 L1586.3,1227.9 L1588.6,1229.2 L1590.8,1230.5 L1593.1,1231.8 L1595.4,1233.0 L1597.6,1234.3 L1599.9,1235.5 L1602.2,1236.6 L1604.4,1237.8 L1606.7,1239.0 L1609.0,1240.1 L1611.2,1241.2 L1613.5,1242.3 L1615.8,1243.4 L1618.0,1244.4 L1620.3,1245.4 L1622.6,1246.5 L1624.8,1247.5 L1627.1,1248.4 L1629.4,1249.4 L1631.6,1250.4 L1633.9,1251.3 L1636.2,1252.2 L1638.4,1253.1 L1640.7,1254.0 L1643.0,1254.9 L1645.2,1255.7 L1647.5,1256.6 L1649.7,1257.4 L1652.0,1258.2 L1654.3,1259.0 L1656.5,1259.8 L1658.8,1260.6 L1661.1,1261.3 L1663.3,1262.1 L1665.6,1262.8 L1667.9,1263.5 L1670.1,1264.2 L1672.4,1264.9 L1674.7,1265.6 L1676.9,1266.3 L1679.2,1266.9 L1681.5,1267.6 L1683.7,1268.2 L1686.0,1268.8 L1688.3,1269.5 L1690.5,1270.1 L1692.8,1270.7 L1695.1,1271.2 L1697.3,1271.8 L1699.6,1272.4 L1701.9,1272.9 L1704.1,1273.5 L1706.4,1274.0 L1708.6,1274.6 L1710.9,1275.1 L1713.2,1275.6 L1715.4,1276.1 L1717.7,1276.6 L1720.0,1277.1 L1722.2,1277.5 L1724.5,1278.0 L1726.8,1278.5 L1729.0,1278.9 L1731.3,1279.4 L1733.6,1279.8 L1735.8,1280.2 L1738.1,1280.7 L1740.4,1281.1 L1742.6,1281.5 L1744.9,1281.9 L1747.2,1282.3 L1749.4,1282.7 L1751.7,1283.0 L1754.0,1283.4 L1756.2,1283.8 L1758.5,1284.1 L1760.7,1284.5 L1763.0,1284.8 L1765.3,1285.2 L1767.5,1285.5 L1769.8,1285.9 L1772.1,1286.2 L1774.3,1286.5 L1776.6,1286.8 L1778.9,1287.1 L1781.1,1287.4 L1783.4,1287.7 L1785.7,1288.0 L1787.9,1288.3 L1790.2,1288.6 L1792.5,1288.9 L1794.7,1289.2 L1797.0,1289.4 L1799.3,1289.7 L1801.5,1289.9 L1803.8,1290.2 L1806.1,1290.5 L1808.3,1290.7 L1810.6,1290.9 L1812.9,1291.2 L1815.1,1291.4 L1817.4,1291.6 L1819.6,1291.9 L1821.9,1292.1 L1824.2,1292.3 L1826.4,1292.5 L1828.7,1292.7 L1831.0,1293.0 L1833.2,1293.2 L1835.5,1293.4 L1837.8,1293.6 L1840.0,1293.8 L1842.3,1293.9 L1844.6,1294.1 L1846.8,1294.3 L1849.1,1294.5 L1851.4,1294.7 L1853.6,1294.8 L1855.9,1295.0 L1858.2,1295.2 L1860.4,1295.4 L1862.7,1295.5 L1865.0,1295.7 L1867.2,1295.8 L1869.5,1296.0 L1871.7,1296.1 L1874.0,1296.3 L1876.3,1296.4 L1878.5,1296.6 L1880.8,1296.7 L1883.1,1296.9 L1885.3,1297.0 L1887.6,1297.1 L1889.9,1297.3 L1892.1,1297.4 L1894.4,1297.5 L1896.7,1297.7 L1898.9,1297.8 L1901.2,1297.9 L1903.5,1298.0 L1905.7,1298.1 L1908.0,1298.3 L1910.3,1298.4 L1912.5,1298.5 L1914.8,1298.6 L1917.1,1298.7 L1919.3,1298.8 L1921.6,1298.9 L1923.9,1299.0 L1926.1,1299.1 L1928.4,1299.2 L1930.6,1299.3 L1932.9,1299.4 L1935.2,1299.5 L1937.4,1299.6 L1939.7,1299.7 L1942.0,1299.8 L1944.2,1299.9 L1946.5,1300.0 L1948.8,1300.0 L1951.0,1300.1 L1953.3,1300.2 L1955.6,1300.3 L1957.8,1300.4 L1960.1,1300.4 L1962.4,1300.5 L1964.6,1300.6 L1966.9,1300.7 L1969.2,1300.7 L1971.4,1300.8 L1973.7,1300.9 L1976.0,1301.0 L1978.2,1301.0 L1980.5,1301.1 L1982.8,1301.2 L1985.0,1301.2 L1987.3,1301.3 L1989.5,1301.3 L1991.8,1301.4 L1994.1,1301.5 L1996.3,1301.5 L1998.6,1301.6 L2000.9,1301.6 L2003.1,1301.7 L2005.4,1301.7 L2007.7,1301.8 L2009.9,1301.9 L2012.2,1301.9 L2014.5,1302.0 L2016.7,1302.0 L2019.0,1302.1 L2021.3,1302.1 L2023.5,1302.2 L2025.8,1302.2 L2028.1,1302.3 L2030.3,1302.3 L2032.6,1302.3 L2034.9,1302.4 L2037.1,1302.4 L2039.4,1302.5 L2041.6,1302.5 L2043.9,1302.6 L2046.2,1302.6 L2048.4,1302.6 L2050.7,1302.7 L2053.0,1302.7 L2055.2,1302.8 L2057.5,1302.8 L2059.8,1302.8 L2062.0,1302.9 L2064.3,1302.9 L2066.6,1302.9 L2068.8,1303.0 L2071.1,1303.0 L2073.4,1303.0 L2075.6,1303.1 L2077.9,1303.1 L2080.2,1303.1 L2082.4,1303.2 L2084.7,1303.2 L2087.0,1303.2 L2089.2,1303.2 L2091.5,1303.3 L2093.8,1303.3 L2096.0,1303.3 L2098.3,1303.4 L2100.5,1303.4 L2102.8,1303.4 L2105.1,1303.4 L2107.3,1303.5 L2109.6,1303.5 L2111.9,1303.5 L2114.1,1303.5 L2116.4,1303.6 L2118.7,1303.6 L2120.9,1303.6 L2123.2,1303.6 L2125.5,1303.7" fill="none" stroke="#FFB4BA" stroke-width="5.8" stroke-linecap="round" stroke-dasharray="10.5 19"/>
<path d="M1448.1,1084.4 L1450.4,1094.5 L1452.7,1104.3 L1454.9,1113.9 L1457.2,1123.3 L1459.5,1132.5 L1461.7,1141.5 L1464.0,1150.2 L1466.3,1158.8 L1468.5,1167.1 L1470.8,1175.3 L1473.1,1183.3 L1475.3,1191.1 L1477.6,1198.7 L1479.8,1206.1 L1482.1,1213.4 L1484.4,1220.5 L1486.6,1227.4 L1488.9,1234.2 L1491.2,1240.8 L1493.4,1247.3 L1495.7,1253.6 L1498.0,1259.8 L1500.2,1265.8 L1502.5,1271.7 L1504.8,1277.5 L1507.0,1283.1 L1509.3,1288.6 L1511.6,1294.0 L1513.8,1299.3 L1516.1,1304.4 L1518.4,1309.4 L1520.6,1314.3 L1522.9,1319.1 L1525.2,1323.8 L1527.4,1328.3 L1529.7,1332.8 L1532.0,1337.2 L1534.2,1341.4 L1536.5,1345.6 L1538.7,1349.7 L1541.0,1353.6 L1543.3,1357.5 L1545.5,1361.3 L1547.8,1365.0 L1550.1,1368.6 L1552.3,1372.2 L1554.6,1375.6 L1556.9,1379.0 L1559.1,1382.3 L1561.4,1385.5 L1563.7,1388.7 L1565.9,1391.8 L1568.2,1394.8 L1570.5,1397.7 L1572.7,1400.6 L1575.0,1403.4 L1577.3,1406.1 L1579.5,1408.8 L1581.8,1411.4 L1584.1,1414.0 L1586.3,1416.5 L1588.6,1418.9 L1590.8,1421.3 L1593.1,1423.6 L1595.4,1425.9 L1597.6,1428.1 L1599.9,1430.3 L1602.2,1432.4 L1604.4,1434.5 L1606.7,1436.5 L1609.0,1438.5 L1611.2,1440.4 L1613.5,1442.3 L1615.8,1444.2 L1618.0,1446.0 L1620.3,1447.8 L1622.6,1449.5 L1624.8,1451.2 L1627.1,1452.8 L1629.4,1454.4 L1631.6,1456.0 L1633.9,1457.5 L1636.2,1459.0 L1638.4,1460.5 L1640.7,1461.9 L1643.0,1463.3 L1645.2,1464.7 L1647.5,1466.0 L1649.7,1467.3 L1652.0,1468.6 L1654.3,1469.8 L1656.5,1471.0 L1658.8,1472.2 L1661.1,1473.4 L1663.3,1474.5 L1665.6,1475.6 L1667.9,1476.7 L1670.1,1477.8 L1672.4,1478.8 L1674.7,1479.8 L1676.9,1480.8 L1679.2,1481.8 L1681.5,1482.7 L1683.7,1483.6 L1686.0,1484.5 L1688.3,1485.4 L1690.5,1486.3 L1692.8,1487.1 L1695.1,1487.9 L1697.3,1488.7 L1699.6,1489.5 L1701.9,1490.3 L1704.1,1491.0 L1706.4,1491.7 L1708.6,1492.5 L1710.9,1493.2 L1713.2,1493.8 L1715.4,1494.5 L1717.7,1495.1 L1720.0,1495.8 L1722.2,1496.4 L1724.5,1497.0 L1726.8,1497.6 L1729.0,1498.2 L1731.3,1498.7 L1733.6,1499.3 L1735.8,1499.8 L1738.1,1500.4 L1740.4,1500.9 L1742.6,1501.4 L1744.9,1501.9 L1747.2,1502.3 L1749.4,1502.8 L1751.7,1503.3 L1754.0,1503.7 L1756.2,1504.2 L1758.5,1504.6 L1760.7,1505.0 L1763.0,1505.4 L1765.3,1505.8 L1767.5,1506.2 L1769.8,1506.6 L1772.1,1507.0 L1774.3,1507.3 L1776.6,1507.7 L1778.9,1508.0 L1781.1,1508.4 L1783.4,1508.7 L1785.7,1509.0 L1787.9,1509.3 L1790.2,1509.6 L1792.5,1509.9 L1794.7,1510.2 L1797.0,1510.5 L1799.3,1510.8 L1801.5,1511.1 L1803.8,1511.3 L1806.1,1511.6 L1808.3,1511.9 L1810.6,1512.1 L1812.9,1512.4 L1815.1,1512.6 L1817.4,1512.8 L1819.6,1513.1 L1821.9,1513.3 L1824.2,1513.5 L1826.4,1513.7 L1828.7,1513.9 L1831.0,1514.1 L1833.2,1514.3 L1835.5,1514.5 L1837.8,1514.7 L1840.0,1514.9 L1842.3,1515.1 L1844.6,1515.3 L1846.8,1515.4 L1849.1,1515.6 L1851.4,1515.8 L1853.6,1515.9 L1855.9,1516.1 L1858.2,1516.2 L1860.4,1516.4 L1862.7,1516.5 L1865.0,1516.7 L1867.2,1516.8 L1869.5,1517.0 L1871.7,1517.1 L1874.0,1517.2 L1876.3,1517.3 L1878.5,1517.5 L1880.8,1517.6 L1883.1,1517.7 L1885.3,1517.8 L1887.6,1517.9 L1889.9,1518.1 L1892.1,1518.2 L1894.4,1518.3 L1896.7,1518.4 L1898.9,1518.5 L1901.2,1518.6 L1903.5,1518.7 L1905.7,1518.8 L1908.0,1518.9 L1910.3,1518.9 L1912.5,1519.0 L1914.8,1519.1 L1917.1,1519.2 L1919.3,1519.3 L1921.6,1519.4 L1923.9,1519.4 L1926.1,1519.5 L1928.4,1519.6 L1930.6,1519.7 L1932.9,1519.7 L1935.2,1519.8 L1937.4,1519.9 L1939.7,1519.9 L1942.0,1520.0 L1944.2,1520.1 L1946.5,1520.1 L1948.8,1520.2 L1951.0,1520.3 L1953.3,1520.3 L1955.6,1520.4 L1957.8,1520.4 L1960.1,1520.5 L1962.4,1520.5 L1964.6,1520.6 L1966.9,1520.6 L1969.2,1520.7 L1971.4,1520.7 L1973.7,1520.8 L1976.0,1520.8 L1978.2,1520.9 L1980.5,1520.9 L1982.8,1521.0 L1985.0,1521.0 L1987.3,1521.0 L1989.5,1521.1 L1991.8,1521.1 L1994.1,1521.2 L1996.3,1521.2 L1998.6,1521.2 L2000.9,1521.3 L2003.1,1521.3 L2005.4,1521.3 L2007.7,1521.4 L2009.9,1521.4 L2012.2,1521.4 L2014.5,1521.5 L2016.7,1521.5 L2019.0,1521.5 L2021.3,1521.6 L2023.5,1521.6 L2025.8,1521.6 L2028.1,1521.6 L2030.3,1521.7 L2032.6,1521.7 L2034.9,1521.7 L2037.1,1521.7 L2039.4,1521.8 L2041.6,1521.8 L2043.9,1521.8 L2046.2,1521.8 L2048.4,1521.9 L2050.7,1521.9 L2053.0,1521.9 L2055.2,1521.9 L2057.5,1521.9 L2059.8,1522.0 L2062.0,1522.0 L2064.3,1522.0 L2066.6,1522.0 L2068.8,1522.0 L2071.1,1522.0 L2073.4,1522.1 L2075.6,1522.1 L2077.9,1522.1 L2080.2,1522.1 L2082.4,1522.1 L2084.7,1522.1 L2087.0,1522.2 L2089.2,1522.2 L2091.5,1522.2 L2093.8,1522.2 L2096.0,1522.2 L2098.3,1522.2 L2100.5,1522.2 L2102.8,1522.2 L2105.1,1522.3 L2107.3,1522.3 L2109.6,1522.3 L2111.9,1522.3 L2114.1,1522.3 L2116.4,1522.3 L2118.7,1522.3 L2120.9,1522.3 L2123.2,1522.3 L2125.5,1522.4" fill="none" stroke="#B8D3F0" stroke-width="5.8" stroke-linecap="round" stroke-dasharray="10.5 19"/>
<path d="M1448.1,1084.4 L1450.4,1089.1 L1452.7,1093.7 L1454.9,1098.2 L1457.2,1102.6 L1459.5,1107.0 L1461.7,1111.3 L1464.0,1115.5 L1466.3,1119.6 L1468.5,1123.7 L1470.8,1127.7 L1473.1,1131.6 L1475.3,1135.5 L1477.6,1139.3 L1479.8,1143.1 L1482.1,1146.7 L1484.4,1150.4 L1486.6,1153.9 L1488.9,1157.4 L1491.2,1160.9 L1493.4,1164.3 L1495.7,1167.6 L1498.0,1170.9 L1500.2,1174.1 L1502.5,1177.3 L1504.8,1180.4 L1507.0,1183.5 L1509.3,1186.5 L1511.6,1189.4 L1513.8,1192.4 L1516.1,1195.2 L1518.4,1198.1 L1520.6,1200.8 L1522.9,1203.6 L1525.2,1206.2 L1527.4,1208.9 L1529.7,1211.5 L1532.0,1214.0 L1534.2,1216.5 L1536.5,1219.0 L1538.7,1221.4 L1541.0,1223.8 L1543.3,1226.2 L1545.5,1228.5 L1547.8,1230.7 L1550.1,1233.0 L1552.3,1235.2 L1554.6,1237.3 L1556.9,1239.4 L1559.1,1241.5 L1561.4,1243.6 L1563.7,1245.6 L1565.9,1247.6 L1568.2,1249.5 L1570.5,1251.5 L1572.7,1253.3 L1575.0,1255.2 L1577.3,1257.0 L1579.5,1258.8 L1581.8,1260.6 L1584.1,1262.3 L1586.3,1264.0 L1588.6,1265.7 L1590.8,1267.4 L1593.1,1269.0 L1595.4,1270.6 L1597.6,1272.1 L1599.9,1273.7 L1602.2,1275.2 L1604.4,1276.7 L1606.7,1278.2 L1609.0,1279.6 L1611.2,1281.0 L1613.5,1282.4 L1615.8,1283.8 L1618.0,1285.2 L1620.3,1286.5 L1622.6,1287.8 L1624.8,1289.1 L1627.1,1290.3 L1629.4,1291.6 L1631.6,1292.8 L1633.9,1294.0 L1636.2,1295.2 L1638.4,1296.4 L1640.7,1297.5 L1643.0,1298.6 L1645.2,1299.7 L1647.5,1300.8 L1649.7,1301.9 L1652.0,1302.9 L1654.3,1304.0 L1656.5,1305.0 L1658.8,1306.0 L1661.1,1307.0 L1663.3,1307.9 L1665.6,1308.9 L1667.9,1309.8 L1670.1,1310.7 L1672.4,1311.7 L1674.7,1312.5 L1676.9,1313.4 L1679.2,1314.3 L1681.5,1315.1 L1683.7,1316.0 L1686.0,1316.8 L1688.3,1317.6 L1690.5,1318.4 L1692.8,1319.1 L1695.1,1319.9 L1697.3,1320.7 L1699.6,1321.4 L1701.9,1322.1 L1704.1,1322.8 L1706.4,1323.6 L1708.6,1324.2 L1710.9,1324.9 L1713.2,1325.6 L1715.4,1326.3 L1717.7,1326.9 L1720.0,1327.5 L1722.2,1328.2 L1724.5,1328.8 L1726.8,1329.4 L1729.0,1330.0 L1731.3,1330.6 L1733.6,1331.1 L1735.8,1331.7 L1738.1,1332.3 L1740.4,1332.8 L1742.6,1333.4 L1744.9,1333.9 L1747.2,1334.4 L1749.4,1334.9 L1751.7,1335.4 L1754.0,1335.9 L1756.2,1336.4 L1758.5,1336.9 L1760.7,1337.4 L1763.0,1337.8 L1765.3,1338.3 L1767.5,1338.7 L1769.8,1339.2 L1772.1,1339.6 L1774.3,1340.0 L1776.6,1340.4 L1778.9,1340.9 L1781.1,1341.3 L1783.4,1341.7 L1785.7,1342.0 L1787.9,1342.4 L1790.2,1342.8 L1792.5,1343.2 L1794.7,1343.6 L1797.0,1343.9 L1799.3,1344.3 L1801.5,1344.6 L1803.8,1345.0 L1806.1,1345.3 L1808.3,1345.6 L1810.6,1346.0 L1812.9,1346.3 L1815.1,1346.6 L1817.4,1346.9 L1819.6,1347.2 L1821.9,1347.5 L1824.2,1347.8 L1826.4,1348.1 L1828.7,1348.4 L1831.0,1348.7 L1833.2,1348.9 L1835.5,1349.2 L1837.8,1349.5 L1840.0,1349.7 L1842.3,1350.0 L1844.6,1350.2 L1846.8,1350.5 L1849.1,1350.7 L1851.4,1351.0 L1853.6,1351.2 L1855.9,1351.5 L1858.2,1351.7 L1860.4,1351.9 L1862.7,1352.1 L1865.0,1352.3 L1867.2,1352.6 L1869.5,1352.8 L1871.7,1353.0 L1874.0,1353.2 L1876.3,1353.4 L1878.5,1353.6 L1880.8,1353.8 L1883.1,1354.0 L1885.3,1354.2 L1887.6,1354.3 L1889.9,1354.5 L1892.1,1354.7 L1894.4,1354.9 L1896.7,1355.0 L1898.9,1355.2 L1901.2,1355.4 L1903.5,1355.5 L1905.7,1355.7 L1908.0,1355.9 L1910.3,1356.0 L1912.5,1356.2 L1914.8,1356.3 L1917.1,1356.5 L1919.3,1356.6 L1921.6,1356.8 L1923.9,1356.9 L1926.1,1357.1 L1928.4,1357.2 L1930.6,1357.3 L1932.9,1357.5 L1935.2,1357.6 L1937.4,1357.7 L1939.7,1357.8 L1942.0,1358.0 L1944.2,1358.1 L1946.5,1358.2 L1948.8,1358.3 L1951.0,1358.4 L1953.3,1358.5 L1955.6,1358.7 L1957.8,1358.8 L1960.1,1358.9 L1962.4,1359.0 L1964.6,1359.1 L1966.9,1359.2 L1969.2,1359.3 L1971.4,1359.4 L1973.7,1359.5 L1976.0,1359.6 L1978.2,1359.7 L1980.5,1359.8 L1982.8,1359.9 L1985.0,1360.0 L1987.3,1360.0 L1989.5,1360.1 L1991.8,1360.2 L1994.1,1360.3 L1996.3,1360.4 L1998.6,1360.5 L2000.9,1360.5 L2003.1,1360.6 L2005.4,1360.7 L2007.7,1360.8 L2009.9,1360.9 L2012.2,1360.9 L2014.5,1361.0 L2016.7,1361.1 L2019.0,1361.1 L2021.3,1361.2 L2023.5,1361.3 L2025.8,1361.3 L2028.1,1361.4 L2030.3,1361.5 L2032.6,1361.5 L2034.9,1361.6 L2037.1,1361.7 L2039.4,1361.7 L2041.6,1361.8 L2043.9,1361.8 L2046.2,1361.9 L2048.4,1362.0 L2050.7,1362.0 L2053.0,1362.1 L2055.2,1362.1 L2057.5,1362.2 L2059.8,1362.2 L2062.0,1362.3 L2064.3,1362.3 L2066.6,1362.4 L2068.8,1362.4 L2071.1,1362.5 L2073.4,1362.5 L2075.6,1362.6 L2077.9,1362.6 L2080.2,1362.6 L2082.4,1362.7 L2084.7,1362.7 L2087.0,1362.8 L2089.2,1362.8 L2091.5,1362.9 L2093.8,1362.9 L2096.0,1362.9 L2098.3,1363.0 L2100.5,1363.0 L2102.8,1363.1 L2105.1,1363.1 L2107.3,1363.1 L2109.6,1363.2 L2111.9,1363.2 L2114.1,1363.2 L2116.4,1363.3 L2118.7,1363.3 L2120.9,1363.3 L2123.2,1363.4 L2125.5,1363.4" fill="none" stroke="#FAE6A8" stroke-width="5.8" stroke-linecap="round" stroke-dasharray="10.5 19"/>
<rect x="1380.40" y="953.20" width="812.80" height="656.20" fill="none" stroke="#000" stroke-width="7.3" stroke-linejoin="miter"/>
<line x1="1367.45" y1="953.20" x2="1377.25" y2="953.20" stroke="#000" stroke-width="7.3"/>
<line x1="1367.45" y1="1084.44" x2="1377.25" y2="1084.44" stroke="#000" stroke-width="7.3"/>
<line x1="1367.45" y1="1215.68" x2="1377.25" y2="1215.68" stroke="#000" stroke-width="7.3"/>
<line x1="1367.45" y1="1346.92" x2="1377.25" y2="1346.92" stroke="#000" stroke-width="7.3"/>
<line x1="1367.45" y1="1478.16" x2="1377.25" y2="1478.16" stroke="#000" stroke-width="7.3"/>
<line x1="1367.45" y1="1609.40" x2="1377.25" y2="1609.40" stroke="#000" stroke-width="7.3"/>
<line x1="1448.13" y1="1612.55" x2="1448.13" y2="1622.35" stroke="#000" stroke-width="7.3"/>
<line x1="1583.60" y1="1612.55" x2="1583.60" y2="1622.35" stroke="#000" stroke-width="7.3"/>
<line x1="1719.07" y1="1612.55" x2="1719.07" y2="1622.35" stroke="#000" stroke-width="7.3"/>
<line x1="1854.53" y1="1612.55" x2="1854.53" y2="1622.35" stroke="#000" stroke-width="7.3"/>
<line x1="1990.00" y1="1612.55" x2="1990.00" y2="1622.35" stroke="#000" stroke-width="7.3"/>
<line x1="2125.47" y1="1612.55" x2="2125.47" y2="1622.35" stroke="#000" stroke-width="7.3"/>
<g transform="translate(1295.13,966.20) scale(1,1.041)" fill="#000" ><text x="0.00" y="0.00" font-size="45.8">0.1</text></g>
<g transform="translate(1333.33,1097.44) scale(1,1.041)" fill="#000" ><text x="0.00" y="0.00" font-size="45.8">0</text></g>
<g transform="translate(1279.88,1228.68) scale(1,1.041)" fill="#000" ><text x="0.00" y="0.00" font-size="45.8">-0.1</text></g>
<g transform="translate(1279.88,1359.92) scale(1,1.041)" fill="#000" ><text x="0.00" y="0.00" font-size="45.8">-0.2</text></g>
<g transform="translate(1279.88,1491.16) scale(1,1.041)" fill="#000" ><text x="0.00" y="0.00" font-size="45.8">-0.3</text></g>
<g transform="translate(1279.88,1622.40) scale(1,1.041)" fill="#000" ><text x="0.00" y="0.00" font-size="45.8">-0.4</text></g>
<g transform="translate(1435.43,1668.50) scale(1,1.041)" fill="#000" ><text x="0.00" y="0.00" font-size="45.8">0</text></g>
<g transform="translate(1545.54,1668.50) scale(1,1.041)" fill="#000" ><text x="0.00" y="0.00" font-size="45.8">200</text></g>
<g transform="translate(1681.45,1668.50) scale(1,1.041)" fill="#000" ><text x="0.00" y="0.00" font-size="45.8">400</text></g>
<g transform="translate(1816.43,1668.50) scale(1,1.041)" fill="#000" ><text x="0.00" y="0.00" font-size="45.8">600</text></g>
<g transform="translate(1952.00,1668.50) scale(1,1.041)" fill="#000" ><text x="0.00" y="0.00" font-size="45.8">800</text></g>
<g transform="translate(2074.02,1668.50) scale(1,1.041)" fill="#000" ><text x="0.00" y="0.00" font-size="45.8">1000</text></g>
<g transform="translate(1669.27,1733.60) scale(1,0.975)" fill="#000" ><text x="0.00" y="0.00" font-size="64.9">Time (s)</text></g>
<g transform="translate(1254.0,1377.8) rotate(-90)"><text x="-0.17" y="0" font-size="55.3" transform="translate(0,-6.52) scale(1,0.87)" style="font-family:'DejaVu Sans',sans-serif;font-weight:bold">△</text></g>
<g transform="translate(1254.00,1333.24) rotate(-90) scale(1,1.0)" fill="#000" ><text x="0.00" y="0.00" font-size="65">V</text><text x="44.35" y="0.00" font-size="36">th</text><text x="78.33" y="0.00" font-size="65"> (V)</text></g>
<g transform="translate(1398.10,1005.50) scale(1,1.041)" fill="#000" ><text x="0.00" y="0.00" font-size="43.3">NBIS</text></g>
<line x1="1728.7" y1="996.9" x2="1802.7" y2="996.9" stroke="#FF8080" stroke-width="5.6" stroke-linecap="round"/>
<circle cx="1765.8" cy="996.9" r="13.3" fill="url(#gred)"/>
<g transform="translate(1812.20,1010.50) scale(1,1.041)" fill="#000" ><text x="0.00" y="0.00" font-size="37.3">ITO/ZnO</text></g>
<line x1="1977.5" y1="988.1" x2="2046.9" y2="988.1" stroke="#FFB4BA" stroke-width="5.5" stroke-linecap="round" stroke-dasharray="10.5 18.7"/>
<g transform="translate(2080.70,1001.90) scale(1,1.041)" fill="#000" ><text x="0.00" y="0.00" font-size="37.3">Fitted</text></g>
<line x1="1728.7" y1="1043.0" x2="1802.7" y2="1043.0" stroke="#78B0DE" stroke-width="5.6" stroke-linecap="round"/>
<circle cx="1765.8" cy="1043.0" r="13.3" fill="url(#gblue)"/>
<g transform="translate(1812.20,1056.60) scale(1,1.041)" fill="#000" ><text x="0.00" y="0.00" font-size="37.3">ITO</text></g>
<line x1="1977.5" y1="1034.7" x2="2046.9" y2="1034.7" stroke="#B8D3F0" stroke-width="5.5" stroke-linecap="round" stroke-dasharray="10.5 18.7"/>
<g transform="translate(2080.70,1048.10) scale(1,1.041)" fill="#000" ><text x="0.00" y="0.00" font-size="37.3">Fitted</text></g>
<line x1="1728.7" y1="1089.2" x2="1802.7" y2="1089.2" stroke="#FFE07A" stroke-width="5.6" stroke-linecap="round"/>
<circle cx="1765.8" cy="1089.2" r="13.3" fill="url(#gyellow)"/>
<g transform="translate(1813.59,1102.80) scale(1,1.041)" fill="#000" ><text x="0.00" y="0.00" font-size="37.3">ZnO</text></g>
<line x1="1977.5" y1="1081.1" x2="2046.9" y2="1081.1" stroke="#FAE6A8" stroke-width="5.5" stroke-linecap="round" stroke-dasharray="10.5 18.7"/>
<g transform="translate(2080.70,1094.30) scale(1,1.041)" fill="#000" ><text x="0.00" y="0.00" font-size="37.3">Fitted</text></g>
<g transform="translate(1134.68,935.00) scale(1,1.0)" fill="#000" ><text x="0.00" y="0.00" font-size="82.8">(d)</text></g>
</svg></body></html>
